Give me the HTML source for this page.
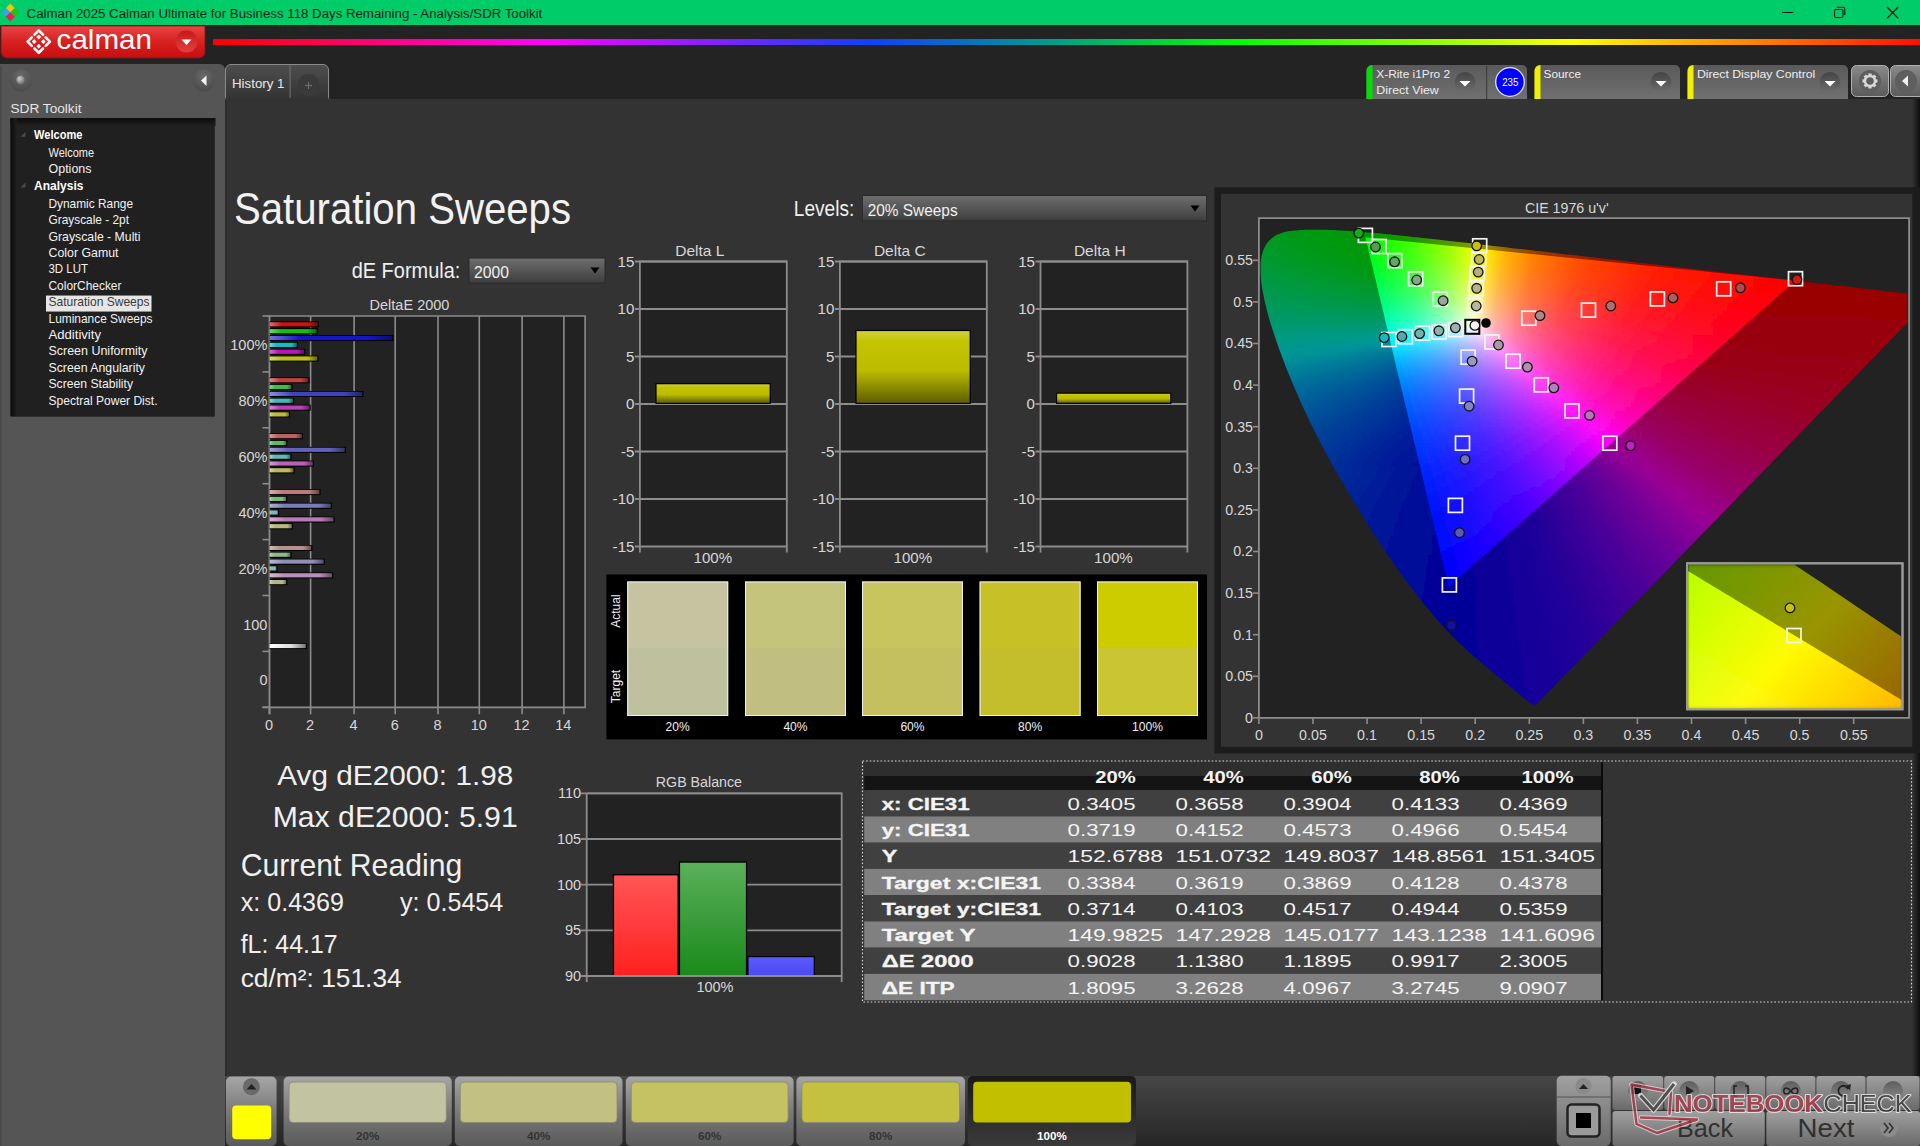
<!DOCTYPE html><html><head><meta charset="utf-8"><title>Calman Saturation Sweeps</title><style>html,body{margin:0;padding:0;width:1920px;height:1146px;overflow:hidden;background:#232323;}svg{display:block;font-family:"Liberation Sans",sans-serif;}</style></head><body><svg width="1920" height="1146" viewBox="0 0 1920 1146" font-family="Liberation Sans, sans-serif"><defs><linearGradient id="gRed" x1="0" y1="0" x2="0" y2="1"><stop offset="0" stop-color="#e84444"/><stop offset="0.5" stop-color="#d82020"/><stop offset="1" stop-color="#c80e0e"/></linearGradient><linearGradient id="gRedBtn" x1="0" y1="0" x2="0" y2="1"><stop offset="0" stop-color="#c81818"/><stop offset="1" stop-color="#e04040"/></linearGradient><linearGradient id="gRain" x1="0" y1="0" x2="1" y2="0"><stop offset="0" stop-color="#ff0000"/><stop offset="0.196" stop-color="#ff00ff"/><stop offset="0.385" stop-color="#1040ff"/><stop offset="0.495" stop-color="#00a088"/><stop offset="0.6" stop-color="#00ff00"/><stop offset="0.797" stop-color="#ffff00"/><stop offset="1" stop-color="#ff1000"/></linearGradient><radialGradient id="gKnob" cx="0.5" cy="0.3" r="0.7"><stop offset="0" stop-color="#6a6a6a"/><stop offset="1" stop-color="#4a4a4a"/></radialGradient><radialGradient id="gBall" cx="0.4" cy="0.35" r="0.6"><stop offset="0" stop-color="#cfcfcf"/><stop offset="1" stop-color="#777"/></radialGradient><linearGradient id="gTreeTop" x1="0" y1="0" x2="0" y2="1"><stop offset="0" stop-color="#0c0c0c"/><stop offset="1" stop-color="#1f1f1f"/></linearGradient><linearGradient id="gTreeL" x1="0" y1="0" x2="1" y2="0"><stop offset="0" stop-color="#0c0c0c"/><stop offset="1" stop-color="#1f1f1f"/></linearGradient><linearGradient id="gTab" x1="0" y1="0" x2="0" y2="1"><stop offset="0" stop-color="#4e4e4e"/><stop offset="1" stop-color="#333333"/></linearGradient><radialGradient id="gPlus" cx="0.5" cy="0.4" r="0.6"><stop offset="0" stop-color="#3c3c3c"/><stop offset="1" stop-color="#444"/></radialGradient><linearGradient id="gTool" x1="0" y1="0" x2="0" y2="1"><stop offset="0" stop-color="#5a5a5a"/><stop offset="1" stop-color="#707070"/></linearGradient><linearGradient id="gDrop" x1="0" y1="0" x2="0" y2="1"><stop offset="0" stop-color="#444"/><stop offset="1" stop-color="#6e6e6e"/></linearGradient><linearGradient id="gGear" x1="0" y1="0" x2="0" y2="1"><stop offset="0" stop-color="#8a8a8a"/><stop offset="1" stop-color="#5a5a5a"/></linearGradient><linearGradient id="gRShadow" x1="0" y1="0" x2="1" y2="0"><stop offset="0" stop-color="#333333"/><stop offset="1" stop-color="#0e0e0e"/></linearGradient><linearGradient id="gCombo" x1="0" y1="0" x2="0" y2="1"><stop offset="0" stop-color="#6e6e6e"/><stop offset="1" stop-color="#3e3e3e"/></linearGradient><linearGradient id="gBar00" x1="0" y1="0" x2="1" y2="0"><stop offset="0" stop-color="#de7272"/><stop offset="0.25" stop-color="#c81414"/><stop offset="0.8" stop-color="#c81414"/><stop offset="1" stop-color="#6e0b0b"/></linearGradient><linearGradient id="gBar01" x1="0" y1="0" x2="1" y2="0"><stop offset="0" stop-color="#72d872"/><stop offset="0.25" stop-color="#14be14"/><stop offset="0.8" stop-color="#14be14"/><stop offset="1" stop-color="#0b680b"/></linearGradient><linearGradient id="gBar02" x1="0" y1="0" x2="1" y2="0"><stop offset="0" stop-color="#7272de"/><stop offset="0.25" stop-color="#1414c8"/><stop offset="0.8" stop-color="#1414c8"/><stop offset="1" stop-color="#0b0b6e"/></linearGradient><linearGradient id="gBar03" x1="0" y1="0" x2="1" y2="0"><stop offset="0" stop-color="#72d8d8"/><stop offset="0.25" stop-color="#14bebe"/><stop offset="0.8" stop-color="#14bebe"/><stop offset="1" stop-color="#0b6868"/></linearGradient><linearGradient id="gBar04" x1="0" y1="0" x2="1" y2="0"><stop offset="0" stop-color="#d872d8"/><stop offset="0.25" stop-color="#be14be"/><stop offset="0.8" stop-color="#be14be"/><stop offset="1" stop-color="#680b68"/></linearGradient><linearGradient id="gBar05" x1="0" y1="0" x2="1" y2="0"><stop offset="0" stop-color="#d8d872"/><stop offset="0.25" stop-color="#bebe14"/><stop offset="0.8" stop-color="#bebe14"/><stop offset="1" stop-color="#68680b"/></linearGradient><linearGradient id="gBar10" x1="0" y1="0" x2="1" y2="0"><stop offset="0" stop-color="#da8d8d"/><stop offset="0.25" stop-color="#c24141"/><stop offset="0.8" stop-color="#c24141"/><stop offset="1" stop-color="#6b2323"/></linearGradient><linearGradient id="gBar11" x1="0" y1="0" x2="1" y2="0"><stop offset="0" stop-color="#8dd68d"/><stop offset="0.25" stop-color="#41bb41"/><stop offset="0.8" stop-color="#41bb41"/><stop offset="1" stop-color="#236723"/></linearGradient><linearGradient id="gBar12" x1="0" y1="0" x2="1" y2="0"><stop offset="0" stop-color="#8d8dda"/><stop offset="0.25" stop-color="#4141c2"/><stop offset="0.8" stop-color="#4141c2"/><stop offset="1" stop-color="#23236b"/></linearGradient><linearGradient id="gBar13" x1="0" y1="0" x2="1" y2="0"><stop offset="0" stop-color="#8dd6d6"/><stop offset="0.25" stop-color="#41bbbb"/><stop offset="0.8" stop-color="#41bbbb"/><stop offset="1" stop-color="#236767"/></linearGradient><linearGradient id="gBar14" x1="0" y1="0" x2="1" y2="0"><stop offset="0" stop-color="#d68dd6"/><stop offset="0.25" stop-color="#bb41bb"/><stop offset="0.8" stop-color="#bb41bb"/><stop offset="1" stop-color="#672367"/></linearGradient><linearGradient id="gBar15" x1="0" y1="0" x2="1" y2="0"><stop offset="0" stop-color="#d6d68d"/><stop offset="0.25" stop-color="#bbbb41"/><stop offset="0.8" stop-color="#bbbb41"/><stop offset="1" stop-color="#676723"/></linearGradient><linearGradient id="gBar20" x1="0" y1="0" x2="1" y2="0"><stop offset="0" stop-color="#d8a0a0"/><stop offset="0.25" stop-color="#bf6161"/><stop offset="0.8" stop-color="#bf6161"/><stop offset="1" stop-color="#693535"/></linearGradient><linearGradient id="gBar21" x1="0" y1="0" x2="1" y2="0"><stop offset="0" stop-color="#a0d5a0"/><stop offset="0.25" stop-color="#61ba61"/><stop offset="0.8" stop-color="#61ba61"/><stop offset="1" stop-color="#356635"/></linearGradient><linearGradient id="gBar22" x1="0" y1="0" x2="1" y2="0"><stop offset="0" stop-color="#a0a0d8"/><stop offset="0.25" stop-color="#6161bf"/><stop offset="0.8" stop-color="#6161bf"/><stop offset="1" stop-color="#353569"/></linearGradient><linearGradient id="gBar23" x1="0" y1="0" x2="1" y2="0"><stop offset="0" stop-color="#a0d5d5"/><stop offset="0.25" stop-color="#61baba"/><stop offset="0.8" stop-color="#61baba"/><stop offset="1" stop-color="#356666"/></linearGradient><linearGradient id="gBar24" x1="0" y1="0" x2="1" y2="0"><stop offset="0" stop-color="#d5a0d5"/><stop offset="0.25" stop-color="#ba61ba"/><stop offset="0.8" stop-color="#ba61ba"/><stop offset="1" stop-color="#663566"/></linearGradient><linearGradient id="gBar25" x1="0" y1="0" x2="1" y2="0"><stop offset="0" stop-color="#d5d5a0"/><stop offset="0.25" stop-color="#baba61"/><stop offset="0.8" stop-color="#baba61"/><stop offset="1" stop-color="#666635"/></linearGradient><linearGradient id="gBar30" x1="0" y1="0" x2="1" y2="0"><stop offset="0" stop-color="#d7b0b0"/><stop offset="0.25" stop-color="#bc7b7b"/><stop offset="0.8" stop-color="#bc7b7b"/><stop offset="1" stop-color="#674444"/></linearGradient><linearGradient id="gBar31" x1="0" y1="0" x2="1" y2="0"><stop offset="0" stop-color="#b0d4b0"/><stop offset="0.25" stop-color="#7bb87b"/><stop offset="0.8" stop-color="#7bb87b"/><stop offset="1" stop-color="#446544"/></linearGradient><linearGradient id="gBar32" x1="0" y1="0" x2="1" y2="0"><stop offset="0" stop-color="#b0b0d7"/><stop offset="0.25" stop-color="#7b7bbc"/><stop offset="0.8" stop-color="#7b7bbc"/><stop offset="1" stop-color="#444467"/></linearGradient><linearGradient id="gBar33" x1="0" y1="0" x2="1" y2="0"><stop offset="0" stop-color="#b0d4d4"/><stop offset="0.25" stop-color="#7bb8b8"/><stop offset="0.8" stop-color="#7bb8b8"/><stop offset="1" stop-color="#446565"/></linearGradient><linearGradient id="gBar34" x1="0" y1="0" x2="1" y2="0"><stop offset="0" stop-color="#d4b0d4"/><stop offset="0.25" stop-color="#b87bb8"/><stop offset="0.8" stop-color="#b87bb8"/><stop offset="1" stop-color="#654465"/></linearGradient><linearGradient id="gBar35" x1="0" y1="0" x2="1" y2="0"><stop offset="0" stop-color="#d4d4b0"/><stop offset="0.25" stop-color="#b8b87b"/><stop offset="0.8" stop-color="#b8b87b"/><stop offset="1" stop-color="#656544"/></linearGradient><linearGradient id="gBar40" x1="0" y1="0" x2="1" y2="0"><stop offset="0" stop-color="#d5bbbb"/><stop offset="0.25" stop-color="#ba8f8f"/><stop offset="0.8" stop-color="#ba8f8f"/><stop offset="1" stop-color="#664e4e"/></linearGradient><linearGradient id="gBar41" x1="0" y1="0" x2="1" y2="0"><stop offset="0" stop-color="#bbd4bb"/><stop offset="0.25" stop-color="#8fb78f"/><stop offset="0.8" stop-color="#8fb78f"/><stop offset="1" stop-color="#4e654e"/></linearGradient><linearGradient id="gBar42" x1="0" y1="0" x2="1" y2="0"><stop offset="0" stop-color="#bbbbd5"/><stop offset="0.25" stop-color="#8f8fba"/><stop offset="0.8" stop-color="#8f8fba"/><stop offset="1" stop-color="#4e4e66"/></linearGradient><linearGradient id="gBar43" x1="0" y1="0" x2="1" y2="0"><stop offset="0" stop-color="#bbd4d4"/><stop offset="0.25" stop-color="#8fb7b7"/><stop offset="0.8" stop-color="#8fb7b7"/><stop offset="1" stop-color="#4e6565"/></linearGradient><linearGradient id="gBar44" x1="0" y1="0" x2="1" y2="0"><stop offset="0" stop-color="#d4bbd4"/><stop offset="0.25" stop-color="#b78fb7"/><stop offset="0.8" stop-color="#b78fb7"/><stop offset="1" stop-color="#654e65"/></linearGradient><linearGradient id="gBar45" x1="0" y1="0" x2="1" y2="0"><stop offset="0" stop-color="#d4d4bb"/><stop offset="0.25" stop-color="#b7b78f"/><stop offset="0.8" stop-color="#b7b78f"/><stop offset="1" stop-color="#65654e"/></linearGradient><linearGradient id="gBarW" x1="0" y1="0" x2="1" y2="0"><stop offset="0" stop-color="#ffffff"/><stop offset="0.6" stop-color="#dddddd"/><stop offset="1" stop-color="#777777"/></linearGradient><linearGradient id="gDeltaBar" x1="0" y1="0" x2="0" y2="1"><stop offset="0" stop-color="#d0d040"/><stop offset="0.15" stop-color="#c4c400"/><stop offset="0.55" stop-color="#bcbc00"/><stop offset="1" stop-color="#5e5e00"/></linearGradient><clipPath id="cpLocus"><polygon points="1536.7,704.2 1536.6,704.2 1536.6,704.2 1536.5,704.2 1536.4,704.3 1536.3,704.3 1536.2,704.3 1536.1,704.4 1536.0,704.4 1535.9,704.5 1535.8,704.5 1535.7,704.6 1535.5,704.6 1535.3,704.7 1535.1,704.7 1534.9,704.7 1534.7,704.7 1534.4,704.7 1534.1,704.6 1533.8,704.6 1533.6,704.6 1533.2,704.5 1532.9,704.4 1532.3,704.2 1531.7,703.9 1530.9,703.3 1530.0,702.8 1529.0,702.1 1527.8,701.2 1526.5,700.2 1525.0,699.1 1523.4,697.8 1521.7,696.3 1519.8,694.7 1517.7,693.0 1515.3,691.0 1512.8,688.9 1509.8,686.4 1506.4,683.6 1502.8,680.6 1499.2,677.6 1495.7,674.7 1492.6,672.2 1490.0,670.0 1487.7,668.1 1485.5,666.3 1483.4,664.5 1481.2,662.7 1478.8,660.6 1476.2,658.3 1473.5,656.0 1470.7,653.6 1467.8,651.0 1464.9,648.3 1461.9,645.4 1458.8,642.4 1455.6,639.4 1452.4,636.2 1449.0,632.8 1445.4,629.0 1441.6,624.8 1437.6,620.2 1433.4,615.3 1428.9,610.0 1424.3,604.4 1419.6,598.5 1414.7,592.3 1409.8,585.7 1404.6,578.7 1399.3,571.5 1393.9,563.9 1388.4,556.0 1382.9,547.8 1377.3,539.3 1371.6,530.4 1365.8,521.1 1359.9,511.7 1354.2,502.2 1348.5,492.6 1342.8,482.8 1337.0,472.9 1331.3,462.8 1325.8,452.7 1320.4,442.6 1315.3,432.8 1310.5,423.0 1305.8,413.1 1301.3,403.4 1297.1,393.8 1293.1,384.4 1289.3,375.4 1285.8,366.7 1282.5,358.1 1279.5,349.9 1276.7,341.9 1274.1,334.2 1271.7,327.0 1269.6,320.2 1267.8,313.7 1266.2,307.6 1264.8,301.7 1263.7,296.2 1262.6,291.0 1261.8,286.1 1261.2,281.6 1260.8,277.3 1260.5,273.3 1260.4,269.6 1260.4,266.0 1260.6,262.6 1261.0,259.4 1261.5,256.5 1262.2,253.8 1263.0,251.2 1263.9,248.8 1265.0,246.5 1266.2,244.5 1267.5,242.6 1269.0,240.9 1270.5,239.3 1272.2,237.9 1273.9,236.6 1275.7,235.5 1277.7,234.5 1279.7,233.7 1281.8,233.0 1283.9,232.3 1286.1,231.7 1288.3,231.3 1290.6,230.9 1293.0,230.7 1295.4,230.4 1297.8,230.2 1300.3,230.0 1302.8,229.9 1305.3,229.8 1307.9,229.8 1310.5,229.8 1313.0,229.7 1315.6,229.7 1318.1,229.7 1320.7,229.7 1323.3,229.8 1325.9,229.8 1328.5,229.9 1331.1,230.0 1333.7,230.1 1336.4,230.2 1339.1,230.4 1341.8,230.5 1344.6,230.7 1347.4,230.8 1350.2,231.0 1353.1,231.2 1356.0,231.4 1358.9,231.7 1361.9,231.9 1365.0,232.2 1368.0,232.4 1371.1,232.7 1374.3,233.0 1377.5,233.3 1380.8,233.6 1384.1,233.9 1387.5,234.3 1390.9,234.6 1394.4,235.0 1397.9,235.3 1401.5,235.7 1405.2,236.1 1408.9,236.5 1412.7,236.9 1416.6,237.3 1420.5,237.7 1424.5,238.2 1428.6,238.6 1432.7,239.1 1436.9,239.6 1441.1,240.0 1445.5,240.5 1449.9,241.0 1454.4,241.5 1459.0,242.0 1463.6,242.6 1468.3,243.1 1473.1,243.6 1478.0,244.2 1482.9,244.8 1488.0,245.3 1493.1,245.9 1498.3,246.5 1503.5,247.1 1508.9,247.7 1514.3,248.4 1519.8,249.0 1525.4,249.6 1531.1,250.3 1536.8,250.9 1542.6,251.6 1548.5,252.3 1554.5,253.0 1560.5,253.7 1566.6,254.4 1572.7,255.1 1579.0,255.8 1585.2,256.5 1591.6,257.2 1598.0,258.0 1604.4,258.7 1610.9,259.5 1617.4,260.2 1623.9,261.0 1630.5,261.7 1637.2,262.5 1643.8,263.3 1650.4,264.0 1657.0,264.8 1663.5,265.5 1669.9,266.3 1676.3,267.0 1682.7,267.7 1689.0,268.4 1695.3,269.2 1701.6,269.9 1707.9,270.6 1714.2,271.3 1720.5,272.1 1726.6,272.8 1732.6,273.5 1738.4,274.1 1744.2,274.8 1749.9,275.4 1755.4,276.1 1760.9,276.7 1766.3,277.3 1771.5,277.9 1776.6,278.5 1781.7,279.1 1786.6,279.6 1791.4,280.2 1796.1,280.7 1800.6,281.3 1805.0,281.8 1809.3,282.3 1813.5,282.7 1817.6,283.2 1821.5,283.7 1825.3,284.1 1829.0,284.5 1832.6,284.9 1836.1,285.3 1839.5,285.7 1842.8,286.1 1845.9,286.5 1848.7,286.8 1851.3,287.1 1854.1,287.4 1857.2,287.8 1860.7,288.2 1865.0,288.7 1869.9,289.2 1875.0,289.8 1880.2,290.4 1885.1,291.0 1889.4,291.5 1893.2,291.9 1896.7,292.3 1900.0,292.7 1902.9,293.0 1905.7,293.3 1908.3,293.6 1910.6,293.9 1912.7,294.1 1914.5,294.4 1916.2,294.5 1917.9,294.7 1919.6,294.9 1921.4,295.1 1923.2,295.4 1925.0,295.6 1926.7,295.8 1928.2,295.9 1929.5,296.1 1930.5,296.2 1931.3,296.3 1931.9,296.4 1932.4,296.4 1932.8,296.5 1933.1,296.5"/></clipPath><clipPath id="cpPlot"><rect x="1259" y="218" width="649" height="499"/></clipPath><clipPath id="cpTri"><polygon points="1795.7,280.6 1365.5,237.3 1448.6,586.5"/></clipPath><filter id="fBlurV" x="-2%" y="-2%" width="104%" height="104%"><feGaussianBlur stdDeviation="0.8 2.2"/></filter><linearGradient id="gd0" gradientUnits="userSpaceOnUse" x1="1260" y1="0" x2="1908" y2="0"><stop offset="0.0008" stop-color="#009919"/><stop offset="0.1505" stop-color="#029900"/><stop offset="0.2245" stop-color="#229900"/><stop offset="0.2971" stop-color="#609900"/><stop offset="0.3465" stop-color="#999600"/><stop offset="0.3989" stop-color="#996100"/><stop offset="0.4823" stop-color="#993700"/><stop offset="0.6319" stop-color="#991800"/><stop offset="0.9745" stop-color="#990400"/><stop offset="0.9992" stop-color="#990400"/></linearGradient><linearGradient id="gd4" gradientUnits="userSpaceOnUse" x1="1260" y1="0" x2="1908" y2="0"><stop offset="0.0008" stop-color="#00991c"/><stop offset="0.1566" stop-color="#029900"/><stop offset="0.2276" stop-color="#229900"/><stop offset="0.2986" stop-color="#609900"/><stop offset="0.3465" stop-color="#999500"/><stop offset="0.3974" stop-color="#996100"/><stop offset="0.4776" stop-color="#993700"/><stop offset="0.6227" stop-color="#991800"/><stop offset="0.9560" stop-color="#990400"/><stop offset="0.9992" stop-color="#990300"/></linearGradient><linearGradient id="gd8" gradientUnits="userSpaceOnUse" x1="1260" y1="0" x2="1908" y2="0"><stop offset="0.0008" stop-color="#00991e"/><stop offset="0.1628" stop-color="#029900"/><stop offset="0.2307" stop-color="#219900"/><stop offset="0.2986" stop-color="#5f9900"/><stop offset="0.3449" stop-color="#999600"/><stop offset="0.3927" stop-color="#996200"/><stop offset="0.4684" stop-color="#993800"/><stop offset="0.6042" stop-color="#991900"/><stop offset="0.9128" stop-color="#990500"/><stop offset="0.9992" stop-color="#990300"/></linearGradient><linearGradient id="gd12" gradientUnits="userSpaceOnUse" x1="1260" y1="0" x2="1908" y2="0"><stop offset="0.0008" stop-color="#009920"/><stop offset="0.1690" stop-color="#029900"/><stop offset="0.2338" stop-color="#209900"/><stop offset="0.2986" stop-color="#5d9900"/><stop offset="0.3449" stop-color="#999500"/><stop offset="0.3912" stop-color="#996100"/><stop offset="0.4653" stop-color="#993700"/><stop offset="0.5980" stop-color="#991800"/><stop offset="0.9020" stop-color="#990400"/><stop offset="0.9992" stop-color="#990200"/></linearGradient><linearGradient id="gd16" gradientUnits="userSpaceOnUse" x1="1260" y1="0" x2="1908" y2="0"><stop offset="0.0008" stop-color="#009923"/><stop offset="0.1767" stop-color="#029900"/><stop offset="0.2384" stop-color="#219900"/><stop offset="0.3002" stop-color="#5e9900"/><stop offset="0.3434" stop-color="#999600"/><stop offset="0.3881" stop-color="#996200"/><stop offset="0.4576" stop-color="#993800"/><stop offset="0.5826" stop-color="#991800"/><stop offset="0.8681" stop-color="#990500"/><stop offset="0.9992" stop-color="#990200"/></linearGradient><linearGradient id="gd20" gradientUnits="userSpaceOnUse" x1="1260" y1="0" x2="1908" y2="0"><stop offset="0.0008" stop-color="#009926"/><stop offset="0.1829" stop-color="#039900"/><stop offset="0.2431" stop-color="#219900"/><stop offset="0.3017" stop-color="#5e9900"/><stop offset="0.3434" stop-color="#999500"/><stop offset="0.3866" stop-color="#996100"/><stop offset="0.4545" stop-color="#993700"/><stop offset="0.5764" stop-color="#991800"/><stop offset="0.8573" stop-color="#990400"/><stop offset="0.9992" stop-color="#990200"/></linearGradient><linearGradient id="gd24" gradientUnits="userSpaceOnUse" x1="1260" y1="0" x2="1908" y2="0"><stop offset="0.0008" stop-color="#009928"/><stop offset="0.1844" stop-color="#039901"/><stop offset="0.2461" stop-color="#229900"/><stop offset="0.3002" stop-color="#5a9900"/><stop offset="0.3418" stop-color="#999700"/><stop offset="0.3819" stop-color="#996300"/><stop offset="0.4452" stop-color="#993800"/><stop offset="0.5579" stop-color="#991900"/><stop offset="0.8140" stop-color="#990500"/><stop offset="0.9992" stop-color="#990100"/></linearGradient><linearGradient id="gd28" gradientUnits="userSpaceOnUse" x1="1260" y1="0" x2="1908" y2="0"><stop offset="0.0008" stop-color="#00992b"/><stop offset="0.1860" stop-color="#039902"/><stop offset="0.2461" stop-color="#229901"/><stop offset="0.3017" stop-color="#5c9900"/><stop offset="0.3418" stop-color="#999600"/><stop offset="0.3804" stop-color="#996100"/><stop offset="0.4406" stop-color="#993800"/><stop offset="0.5486" stop-color="#991900"/><stop offset="0.7955" stop-color="#990500"/><stop offset="0.9992" stop-color="#990100"/></linearGradient><linearGradient id="gd32" gradientUnits="userSpaceOnUse" x1="1260" y1="0" x2="1908" y2="0"><stop offset="0.0008" stop-color="#00992e"/><stop offset="0.1875" stop-color="#039904"/><stop offset="0.2477" stop-color="#239903"/><stop offset="0.3017" stop-color="#5c9902"/><stop offset="0.3403" stop-color="#999701"/><stop offset="0.3789" stop-color="#996100"/><stop offset="0.4360" stop-color="#993700"/><stop offset="0.5394" stop-color="#991800"/><stop offset="0.7770" stop-color="#990400"/><stop offset="0.9992" stop-color="#990000"/></linearGradient><linearGradient id="gd36" gradientUnits="userSpaceOnUse" x1="1260" y1="0" x2="1908" y2="0"><stop offset="0.0008" stop-color="#009931"/><stop offset="0.1890" stop-color="#039906"/><stop offset="0.2492" stop-color="#239905"/><stop offset="0.3032" stop-color="#5e9904"/><stop offset="0.3403" stop-color="#999603"/><stop offset="0.3789" stop-color="#996001"/><stop offset="0.4375" stop-color="#993500"/><stop offset="0.5347" stop-color="#991700"/><stop offset="0.7708" stop-color="#990400"/><stop offset="0.9992" stop-color="#990000"/></linearGradient><linearGradient id="gd40" gradientUnits="userSpaceOnUse" x1="1260" y1="0" x2="1908" y2="0"><stop offset="0.0008" stop-color="#009934"/><stop offset="0.1613" stop-color="#00990d"/><stop offset="0.2153" stop-color="#0d9908"/><stop offset="0.2724" stop-color="#399907"/><stop offset="0.3218" stop-color="#7b9906"/><stop offset="0.3403" stop-color="#999505"/><stop offset="0.3789" stop-color="#995f03"/><stop offset="0.4375" stop-color="#993401"/><stop offset="0.5363" stop-color="#991500"/><stop offset="0.7801" stop-color="#990300"/><stop offset="0.9992" stop-color="#990000"/></linearGradient><linearGradient id="gd44" gradientUnits="userSpaceOnUse" x1="1260" y1="0" x2="1908" y2="0"><stop offset="0.0008" stop-color="#009937"/><stop offset="0.1566" stop-color="#009912"/><stop offset="0.2106" stop-color="#0a990b"/><stop offset="0.2677" stop-color="#34990a"/><stop offset="0.3171" stop-color="#749909"/><stop offset="0.3387" stop-color="#999708"/><stop offset="0.3758" stop-color="#996105"/><stop offset="0.4329" stop-color="#993502"/><stop offset="0.5301" stop-color="#991500"/><stop offset="0.7307" stop-color="#990400"/><stop offset="0.9992" stop-color="#990000"/></linearGradient><linearGradient id="gd48" gradientUnits="userSpaceOnUse" x1="1260" y1="0" x2="1908" y2="0"><stop offset="0.0008" stop-color="#00993b"/><stop offset="0.1551" stop-color="#009917"/><stop offset="0.2029" stop-color="#06990f"/><stop offset="0.2600" stop-color="#2c990e"/><stop offset="0.3094" stop-color="#68990d"/><stop offset="0.3387" stop-color="#99960c"/><stop offset="0.3758" stop-color="#996007"/><stop offset="0.4329" stop-color="#993403"/><stop offset="0.5316" stop-color="#991401"/><stop offset="0.7276" stop-color="#990300"/><stop offset="0.9992" stop-color="#990000"/></linearGradient><linearGradient id="gd52" gradientUnits="userSpaceOnUse" x1="1260" y1="0" x2="1908" y2="0"><stop offset="0.0008" stop-color="#00993e"/><stop offset="0.1535" stop-color="#00991b"/><stop offset="0.1983" stop-color="#049913"/><stop offset="0.2554" stop-color="#279912"/><stop offset="0.3048" stop-color="#629911"/><stop offset="0.3372" stop-color="#999811"/><stop offset="0.3727" stop-color="#99620a"/><stop offset="0.4282" stop-color="#993605"/><stop offset="0.5224" stop-color="#991502"/><stop offset="0.7184" stop-color="#990200"/><stop offset="0.9992" stop-color="#990000"/></linearGradient><linearGradient id="gd56" gradientUnits="userSpaceOnUse" x1="1260" y1="0" x2="1908" y2="0"><stop offset="0.0008" stop-color="#009941"/><stop offset="0.1535" stop-color="#009920"/><stop offset="0.1983" stop-color="#049917"/><stop offset="0.2539" stop-color="#259917"/><stop offset="0.3032" stop-color="#609916"/><stop offset="0.3372" stop-color="#999615"/><stop offset="0.3727" stop-color="#99610e"/><stop offset="0.4282" stop-color="#993507"/><stop offset="0.5224" stop-color="#991503"/><stop offset="0.7215" stop-color="#990200"/><stop offset="0.9992" stop-color="#990001"/></linearGradient><linearGradient id="gd60" gradientUnits="userSpaceOnUse" x1="1260" y1="0" x2="1908" y2="0"><stop offset="0.0008" stop-color="#009945"/><stop offset="0.1983" stop-color="#04991b"/><stop offset="0.2539" stop-color="#25991b"/><stop offset="0.3032" stop-color="#60991c"/><stop offset="0.3372" stop-color="#99951b"/><stop offset="0.3727" stop-color="#996011"/><stop offset="0.4267" stop-color="#99350a"/><stop offset="0.5208" stop-color="#991404"/><stop offset="0.7199" stop-color="#990200"/><stop offset="0.9992" stop-color="#990001"/></linearGradient><linearGradient id="gd64" gradientUnits="userSpaceOnUse" x1="1260" y1="0" x2="1908" y2="0"><stop offset="0.0008" stop-color="#009948"/><stop offset="0.1551" stop-color="#00992a"/><stop offset="0.1983" stop-color="#039920"/><stop offset="0.2523" stop-color="#239921"/><stop offset="0.3017" stop-color="#5e9921"/><stop offset="0.3356" stop-color="#999722"/><stop offset="0.3711" stop-color="#996016"/><stop offset="0.4252" stop-color="#99350c"/><stop offset="0.5177" stop-color="#991405"/><stop offset="0.7137" stop-color="#990201"/><stop offset="0.9992" stop-color="#990001"/></linearGradient><linearGradient id="gd68" gradientUnits="userSpaceOnUse" x1="1260" y1="0" x2="1908" y2="0"><stop offset="0.0008" stop-color="#00994c"/><stop offset="0.1566" stop-color="#00992f"/><stop offset="0.1998" stop-color="#039926"/><stop offset="0.2539" stop-color="#249927"/><stop offset="0.3017" stop-color="#5e9928"/><stop offset="0.3356" stop-color="#999628"/><stop offset="0.3696" stop-color="#99611b"/><stop offset="0.4221" stop-color="#99350f"/><stop offset="0.5116" stop-color="#991507"/><stop offset="0.6998" stop-color="#990201"/><stop offset="0.9992" stop-color="#990002"/></linearGradient><linearGradient id="gd72" gradientUnits="userSpaceOnUse" x1="1260" y1="0" x2="1908" y2="0"><stop offset="0.0008" stop-color="#009950"/><stop offset="0.1597" stop-color="#009933"/><stop offset="0.2029" stop-color="#04992c"/><stop offset="0.2554" stop-color="#25992d"/><stop offset="0.3032" stop-color="#61992f"/><stop offset="0.3356" stop-color="#99952f"/><stop offset="0.3696" stop-color="#996020"/><stop offset="0.4221" stop-color="#993413"/><stop offset="0.5131" stop-color="#991409"/><stop offset="0.7060" stop-color="#990202"/><stop offset="0.9992" stop-color="#990002"/></linearGradient><linearGradient id="gd76" gradientUnits="userSpaceOnUse" x1="1260" y1="0" x2="1908" y2="0"><stop offset="0.0008" stop-color="#009953"/><stop offset="0.1628" stop-color="#009939"/><stop offset="0.2060" stop-color="#059932"/><stop offset="0.2585" stop-color="#279935"/><stop offset="0.3048" stop-color="#639937"/><stop offset="0.3341" stop-color="#999738"/><stop offset="0.3681" stop-color="#996026"/><stop offset="0.4190" stop-color="#993517"/><stop offset="0.5069" stop-color="#99150b"/><stop offset="0.6921" stop-color="#990203"/><stop offset="0.9992" stop-color="#990003"/></linearGradient><linearGradient id="gd80" gradientUnits="userSpaceOnUse" x1="1260" y1="0" x2="1908" y2="0"><stop offset="0.0008" stop-color="#009957"/><stop offset="0.1659" stop-color="#00993e"/><stop offset="0.2091" stop-color="#059939"/><stop offset="0.2600" stop-color="#29993c"/><stop offset="0.3048" stop-color="#649940"/><stop offset="0.3341" stop-color="#999541"/><stop offset="0.3681" stop-color="#995f2c"/><stop offset="0.4190" stop-color="#99341a"/><stop offset="0.5069" stop-color="#99140d"/><stop offset="0.6937" stop-color="#990204"/><stop offset="0.9992" stop-color="#990003"/></linearGradient><linearGradient id="gd84" gradientUnits="userSpaceOnUse" x1="1260" y1="0" x2="1908" y2="0"><stop offset="0.0008" stop-color="#00995b"/><stop offset="0.1721" stop-color="#009944"/><stop offset="0.2199" stop-color="#0a9941"/><stop offset="0.2693" stop-color="#329946"/><stop offset="0.3125" stop-color="#72994a"/><stop offset="0.3326" stop-color="#99974c"/><stop offset="0.3650" stop-color="#996134"/><stop offset="0.4144" stop-color="#993620"/><stop offset="0.4992" stop-color="#991510"/><stop offset="0.6767" stop-color="#990205"/><stop offset="0.9992" stop-color="#990004"/></linearGradient><linearGradient id="gd88" gradientUnits="userSpaceOnUse" x1="1260" y1="0" x2="1908" y2="0"><stop offset="0.0008" stop-color="#00995f"/><stop offset="0.2076" stop-color="#049948"/><stop offset="0.2569" stop-color="#25994d"/><stop offset="0.3017" stop-color="#5f9953"/><stop offset="0.3326" stop-color="#999656"/><stop offset="0.3650" stop-color="#99603b"/><stop offset="0.4144" stop-color="#993524"/><stop offset="0.4992" stop-color="#991512"/><stop offset="0.6782" stop-color="#990206"/><stop offset="0.9992" stop-color="#990005"/></linearGradient><linearGradient id="gd92" gradientUnits="userSpaceOnUse" x1="1260" y1="0" x2="1908" y2="0"><stop offset="0.0008" stop-color="#009963"/><stop offset="0.2091" stop-color="#049951"/><stop offset="0.2585" stop-color="#269957"/><stop offset="0.3017" stop-color="#5f995e"/><stop offset="0.3326" stop-color="#999561"/><stop offset="0.3650" stop-color="#995f42"/><stop offset="0.4144" stop-color="#993429"/><stop offset="0.4992" stop-color="#991415"/><stop offset="0.6798" stop-color="#990207"/><stop offset="0.9992" stop-color="#990005"/></linearGradient><linearGradient id="gd96" gradientUnits="userSpaceOnUse" x1="1260" y1="0" x2="1908" y2="0"><stop offset="0.0008" stop-color="#009968"/><stop offset="0.2106" stop-color="#04995a"/><stop offset="0.2585" stop-color="#259961"/><stop offset="0.3017" stop-color="#60996a"/><stop offset="0.3310" stop-color="#99976f"/><stop offset="0.3619" stop-color="#99614c"/><stop offset="0.4097" stop-color="#993530"/><stop offset="0.4915" stop-color="#991519"/><stop offset="0.6628" stop-color="#990209"/><stop offset="0.9992" stop-color="#990006"/></linearGradient><linearGradient id="gd100" gradientUnits="userSpaceOnUse" x1="1260" y1="0" x2="1908" y2="0"><stop offset="0.0008" stop-color="#00996c"/><stop offset="0.2122" stop-color="#049964"/><stop offset="0.2600" stop-color="#26996d"/><stop offset="0.3032" stop-color="#639976"/><stop offset="0.3310" stop-color="#99967b"/><stop offset="0.3619" stop-color="#996055"/><stop offset="0.4097" stop-color="#993435"/><stop offset="0.4915" stop-color="#99141c"/><stop offset="0.6644" stop-color="#99020a"/><stop offset="0.9992" stop-color="#990007"/></linearGradient><linearGradient id="gd104" gradientUnits="userSpaceOnUse" x1="1260" y1="0" x2="1908" y2="0"><stop offset="0.0008" stop-color="#009970"/><stop offset="0.2122" stop-color="#04996e"/><stop offset="0.2585" stop-color="#249978"/><stop offset="0.3002" stop-color="#5d9983"/><stop offset="0.3295" stop-color="#99988b"/><stop offset="0.3588" stop-color="#996362"/><stop offset="0.4035" stop-color="#99373e"/><stop offset="0.4807" stop-color="#991621"/><stop offset="0.6412" stop-color="#99030c"/><stop offset="0.9992" stop-color="#990008"/></linearGradient><linearGradient id="gd108" gradientUnits="userSpaceOnUse" x1="1260" y1="0" x2="1908" y2="0"><stop offset="0.0008" stop-color="#009975"/><stop offset="0.2137" stop-color="#04997a"/><stop offset="0.2600" stop-color="#259985"/><stop offset="0.3017" stop-color="#609992"/><stop offset="0.3310" stop-color="#989296"/><stop offset="0.3634" stop-color="#995b66"/><stop offset="0.4113" stop-color="#993140"/><stop offset="0.4946" stop-color="#991222"/><stop offset="0.6767" stop-color="#99010c"/><stop offset="0.9992" stop-color="#990008"/></linearGradient><linearGradient id="gd112" gradientUnits="userSpaceOnUse" x1="1260" y1="0" x2="1908" y2="0"><stop offset="0.0008" stop-color="#009979"/><stop offset="0.2122" stop-color="#039985"/><stop offset="0.2585" stop-color="#239992"/><stop offset="0.3125" stop-color="#6d8d99"/><stop offset="0.3387" stop-color="#988095"/><stop offset="0.3742" stop-color="#994d64"/><stop offset="0.4298" stop-color="#99263c"/><stop offset="0.5316" stop-color="#990b1d"/><stop offset="0.7539" stop-color="#99000a"/><stop offset="0.9992" stop-color="#990009"/></linearGradient><linearGradient id="gd116" gradientUnits="userSpaceOnUse" x1="1260" y1="0" x2="1908" y2="0"><stop offset="0.0008" stop-color="#00997e"/><stop offset="0.1998" stop-color="#00998e"/><stop offset="0.2446" stop-color="#159698"/><stop offset="0.2986" stop-color="#4f8499"/><stop offset="0.3465" stop-color="#997195"/><stop offset="0.3850" stop-color="#994262"/><stop offset="0.4468" stop-color="#991e39"/><stop offset="0.5610" stop-color="#99071b"/><stop offset="0.7801" stop-color="#99000b"/><stop offset="0.9992" stop-color="#99000a"/></linearGradient><linearGradient id="gd120" gradientUnits="userSpaceOnUse" x1="1260" y1="0" x2="1908" y2="0"><stop offset="0.0008" stop-color="#009982"/><stop offset="0.1844" stop-color="#009996"/><stop offset="0.2292" stop-color="#098e99"/><stop offset="0.2832" stop-color="#367d99"/><stop offset="0.3387" stop-color="#836b99"/><stop offset="0.3542" stop-color="#996395"/><stop offset="0.3943" stop-color="#993962"/><stop offset="0.4591" stop-color="#991939"/><stop offset="0.5795" stop-color="#99051a"/><stop offset="0.7894" stop-color="#99000c"/><stop offset="0.9992" stop-color="#99000b"/></linearGradient><linearGradient id="gd124" gradientUnits="userSpaceOnUse" x1="1260" y1="0" x2="1908" y2="0"><stop offset="0.0008" stop-color="#009987"/><stop offset="0.1736" stop-color="#009499"/><stop offset="0.2276" stop-color="#078399"/><stop offset="0.2832" stop-color="#317299"/><stop offset="0.3403" stop-color="#7a6199"/><stop offset="0.3619" stop-color="#995794"/><stop offset="0.4035" stop-color="#993161"/><stop offset="0.4699" stop-color="#991539"/><stop offset="0.5934" stop-color="#99041b"/><stop offset="0.7924" stop-color="#99000d"/><stop offset="0.9992" stop-color="#99000c"/></linearGradient><linearGradient id="gd128" gradientUnits="userSpaceOnUse" x1="1260" y1="0" x2="1908" y2="0"><stop offset="0.0008" stop-color="#00998c"/><stop offset="0.1397" stop-color="#009399"/><stop offset="0.2245" stop-color="#057a99"/><stop offset="0.2816" stop-color="#2b6999"/><stop offset="0.3418" stop-color="#735899"/><stop offset="0.3681" stop-color="#994e96"/><stop offset="0.4113" stop-color="#992b63"/><stop offset="0.4807" stop-color="#991239"/><stop offset="0.6088" stop-color="#99031b"/><stop offset="0.8002" stop-color="#99000f"/><stop offset="0.9992" stop-color="#99000d"/></linearGradient><linearGradient id="gd132" gradientUnits="userSpaceOnUse" x1="1260" y1="0" x2="1908" y2="0"><stop offset="0.0008" stop-color="#009991"/><stop offset="0.1134" stop-color="#009199"/><stop offset="0.2261" stop-color="#057099"/><stop offset="0.2863" stop-color="#2c5f99"/><stop offset="0.3480" stop-color="#734e99"/><stop offset="0.3758" stop-color="#994595"/><stop offset="0.4205" stop-color="#992562"/><stop offset="0.4915" stop-color="#990f3a"/><stop offset="0.6227" stop-color="#99021b"/><stop offset="0.8248" stop-color="#990010"/><stop offset="0.9992" stop-color="#99000e"/></linearGradient><linearGradient id="gd136" gradientUnits="userSpaceOnUse" x1="1260" y1="0" x2="1908" y2="0"><stop offset="0.0008" stop-color="#009996"/><stop offset="0.1304" stop-color="#008699"/><stop offset="0.2292" stop-color="#056699"/><stop offset="0.2909" stop-color="#2c5699"/><stop offset="0.3557" stop-color="#744599"/><stop offset="0.3835" stop-color="#993c95"/><stop offset="0.4298" stop-color="#992062"/><stop offset="0.5039" stop-color="#990c39"/><stop offset="0.6412" stop-color="#99011b"/><stop offset="0.9792" stop-color="#99000f"/><stop offset="0.9992" stop-color="#99000f"/></linearGradient><linearGradient id="gd140" gradientUnits="userSpaceOnUse" x1="1260" y1="0" x2="1908" y2="0"><stop offset="0.0008" stop-color="#009799"/><stop offset="0.1613" stop-color="#007799"/><stop offset="0.2338" stop-color="#065d99"/><stop offset="0.2986" stop-color="#2f4d99"/><stop offset="0.3650" stop-color="#783d99"/><stop offset="0.3912" stop-color="#993594"/><stop offset="0.4390" stop-color="#991b62"/><stop offset="0.5162" stop-color="#990939"/><stop offset="0.6597" stop-color="#99001a"/><stop offset="0.9992" stop-color="#990010"/></linearGradient><linearGradient id="gd144" gradientUnits="userSpaceOnUse" x1="1260" y1="0" x2="1908" y2="0"><stop offset="0.0008" stop-color="#009299"/><stop offset="0.1597" stop-color="#007199"/><stop offset="0.2353" stop-color="#065699"/><stop offset="0.3017" stop-color="#2e4699"/><stop offset="0.3711" stop-color="#783699"/><stop offset="0.3989" stop-color="#992e94"/><stop offset="0.4483" stop-color="#991761"/><stop offset="0.5285" stop-color="#990739"/><stop offset="0.6767" stop-color="#99001a"/><stop offset="0.9992" stop-color="#990011"/></linearGradient><linearGradient id="gd148" gradientUnits="userSpaceOnUse" x1="1260" y1="0" x2="1908" y2="0"><stop offset="0.0008" stop-color="#008e99"/><stop offset="0.1597" stop-color="#006b99"/><stop offset="0.2384" stop-color="#064f99"/><stop offset="0.3063" stop-color="#2e4099"/><stop offset="0.3773" stop-color="#773099"/><stop offset="0.4051" stop-color="#992995"/><stop offset="0.4560" stop-color="#991462"/><stop offset="0.5378" stop-color="#990639"/><stop offset="0.6813" stop-color="#99001c"/><stop offset="0.9992" stop-color="#990012"/></linearGradient><linearGradient id="gd152" gradientUnits="userSpaceOnUse" x1="1260" y1="0" x2="1908" y2="0"><stop offset="0.0008" stop-color="#008999"/><stop offset="0.1597" stop-color="#006599"/><stop offset="0.2400" stop-color="#064999"/><stop offset="0.3110" stop-color="#2e3a99"/><stop offset="0.3835" stop-color="#772a99"/><stop offset="0.4128" stop-color="#992495"/><stop offset="0.4653" stop-color="#991162"/><stop offset="0.5502" stop-color="#990439"/><stop offset="0.6890" stop-color="#99001e"/><stop offset="0.9992" stop-color="#990013"/></linearGradient><linearGradient id="gd156" gradientUnits="userSpaceOnUse" x1="1260" y1="0" x2="1908" y2="0"><stop offset="0.0008" stop-color="#008599"/><stop offset="0.1613" stop-color="#006099"/><stop offset="0.2415" stop-color="#054399"/><stop offset="0.3140" stop-color="#2d3499"/><stop offset="0.3897" stop-color="#762599"/><stop offset="0.4205" stop-color="#991f95"/><stop offset="0.4745" stop-color="#990e62"/><stop offset="0.5610" stop-color="#990339"/><stop offset="0.6937" stop-color="#990020"/><stop offset="0.9992" stop-color="#990014"/></linearGradient><linearGradient id="gd160" gradientUnits="userSpaceOnUse" x1="1260" y1="0" x2="1908" y2="0"><stop offset="0.0008" stop-color="#008199"/><stop offset="0.1613" stop-color="#005b99"/><stop offset="0.2415" stop-color="#053e99"/><stop offset="0.3156" stop-color="#2b3099"/><stop offset="0.3927" stop-color="#732299"/><stop offset="0.4282" stop-color="#991a94"/><stop offset="0.4838" stop-color="#990c62"/><stop offset="0.5733" stop-color="#990239"/><stop offset="0.6983" stop-color="#990022"/><stop offset="0.9992" stop-color="#990015"/></linearGradient><linearGradient id="gd164" gradientUnits="userSpaceOnUse" x1="1260" y1="0" x2="1908" y2="0"><stop offset="0.0008" stop-color="#007d99"/><stop offset="0.1628" stop-color="#005699"/><stop offset="0.2415" stop-color="#043a99"/><stop offset="0.3171" stop-color="#292c99"/><stop offset="0.3974" stop-color="#711e99"/><stop offset="0.4344" stop-color="#991796"/><stop offset="0.4915" stop-color="#990a62"/><stop offset="0.5826" stop-color="#99013a"/><stop offset="0.7029" stop-color="#990024"/><stop offset="0.9992" stop-color="#990016"/></linearGradient><linearGradient id="gd168" gradientUnits="userSpaceOnUse" x1="1260" y1="0" x2="1908" y2="0"><stop offset="0.0008" stop-color="#007a99"/><stop offset="0.1644" stop-color="#005199"/><stop offset="0.2415" stop-color="#043699"/><stop offset="0.3187" stop-color="#272899"/><stop offset="0.4005" stop-color="#6d1b99"/><stop offset="0.4421" stop-color="#991495"/><stop offset="0.5008" stop-color="#990862"/><stop offset="0.5949" stop-color="#990139"/><stop offset="0.7292" stop-color="#990024"/><stop offset="0.9992" stop-color="#990017"/></linearGradient><linearGradient id="gd172" gradientUnits="userSpaceOnUse" x1="1260" y1="0" x2="1908" y2="0"><stop offset="0.0008" stop-color="#007699"/><stop offset="0.1659" stop-color="#004d99"/><stop offset="0.2431" stop-color="#033299"/><stop offset="0.3218" stop-color="#272599"/><stop offset="0.4051" stop-color="#6c1899"/><stop offset="0.4498" stop-color="#991195"/><stop offset="0.5100" stop-color="#990662"/><stop offset="0.6073" stop-color="#990039"/><stop offset="0.7847" stop-color="#990022"/><stop offset="0.9992" stop-color="#990018"/></linearGradient><linearGradient id="gd176" gradientUnits="userSpaceOnUse" x1="1260" y1="0" x2="1908" y2="0"><stop offset="0.0008" stop-color="#007399"/><stop offset="0.1674" stop-color="#004999"/><stop offset="0.2431" stop-color="#032f99"/><stop offset="0.3248" stop-color="#262199"/><stop offset="0.4113" stop-color="#6b1599"/><stop offset="0.4576" stop-color="#990e94"/><stop offset="0.5193" stop-color="#990562"/><stop offset="0.6181" stop-color="#990039"/><stop offset="0.8295" stop-color="#990021"/><stop offset="0.9992" stop-color="#99001a"/></linearGradient><linearGradient id="gd180" gradientUnits="userSpaceOnUse" x1="1260" y1="0" x2="1908" y2="0"><stop offset="0.0008" stop-color="#007099"/><stop offset="0.1705" stop-color="#004499"/><stop offset="0.2446" stop-color="#032b99"/><stop offset="0.3279" stop-color="#261e99"/><stop offset="0.4159" stop-color="#6a1299"/><stop offset="0.4637" stop-color="#990c96"/><stop offset="0.5270" stop-color="#990362"/><stop offset="0.6242" stop-color="#99003b"/><stop offset="0.8403" stop-color="#990022"/><stop offset="0.9992" stop-color="#99001b"/></linearGradient><linearGradient id="gd184" gradientUnits="userSpaceOnUse" x1="1260" y1="0" x2="1908" y2="0"><stop offset="0.0008" stop-color="#006c99"/><stop offset="0.1721" stop-color="#004199"/><stop offset="0.2461" stop-color="#032899"/><stop offset="0.3310" stop-color="#251c99"/><stop offset="0.4221" stop-color="#6a1099"/><stop offset="0.4715" stop-color="#990a95"/><stop offset="0.5363" stop-color="#990262"/><stop offset="0.6289" stop-color="#99003e"/><stop offset="0.8387" stop-color="#990024"/><stop offset="0.9992" stop-color="#99001c"/></linearGradient><linearGradient id="gd188" gradientUnits="userSpaceOnUse" x1="1260" y1="0" x2="1908" y2="0"><stop offset="0.0008" stop-color="#006999"/><stop offset="0.1752" stop-color="#003d99"/><stop offset="0.2477" stop-color="#032599"/><stop offset="0.3341" stop-color="#251999"/><stop offset="0.4267" stop-color="#690d99"/><stop offset="0.4792" stop-color="#990895"/><stop offset="0.5455" stop-color="#990262"/><stop offset="0.6350" stop-color="#990040"/><stop offset="0.8434" stop-color="#990025"/><stop offset="0.9992" stop-color="#99001d"/></linearGradient><linearGradient id="gd192" gradientUnits="userSpaceOnUse" x1="1260" y1="0" x2="1908" y2="0"><stop offset="0.0008" stop-color="#006799"/><stop offset="0.1782" stop-color="#003999"/><stop offset="0.2492" stop-color="#032299"/><stop offset="0.3387" stop-color="#251699"/><stop offset="0.4344" stop-color="#6a0b99"/><stop offset="0.4869" stop-color="#990695"/><stop offset="0.5548" stop-color="#990162"/><stop offset="0.6427" stop-color="#990041"/><stop offset="0.8511" stop-color="#990026"/><stop offset="0.9992" stop-color="#99001e"/></linearGradient><linearGradient id="gd196" gradientUnits="userSpaceOnUse" x1="1260" y1="0" x2="1908" y2="0"><stop offset="0.0008" stop-color="#006499"/><stop offset="0.1798" stop-color="#003699"/><stop offset="0.2508" stop-color="#022099"/><stop offset="0.3418" stop-color="#241499"/><stop offset="0.4390" stop-color="#690a99"/><stop offset="0.4931" stop-color="#990596"/><stop offset="0.5610" stop-color="#990063"/><stop offset="0.6551" stop-color="#990042"/><stop offset="0.8696" stop-color="#990027"/><stop offset="0.9992" stop-color="#990020"/></linearGradient><linearGradient id="gd200" gradientUnits="userSpaceOnUse" x1="1260" y1="0" x2="1908" y2="0"><stop offset="0.0008" stop-color="#006199"/><stop offset="0.1829" stop-color="#003399"/><stop offset="0.2539" stop-color="#031d99"/><stop offset="0.3465" stop-color="#251299"/><stop offset="0.4452" stop-color="#690899"/><stop offset="0.5008" stop-color="#990496"/><stop offset="0.5718" stop-color="#990062"/><stop offset="0.6813" stop-color="#990040"/><stop offset="0.9205" stop-color="#990025"/><stop offset="0.9992" stop-color="#990021"/></linearGradient><linearGradient id="gd204" gradientUnits="userSpaceOnUse" x1="1260" y1="0" x2="1908" y2="0"><stop offset="0.0008" stop-color="#005f99"/><stop offset="0.1875" stop-color="#002f99"/><stop offset="0.2554" stop-color="#031b99"/><stop offset="0.3511" stop-color="#251099"/><stop offset="0.4529" stop-color="#6a0699"/><stop offset="0.5085" stop-color="#990295"/><stop offset="0.5795" stop-color="#990063"/><stop offset="0.6968" stop-color="#990040"/><stop offset="0.9468" stop-color="#990025"/><stop offset="0.9992" stop-color="#990022"/></linearGradient><linearGradient id="gd208" gradientUnits="userSpaceOnUse" x1="1260" y1="0" x2="1908" y2="0"><stop offset="0.0008" stop-color="#005c99"/><stop offset="0.1906" stop-color="#002c99"/><stop offset="0.2585" stop-color="#031999"/><stop offset="0.3557" stop-color="#250e99"/><stop offset="0.4591" stop-color="#6a0599"/><stop offset="0.5162" stop-color="#990295"/><stop offset="0.5856" stop-color="#990065"/><stop offset="0.7029" stop-color="#990041"/><stop offset="0.9514" stop-color="#990026"/><stop offset="0.9992" stop-color="#990024"/></linearGradient><linearGradient id="gd212" gradientUnits="userSpaceOnUse" x1="1260" y1="0" x2="1908" y2="0"><stop offset="0.0008" stop-color="#005a99"/><stop offset="0.1937" stop-color="#002999"/><stop offset="0.2600" stop-color="#031799"/><stop offset="0.3588" stop-color="#250d99"/><stop offset="0.4653" stop-color="#6a0499"/><stop offset="0.5239" stop-color="#990195"/><stop offset="0.5918" stop-color="#990067"/><stop offset="0.7106" stop-color="#990043"/><stop offset="0.9591" stop-color="#990027"/><stop offset="0.9992" stop-color="#990025"/></linearGradient><linearGradient id="gd216" gradientUnits="userSpaceOnUse" x1="1260" y1="0" x2="1908" y2="0"><stop offset="0.0008" stop-color="#005899"/><stop offset="0.1983" stop-color="#002599"/><stop offset="0.2647" stop-color="#031599"/><stop offset="0.3665" stop-color="#270b99"/><stop offset="0.4745" stop-color="#6c0399"/><stop offset="0.5301" stop-color="#990096"/><stop offset="0.5995" stop-color="#990068"/><stop offset="0.7215" stop-color="#990043"/><stop offset="0.9745" stop-color="#990028"/><stop offset="0.9992" stop-color="#990026"/></linearGradient><linearGradient id="gd220" gradientUnits="userSpaceOnUse" x1="1260" y1="0" x2="1908" y2="0"><stop offset="0.0008" stop-color="#005699"/><stop offset="0.2029" stop-color="#002299"/><stop offset="0.2693" stop-color="#041399"/><stop offset="0.3742" stop-color="#290999"/><stop offset="0.4838" stop-color="#6f0299"/><stop offset="0.5378" stop-color="#990095"/><stop offset="0.6103" stop-color="#990068"/><stop offset="0.7369" stop-color="#990043"/><stop offset="0.9992" stop-color="#990028"/></linearGradient><linearGradient id="gd224" gradientUnits="userSpaceOnUse" x1="1260" y1="0" x2="1908" y2="0"><stop offset="0.0008" stop-color="#005499"/><stop offset="0.2076" stop-color="#001f99"/><stop offset="0.2739" stop-color="#041199"/><stop offset="0.3804" stop-color="#2a0899"/><stop offset="0.4931" stop-color="#710199"/><stop offset="0.5455" stop-color="#990095"/><stop offset="0.6211" stop-color="#990067"/><stop offset="0.7539" stop-color="#990043"/><stop offset="0.9992" stop-color="#990029"/></linearGradient><linearGradient id="gd228" gradientUnits="userSpaceOnUse" x1="1260" y1="0" x2="1908" y2="0"><stop offset="0.0008" stop-color="#005199"/><stop offset="0.2122" stop-color="#001d99"/><stop offset="0.2832" stop-color="#060f99"/><stop offset="0.3927" stop-color="#2e0699"/><stop offset="0.5069" stop-color="#770099"/><stop offset="0.5532" stop-color="#990095"/><stop offset="0.6319" stop-color="#990067"/><stop offset="0.7693" stop-color="#990043"/><stop offset="0.9992" stop-color="#99002b"/></linearGradient><linearGradient id="gd232" gradientUnits="userSpaceOnUse" x1="1260" y1="0" x2="1908" y2="0"><stop offset="0.0008" stop-color="#005099"/><stop offset="0.2184" stop-color="#001999"/><stop offset="0.3048" stop-color="#0a0c99"/><stop offset="0.4190" stop-color="#390499"/><stop offset="0.5347" stop-color="#880099"/><stop offset="0.5625" stop-color="#990093"/><stop offset="0.6443" stop-color="#990066"/><stop offset="0.7878" stop-color="#990042"/><stop offset="0.9992" stop-color="#99002c"/></linearGradient><linearGradient id="gd236" gradientUnits="userSpaceOnUse" x1="1260" y1="0" x2="1908" y2="0"><stop offset="0.0008" stop-color="#004e99"/><stop offset="0.2245" stop-color="#001699"/><stop offset="0.3187" stop-color="#0d0a99"/><stop offset="0.4360" stop-color="#400399"/><stop offset="0.5517" stop-color="#900099"/><stop offset="0.5748" stop-color="#990090"/><stop offset="0.6628" stop-color="#990063"/><stop offset="0.8187" stop-color="#990040"/><stop offset="0.9992" stop-color="#99002d"/></linearGradient><linearGradient id="gd240" gradientUnits="userSpaceOnUse" x1="1260" y1="0" x2="1908" y2="0"><stop offset="0.0008" stop-color="#004c99"/><stop offset="0.2307" stop-color="#001399"/><stop offset="0.3264" stop-color="#0f0999"/><stop offset="0.4452" stop-color="#420299"/><stop offset="0.5640" stop-color="#940099"/><stop offset="0.6227" stop-color="#990078"/><stop offset="0.7415" stop-color="#990050"/><stop offset="0.9715" stop-color="#990031"/><stop offset="0.9992" stop-color="#99002f"/></linearGradient><linearGradient id="gd244" gradientUnits="userSpaceOnUse" x1="1260" y1="0" x2="1908" y2="0"><stop offset="0.0008" stop-color="#004a99"/><stop offset="0.2400" stop-color="#001099"/><stop offset="0.3418" stop-color="#130799"/><stop offset="0.4637" stop-color="#4a0199"/><stop offset="0.5826" stop-color="#990095"/><stop offset="0.6705" stop-color="#990068"/><stop offset="0.8248" stop-color="#990043"/><stop offset="0.9992" stop-color="#990030"/></linearGradient><linearGradient id="gd248" gradientUnits="userSpaceOnUse" x1="1260" y1="0" x2="1908" y2="0"><stop offset="0.0008" stop-color="#004899"/><stop offset="0.2739" stop-color="#020b99"/><stop offset="0.3912" stop-color="#230399"/><stop offset="0.5116" stop-color="#640099"/><stop offset="0.5903" stop-color="#990095"/><stop offset="0.6813" stop-color="#990067"/><stop offset="0.8403" stop-color="#990043"/><stop offset="0.9992" stop-color="#990032"/></linearGradient><linearGradient id="gd252" gradientUnits="userSpaceOnUse" x1="1260" y1="0" x2="1908" y2="0"><stop offset="0.0008" stop-color="#004799"/><stop offset="0.2755" stop-color="#020a99"/><stop offset="0.3943" stop-color="#230399"/><stop offset="0.5131" stop-color="#620099"/><stop offset="0.5980" stop-color="#990095"/><stop offset="0.6921" stop-color="#990067"/><stop offset="0.8573" stop-color="#990043"/><stop offset="0.9992" stop-color="#990033"/></linearGradient><linearGradient id="gd256" gradientUnits="userSpaceOnUse" x1="1260" y1="0" x2="1908" y2="0"><stop offset="0.0008" stop-color="#004599"/><stop offset="0.2770" stop-color="#020999"/><stop offset="0.3974" stop-color="#230299"/><stop offset="0.5131" stop-color="#5f0099"/><stop offset="0.6042" stop-color="#990096"/><stop offset="0.6998" stop-color="#990068"/><stop offset="0.8665" stop-color="#990043"/><stop offset="0.9992" stop-color="#990035"/></linearGradient><linearGradient id="gd260" gradientUnits="userSpaceOnUse" x1="1260" y1="0" x2="1908" y2="0"><stop offset="0.0008" stop-color="#004499"/><stop offset="0.2785" stop-color="#020899"/><stop offset="0.4020" stop-color="#230299"/><stop offset="0.5162" stop-color="#5d0099"/><stop offset="0.6119" stop-color="#990095"/><stop offset="0.7106" stop-color="#990068"/><stop offset="0.8835" stop-color="#990043"/><stop offset="0.9992" stop-color="#990036"/></linearGradient><linearGradient id="gd264" gradientUnits="userSpaceOnUse" x1="1260" y1="0" x2="1908" y2="0"><stop offset="0.0008" stop-color="#004299"/><stop offset="0.2801" stop-color="#020899"/><stop offset="0.4051" stop-color="#230199"/><stop offset="0.5162" stop-color="#5a0099"/><stop offset="0.6196" stop-color="#990095"/><stop offset="0.7199" stop-color="#990068"/><stop offset="0.8958" stop-color="#990043"/><stop offset="0.9992" stop-color="#990038"/></linearGradient><linearGradient id="gd268" gradientUnits="userSpaceOnUse" x1="1260" y1="0" x2="1908" y2="0"><stop offset="0.0008" stop-color="#004199"/><stop offset="0.2816" stop-color="#020799"/><stop offset="0.4082" stop-color="#220199"/><stop offset="0.5208" stop-color="#5a0099"/><stop offset="0.6273" stop-color="#990095"/><stop offset="0.7307" stop-color="#990068"/><stop offset="0.9128" stop-color="#990043"/><stop offset="0.9992" stop-color="#990039"/></linearGradient><linearGradient id="gd272" gradientUnits="userSpaceOnUse" x1="1260" y1="0" x2="1908" y2="0"><stop offset="0.0008" stop-color="#003f99"/><stop offset="0.2832" stop-color="#020699"/><stop offset="0.4113" stop-color="#220199"/><stop offset="0.5316" stop-color="#5e0099"/><stop offset="0.6350" stop-color="#990095"/><stop offset="0.7415" stop-color="#990067"/><stop offset="0.9282" stop-color="#990043"/><stop offset="0.9992" stop-color="#99003b"/></linearGradient><linearGradient id="gd276" gradientUnits="userSpaceOnUse" x1="1260" y1="0" x2="1908" y2="0"><stop offset="0.0008" stop-color="#003e99"/><stop offset="0.2847" stop-color="#020699"/><stop offset="0.4159" stop-color="#220099"/><stop offset="0.5594" stop-color="#6b0099"/><stop offset="0.6427" stop-color="#990095"/><stop offset="0.7523" stop-color="#990067"/><stop offset="0.9437" stop-color="#990043"/><stop offset="0.9992" stop-color="#99003d"/></linearGradient><linearGradient id="gd280" gradientUnits="userSpaceOnUse" x1="1260" y1="0" x2="1908" y2="0"><stop offset="0.0008" stop-color="#003d99"/><stop offset="0.2863" stop-color="#020599"/><stop offset="0.4190" stop-color="#220099"/><stop offset="0.5826" stop-color="#750099"/><stop offset="0.6505" stop-color="#990095"/><stop offset="0.7631" stop-color="#990067"/><stop offset="0.9606" stop-color="#990042"/><stop offset="0.9992" stop-color="#99003e"/></linearGradient><linearGradient id="gd284" gradientUnits="userSpaceOnUse" x1="1260" y1="0" x2="1908" y2="0"><stop offset="0.0008" stop-color="#003b99"/><stop offset="0.2878" stop-color="#020499"/><stop offset="0.4221" stop-color="#220099"/><stop offset="0.6042" stop-color="#7e0099"/><stop offset="0.6582" stop-color="#990094"/><stop offset="0.7724" stop-color="#990067"/><stop offset="0.9730" stop-color="#990043"/><stop offset="0.9992" stop-color="#990040"/></linearGradient><linearGradient id="gd288" gradientUnits="userSpaceOnUse" x1="1260" y1="0" x2="1908" y2="0"><stop offset="0.0008" stop-color="#003a99"/><stop offset="0.2894" stop-color="#020499"/><stop offset="0.4252" stop-color="#220099"/><stop offset="0.6258" stop-color="#870099"/><stop offset="0.6674" stop-color="#990093"/><stop offset="0.7863" stop-color="#990066"/><stop offset="0.9946" stop-color="#990042"/><stop offset="0.9992" stop-color="#990041"/></linearGradient><linearGradient id="gd292" gradientUnits="userSpaceOnUse" x1="1260" y1="0" x2="1908" y2="0"><stop offset="0.0008" stop-color="#003999"/><stop offset="0.2909" stop-color="#020399"/><stop offset="0.4252" stop-color="#210099"/><stop offset="0.6721" stop-color="#990095"/><stop offset="0.7909" stop-color="#990068"/><stop offset="0.9992" stop-color="#990043"/></linearGradient><linearGradient id="gd296" gradientUnits="userSpaceOnUse" x1="1260" y1="0" x2="1908" y2="0"><stop offset="0.0008" stop-color="#003899"/><stop offset="0.2924" stop-color="#020399"/><stop offset="0.4252" stop-color="#200099"/><stop offset="0.6335" stop-color="#840099"/><stop offset="0.6813" stop-color="#990094"/><stop offset="0.8048" stop-color="#990067"/><stop offset="0.9992" stop-color="#990045"/></linearGradient><linearGradient id="gd300" gradientUnits="userSpaceOnUse" x1="1260" y1="0" x2="1908" y2="0"><stop offset="0.0008" stop-color="#003799"/><stop offset="0.2940" stop-color="#020399"/><stop offset="0.4236" stop-color="#1e0099"/><stop offset="0.6319" stop-color="#800099"/><stop offset="0.6875" stop-color="#990095"/><stop offset="0.8125" stop-color="#990067"/><stop offset="0.9992" stop-color="#990046"/></linearGradient><linearGradient id="gd304" gradientUnits="userSpaceOnUse" x1="1260" y1="0" x2="1908" y2="0"><stop offset="0.0008" stop-color="#003699"/><stop offset="0.2955" stop-color="#020299"/><stop offset="0.4236" stop-color="#1e0099"/><stop offset="0.6350" stop-color="#7e0099"/><stop offset="0.6952" stop-color="#990095"/><stop offset="0.8233" stop-color="#990067"/><stop offset="0.9992" stop-color="#990048"/></linearGradient><linearGradient id="gd308" gradientUnits="userSpaceOnUse" x1="1260" y1="0" x2="1908" y2="0"><stop offset="0.0008" stop-color="#003599"/><stop offset="0.2971" stop-color="#020299"/><stop offset="0.4221" stop-color="#1c0099"/><stop offset="0.6350" stop-color="#7b0099"/><stop offset="0.7029" stop-color="#990094"/><stop offset="0.8341" stop-color="#990067"/><stop offset="0.9992" stop-color="#99004a"/></linearGradient><linearGradient id="gd312" gradientUnits="userSpaceOnUse" x1="1260" y1="0" x2="1908" y2="0"><stop offset="0.0008" stop-color="#003499"/><stop offset="0.2986" stop-color="#020299"/><stop offset="0.4221" stop-color="#1c0099"/><stop offset="0.6381" stop-color="#790099"/><stop offset="0.7106" stop-color="#990094"/><stop offset="0.8434" stop-color="#990067"/><stop offset="0.9992" stop-color="#99004b"/></linearGradient><linearGradient id="gd316" gradientUnits="userSpaceOnUse" x1="1260" y1="0" x2="1908" y2="0"><stop offset="0.0008" stop-color="#003399"/><stop offset="0.2986" stop-color="#010199"/><stop offset="0.4190" stop-color="#1a0099"/><stop offset="0.6350" stop-color="#750099"/><stop offset="0.7168" stop-color="#990095"/><stop offset="0.8526" stop-color="#990067"/><stop offset="0.9992" stop-color="#99004d"/></linearGradient><linearGradient id="gd320" gradientUnits="userSpaceOnUse" x1="1260" y1="0" x2="1908" y2="0"><stop offset="0.0008" stop-color="#003299"/><stop offset="0.3002" stop-color="#010199"/><stop offset="0.4190" stop-color="#1a0099"/><stop offset="0.6366" stop-color="#730099"/><stop offset="0.7245" stop-color="#990095"/><stop offset="0.8619" stop-color="#990067"/><stop offset="0.9992" stop-color="#99004f"/></linearGradient><linearGradient id="gd324" gradientUnits="userSpaceOnUse" x1="1260" y1="0" x2="1908" y2="0"><stop offset="0.0008" stop-color="#003199"/><stop offset="0.3002" stop-color="#010199"/><stop offset="0.4174" stop-color="#190099"/><stop offset="0.6366" stop-color="#700099"/><stop offset="0.7323" stop-color="#990095"/><stop offset="0.8727" stop-color="#990067"/><stop offset="0.9992" stop-color="#990051"/></linearGradient><linearGradient id="gd328" gradientUnits="userSpaceOnUse" x1="1260" y1="0" x2="1908" y2="0"><stop offset="0.0008" stop-color="#003099"/><stop offset="0.3017" stop-color="#010199"/><stop offset="0.4205" stop-color="#190099"/><stop offset="0.6458" stop-color="#720099"/><stop offset="0.7400" stop-color="#990095"/><stop offset="0.8835" stop-color="#990067"/><stop offset="0.9992" stop-color="#990052"/></linearGradient><linearGradient id="gd332" gradientUnits="userSpaceOnUse" x1="1260" y1="0" x2="1908" y2="0"><stop offset="0.0008" stop-color="#002f99"/><stop offset="0.3017" stop-color="#010199"/><stop offset="0.4236" stop-color="#190099"/><stop offset="0.6535" stop-color="#730099"/><stop offset="0.7477" stop-color="#990094"/><stop offset="0.8943" stop-color="#990067"/><stop offset="0.9992" stop-color="#990054"/></linearGradient><linearGradient id="gd336" gradientUnits="userSpaceOnUse" x1="1260" y1="0" x2="1908" y2="0"><stop offset="0.0008" stop-color="#002e99"/><stop offset="0.3017" stop-color="#010099"/><stop offset="0.4282" stop-color="#1a0099"/><stop offset="0.6644" stop-color="#750099"/><stop offset="0.7554" stop-color="#990094"/><stop offset="0.9051" stop-color="#990067"/><stop offset="0.9992" stop-color="#990056"/></linearGradient><linearGradient id="gd340" gradientUnits="userSpaceOnUse" x1="1260" y1="0" x2="1908" y2="0"><stop offset="0.0008" stop-color="#002d99"/><stop offset="0.3032" stop-color="#010099"/><stop offset="0.4360" stop-color="#1c0099"/><stop offset="0.6813" stop-color="#7a0099"/><stop offset="0.7616" stop-color="#990095"/><stop offset="0.9128" stop-color="#990067"/><stop offset="0.9992" stop-color="#990058"/></linearGradient><linearGradient id="gd344" gradientUnits="userSpaceOnUse" x1="1260" y1="0" x2="1908" y2="0"><stop offset="0.0008" stop-color="#002c99"/><stop offset="0.3032" stop-color="#010099"/><stop offset="0.4406" stop-color="#1d0099"/><stop offset="0.6937" stop-color="#7c0099"/><stop offset="0.7693" stop-color="#990095"/><stop offset="0.9236" stop-color="#990067"/><stop offset="0.9992" stop-color="#990059"/></linearGradient><linearGradient id="gd348" gradientUnits="userSpaceOnUse" x1="1260" y1="0" x2="1908" y2="0"><stop offset="0.0008" stop-color="#002b99"/><stop offset="0.3032" stop-color="#010099"/><stop offset="0.4452" stop-color="#1e0099"/><stop offset="0.7045" stop-color="#7e0099"/><stop offset="0.7770" stop-color="#990095"/><stop offset="0.9329" stop-color="#990067"/><stop offset="0.9992" stop-color="#99005b"/></linearGradient><linearGradient id="gd352" gradientUnits="userSpaceOnUse" x1="1260" y1="0" x2="1908" y2="0"><stop offset="0.0008" stop-color="#002b99"/><stop offset="0.3032" stop-color="#010099"/><stop offset="0.4498" stop-color="#1f0099"/><stop offset="0.7153" stop-color="#800099"/><stop offset="0.7847" stop-color="#990095"/><stop offset="0.9437" stop-color="#990067"/><stop offset="0.9992" stop-color="#99005d"/></linearGradient><linearGradient id="gd356" gradientUnits="userSpaceOnUse" x1="1260" y1="0" x2="1908" y2="0"><stop offset="0.0008" stop-color="#002a99"/><stop offset="0.3032" stop-color="#010099"/><stop offset="0.4545" stop-color="#1f0099"/><stop offset="0.7276" stop-color="#830099"/><stop offset="0.7924" stop-color="#990094"/><stop offset="0.9545" stop-color="#990067"/><stop offset="0.9992" stop-color="#99005f"/></linearGradient><linearGradient id="gd360" gradientUnits="userSpaceOnUse" x1="1260" y1="0" x2="1908" y2="0"><stop offset="0.0008" stop-color="#002999"/><stop offset="0.3032" stop-color="#000099"/><stop offset="0.4576" stop-color="#200099"/><stop offset="0.7353" stop-color="#830099"/><stop offset="0.8002" stop-color="#990094"/><stop offset="0.9653" stop-color="#990067"/><stop offset="0.9992" stop-color="#990061"/></linearGradient><linearGradient id="gd364" gradientUnits="userSpaceOnUse" x1="1260" y1="0" x2="1908" y2="0"><stop offset="0.0008" stop-color="#002899"/><stop offset="0.3017" stop-color="#000099"/><stop offset="0.4576" stop-color="#1f0099"/><stop offset="0.7384" stop-color="#820099"/><stop offset="0.8079" stop-color="#990094"/><stop offset="0.9761" stop-color="#990067"/><stop offset="0.9992" stop-color="#990062"/></linearGradient><linearGradient id="gd368" gradientUnits="userSpaceOnUse" x1="1260" y1="0" x2="1908" y2="0"><stop offset="0.0008" stop-color="#002899"/><stop offset="0.3017" stop-color="#000099"/><stop offset="0.4606" stop-color="#1f0099"/><stop offset="0.7461" stop-color="#820099"/><stop offset="0.8156" stop-color="#990094"/><stop offset="0.9853" stop-color="#990067"/><stop offset="0.9992" stop-color="#990064"/></linearGradient><linearGradient id="gd372" gradientUnits="userSpaceOnUse" x1="1260" y1="0" x2="1908" y2="0"><stop offset="0.0008" stop-color="#002799"/><stop offset="0.3017" stop-color="#000099"/><stop offset="0.4637" stop-color="#200099"/><stop offset="0.7554" stop-color="#840099"/><stop offset="0.8233" stop-color="#990094"/><stop offset="0.9961" stop-color="#990067"/><stop offset="0.9992" stop-color="#990066"/></linearGradient><linearGradient id="gd376" gradientUnits="userSpaceOnUse" x1="1260" y1="0" x2="1908" y2="0"><stop offset="0.0008" stop-color="#002699"/><stop offset="0.3017" stop-color="#000099"/><stop offset="0.4668" stop-color="#200099"/><stop offset="0.7631" stop-color="#840099"/><stop offset="0.8310" stop-color="#990094"/><stop offset="0.9992" stop-color="#990068"/></linearGradient><linearGradient id="gd380" gradientUnits="userSpaceOnUse" x1="1260" y1="0" x2="1908" y2="0"><stop offset="0.0008" stop-color="#002699"/><stop offset="0.3017" stop-color="#010099"/><stop offset="0.4684" stop-color="#200099"/><stop offset="0.7693" stop-color="#840099"/><stop offset="0.8387" stop-color="#990094"/><stop offset="0.9992" stop-color="#99006a"/></linearGradient><linearGradient id="gd384" gradientUnits="userSpaceOnUse" x1="1260" y1="0" x2="1908" y2="0"><stop offset="0.0008" stop-color="#002599"/><stop offset="0.3017" stop-color="#010099"/><stop offset="0.4715" stop-color="#200099"/><stop offset="0.7770" stop-color="#840099"/><stop offset="0.8449" stop-color="#990094"/><stop offset="0.9992" stop-color="#99006c"/></linearGradient><linearGradient id="gd388" gradientUnits="userSpaceOnUse" x1="1260" y1="0" x2="1908" y2="0"><stop offset="0.0008" stop-color="#002499"/><stop offset="0.3002" stop-color="#000099"/><stop offset="0.4715" stop-color="#200099"/><stop offset="0.7801" stop-color="#830099"/><stop offset="0.8526" stop-color="#990094"/><stop offset="0.9992" stop-color="#99006e"/></linearGradient><linearGradient id="gd392" gradientUnits="userSpaceOnUse" x1="1260" y1="0" x2="1908" y2="0"><stop offset="0.0008" stop-color="#002499"/><stop offset="0.3002" stop-color="#000099"/><stop offset="0.4745" stop-color="#200099"/><stop offset="0.7894" stop-color="#840099"/><stop offset="0.8603" stop-color="#990094"/><stop offset="0.9992" stop-color="#99006f"/></linearGradient><linearGradient id="gd396" gradientUnits="userSpaceOnUse" x1="1260" y1="0" x2="1908" y2="0"><stop offset="0.0008" stop-color="#002399"/><stop offset="0.3002" stop-color="#010099"/><stop offset="0.4776" stop-color="#200099"/><stop offset="0.7971" stop-color="#850099"/><stop offset="0.8681" stop-color="#990094"/><stop offset="0.9992" stop-color="#990071"/></linearGradient><linearGradient id="gd400" gradientUnits="userSpaceOnUse" x1="1260" y1="0" x2="1908" y2="0"><stop offset="0.0008" stop-color="#002399"/><stop offset="0.3002" stop-color="#010099"/><stop offset="0.4807" stop-color="#200099"/><stop offset="0.8063" stop-color="#860099"/><stop offset="0.8758" stop-color="#990094"/><stop offset="0.9992" stop-color="#990073"/></linearGradient><linearGradient id="gd404" gradientUnits="userSpaceOnUse" x1="1260" y1="0" x2="1908" y2="0"><stop offset="0.0008" stop-color="#002299"/><stop offset="0.3002" stop-color="#010099"/><stop offset="0.4838" stop-color="#210099"/><stop offset="0.8804" stop-color="#990095"/><stop offset="0.9992" stop-color="#990075"/></linearGradient><linearGradient id="gd408" gradientUnits="userSpaceOnUse" x1="1260" y1="0" x2="1908" y2="0"><stop offset="0.0008" stop-color="#002199"/><stop offset="0.3002" stop-color="#010099"/><stop offset="0.4853" stop-color="#200099"/><stop offset="0.8202" stop-color="#860099"/><stop offset="0.8912" stop-color="#990094"/><stop offset="0.9992" stop-color="#990077"/></linearGradient><linearGradient id="gd412" gradientUnits="userSpaceOnUse" x1="1260" y1="0" x2="1908" y2="0"><stop offset="0.0008" stop-color="#002199"/><stop offset="0.3002" stop-color="#010099"/><stop offset="0.4884" stop-color="#210099"/><stop offset="0.8279" stop-color="#860099"/><stop offset="0.8989" stop-color="#990094"/><stop offset="0.9992" stop-color="#990079"/></linearGradient><linearGradient id="gd416" gradientUnits="userSpaceOnUse" x1="1260" y1="0" x2="1908" y2="0"><stop offset="0.0008" stop-color="#002099"/><stop offset="0.3002" stop-color="#010099"/><stop offset="0.4915" stop-color="#210099"/><stop offset="0.8372" stop-color="#870099"/><stop offset="0.9066" stop-color="#990094"/><stop offset="0.9992" stop-color="#99007b"/></linearGradient><linearGradient id="gd420" gradientUnits="userSpaceOnUse" x1="1260" y1="0" x2="1908" y2="0"><stop offset="0.0008" stop-color="#002099"/><stop offset="0.3002" stop-color="#010099"/><stop offset="0.4946" stop-color="#210099"/><stop offset="0.8449" stop-color="#870099"/><stop offset="0.9144" stop-color="#990094"/><stop offset="0.9992" stop-color="#99007d"/></linearGradient><linearGradient id="gd424" gradientUnits="userSpaceOnUse" x1="1260" y1="0" x2="1908" y2="0"><stop offset="0.0008" stop-color="#001f99"/><stop offset="0.3002" stop-color="#010099"/><stop offset="0.4977" stop-color="#210099"/><stop offset="0.8542" stop-color="#880099"/><stop offset="0.9221" stop-color="#990094"/><stop offset="0.9992" stop-color="#99007f"/></linearGradient><linearGradient id="gd428" gradientUnits="userSpaceOnUse" x1="1260" y1="0" x2="1908" y2="0"><stop offset="0.0008" stop-color="#001f99"/><stop offset="0.3002" stop-color="#010099"/><stop offset="0.5008" stop-color="#220099"/><stop offset="0.8619" stop-color="#890099"/><stop offset="0.9298" stop-color="#990093"/><stop offset="0.9992" stop-color="#990081"/></linearGradient><linearGradient id="gd432" gradientUnits="userSpaceOnUse" x1="1260" y1="0" x2="1908" y2="0"><stop offset="0.0008" stop-color="#001e99"/><stop offset="0.3002" stop-color="#010099"/><stop offset="0.5023" stop-color="#210099"/><stop offset="0.8681" stop-color="#890099"/><stop offset="0.9360" stop-color="#990094"/><stop offset="0.9992" stop-color="#990083"/></linearGradient><linearGradient id="gd436" gradientUnits="userSpaceOnUse" x1="1260" y1="0" x2="1908" y2="0"><stop offset="0.0008" stop-color="#001e99"/><stop offset="0.2986" stop-color="#010099"/><stop offset="0.5023" stop-color="#210099"/><stop offset="0.8696" stop-color="#870099"/><stop offset="0.9437" stop-color="#990094"/><stop offset="0.9992" stop-color="#990085"/></linearGradient><linearGradient id="gd440" gradientUnits="userSpaceOnUse" x1="1260" y1="0" x2="1908" y2="0"><stop offset="0.0008" stop-color="#001d99"/><stop offset="0.2986" stop-color="#010099"/><stop offset="0.5054" stop-color="#210099"/><stop offset="0.8789" stop-color="#880099"/><stop offset="0.9514" stop-color="#990094"/><stop offset="0.9992" stop-color="#990087"/></linearGradient><linearGradient id="gd444" gradientUnits="userSpaceOnUse" x1="1260" y1="0" x2="1908" y2="0"><stop offset="0.0008" stop-color="#001d99"/><stop offset="0.2986" stop-color="#010099"/><stop offset="0.5085" stop-color="#210099"/><stop offset="0.8866" stop-color="#880099"/><stop offset="0.9591" stop-color="#990094"/><stop offset="0.9992" stop-color="#990089"/></linearGradient><linearGradient id="gd448" gradientUnits="userSpaceOnUse" x1="1260" y1="0" x2="1908" y2="0"><stop offset="0.0008" stop-color="#001c99"/><stop offset="0.2986" stop-color="#010099"/><stop offset="0.5116" stop-color="#220099"/><stop offset="0.8958" stop-color="#890099"/><stop offset="0.9668" stop-color="#990094"/><stop offset="0.9992" stop-color="#99008b"/></linearGradient><linearGradient id="gd452" gradientUnits="userSpaceOnUse" x1="1260" y1="0" x2="1908" y2="0"><stop offset="0.0008" stop-color="#001c99"/><stop offset="0.2986" stop-color="#010099"/><stop offset="0.5147" stop-color="#220099"/><stop offset="0.9035" stop-color="#890099"/><stop offset="0.9745" stop-color="#990094"/><stop offset="0.9992" stop-color="#99008d"/></linearGradient><linearGradient id="gd456" gradientUnits="userSpaceOnUse" x1="1260" y1="0" x2="1908" y2="0"><stop offset="0.0008" stop-color="#001c99"/><stop offset="0.3002" stop-color="#010099"/><stop offset="0.5193" stop-color="#220099"/><stop offset="0.9159" stop-color="#8b0099"/><stop offset="0.9823" stop-color="#990093"/><stop offset="0.9992" stop-color="#99008f"/></linearGradient><linearGradient id="gd460" gradientUnits="userSpaceOnUse" x1="1260" y1="0" x2="1908" y2="0"><stop offset="0.0008" stop-color="#001b99"/><stop offset="0.3002" stop-color="#010099"/><stop offset="0.5224" stop-color="#220099"/><stop offset="0.9236" stop-color="#8b0099"/><stop offset="0.9900" stop-color="#990093"/><stop offset="0.9992" stop-color="#990091"/></linearGradient><linearGradient id="gd464" gradientUnits="userSpaceOnUse" x1="1260" y1="0" x2="1908" y2="0"><stop offset="0.0008" stop-color="#001b99"/><stop offset="0.3002" stop-color="#010099"/><stop offset="0.5255" stop-color="#230099"/><stop offset="0.9329" stop-color="#8c0099"/><stop offset="0.9992" stop-color="#990093"/></linearGradient><linearGradient id="gd468" gradientUnits="userSpaceOnUse" x1="1260" y1="0" x2="1908" y2="0"><stop offset="0.0008" stop-color="#001a99"/><stop offset="0.3002" stop-color="#010099"/><stop offset="0.5285" stop-color="#230099"/><stop offset="0.9992" stop-color="#990095"/></linearGradient><linearGradient id="gd472" gradientUnits="userSpaceOnUse" x1="1260" y1="0" x2="1908" y2="0"><stop offset="0.0008" stop-color="#001a99"/><stop offset="0.3002" stop-color="#010099"/><stop offset="0.5316" stop-color="#230099"/><stop offset="0.9992" stop-color="#990097"/></linearGradient><linearGradient id="gd476" gradientUnits="userSpaceOnUse" x1="1260" y1="0" x2="1908" y2="0"><stop offset="0.0008" stop-color="#001a99"/><stop offset="0.3002" stop-color="#010099"/><stop offset="0.5332" stop-color="#230099"/><stop offset="0.9545" stop-color="#8c0099"/><stop offset="0.9992" stop-color="#990099"/></linearGradient><linearGradient id="gd480" gradientUnits="userSpaceOnUse" x1="1260" y1="0" x2="1908" y2="0"><stop offset="0.0008" stop-color="#001999"/><stop offset="0.3002" stop-color="#010099"/><stop offset="0.5363" stop-color="#230099"/><stop offset="0.9637" stop-color="#8d0099"/><stop offset="0.9992" stop-color="#970099"/></linearGradient><linearGradient id="gd484" gradientUnits="userSpaceOnUse" x1="1260" y1="0" x2="1908" y2="0"><stop offset="0.0008" stop-color="#001999"/><stop offset="0.3002" stop-color="#010099"/><stop offset="0.5394" stop-color="#230099"/><stop offset="0.9715" stop-color="#8d0099"/><stop offset="0.9992" stop-color="#950099"/></linearGradient><linearGradient id="gd488" gradientUnits="userSpaceOnUse" x1="1260" y1="0" x2="1908" y2="0"><stop offset="0.0008" stop-color="#001899"/><stop offset="0.3002" stop-color="#010099"/><stop offset="0.5424" stop-color="#230099"/><stop offset="0.9807" stop-color="#8e0099"/><stop offset="0.9992" stop-color="#930099"/></linearGradient><linearGradient id="gd492" gradientUnits="userSpaceOnUse" x1="1260" y1="0" x2="1908" y2="0"><stop offset="0.0008" stop-color="#001899"/><stop offset="0.3002" stop-color="#010099"/><stop offset="0.5455" stop-color="#240099"/><stop offset="0.9884" stop-color="#8e0099"/><stop offset="0.9992" stop-color="#910099"/></linearGradient><linearGradient id="gd496" gradientUnits="userSpaceOnUse" x1="1260" y1="0" x2="1908" y2="0"><stop offset="0.0008" stop-color="#001899"/><stop offset="0.3002" stop-color="#010099"/><stop offset="0.5471" stop-color="#240099"/><stop offset="0.9931" stop-color="#8e0099"/><stop offset="0.9992" stop-color="#900099"/></linearGradient><linearGradient id="gb0" gradientUnits="userSpaceOnUse" x1="1260" y1="0" x2="1908" y2="0"><stop offset="0.0008" stop-color="#00ff00"/><stop offset="0.1644" stop-color="#04ff00"/><stop offset="0.2261" stop-color="#3eff00"/><stop offset="0.2909" stop-color="#9aff00"/><stop offset="0.3449" stop-color="#fffd00"/><stop offset="0.3850" stop-color="#ffb800"/><stop offset="0.4421" stop-color="#ff7b00"/><stop offset="0.5270" stop-color="#ff4800"/><stop offset="0.6628" stop-color="#ff1e00"/><stop offset="0.8927" stop-color="#ff0200"/><stop offset="0.9992" stop-color="#ff0000"/></linearGradient><linearGradient id="gb4" gradientUnits="userSpaceOnUse" x1="1260" y1="0" x2="1908" y2="0"><stop offset="0.0008" stop-color="#00ff00"/><stop offset="0.1659" stop-color="#04ff00"/><stop offset="0.2261" stop-color="#3dff00"/><stop offset="0.2909" stop-color="#9aff00"/><stop offset="0.3449" stop-color="#fffc00"/><stop offset="0.3850" stop-color="#ffb700"/><stop offset="0.4421" stop-color="#ff7a00"/><stop offset="0.5270" stop-color="#ff4700"/><stop offset="0.6628" stop-color="#ff1d00"/><stop offset="0.8927" stop-color="#ff0100"/><stop offset="0.9992" stop-color="#ff0000"/></linearGradient><linearGradient id="gb8" gradientUnits="userSpaceOnUse" x1="1260" y1="0" x2="1908" y2="0"><stop offset="0.0008" stop-color="#00ff01"/><stop offset="0.1674" stop-color="#04ff00"/><stop offset="0.2276" stop-color="#3eff00"/><stop offset="0.2909" stop-color="#9aff00"/><stop offset="0.3434" stop-color="#fffe00"/><stop offset="0.3835" stop-color="#ffb800"/><stop offset="0.4390" stop-color="#ff7b00"/><stop offset="0.5224" stop-color="#ff4800"/><stop offset="0.6551" stop-color="#ff1e00"/><stop offset="0.8804" stop-color="#ff0200"/><stop offset="0.9992" stop-color="#ff0000"/></linearGradient><linearGradient id="gb12" gradientUnits="userSpaceOnUse" x1="1260" y1="0" x2="1908" y2="0"><stop offset="0.0008" stop-color="#00ff05"/><stop offset="0.1690" stop-color="#04ff00"/><stop offset="0.2292" stop-color="#3fff00"/><stop offset="0.2909" stop-color="#9aff00"/><stop offset="0.3434" stop-color="#fffd00"/><stop offset="0.3835" stop-color="#ffb600"/><stop offset="0.4390" stop-color="#ff7a00"/><stop offset="0.5224" stop-color="#ff4600"/><stop offset="0.6551" stop-color="#ff1d00"/><stop offset="0.8804" stop-color="#ff0100"/><stop offset="0.9992" stop-color="#ff0000"/></linearGradient><linearGradient id="gb16" gradientUnits="userSpaceOnUse" x1="1260" y1="0" x2="1908" y2="0"><stop offset="0.0008" stop-color="#00ff09"/><stop offset="0.1690" stop-color="#03ff00"/><stop offset="0.2276" stop-color="#3cff00"/><stop offset="0.2894" stop-color="#97ff00"/><stop offset="0.3434" stop-color="#fffb00"/><stop offset="0.3819" stop-color="#ffb700"/><stop offset="0.4375" stop-color="#ff7a00"/><stop offset="0.5193" stop-color="#ff4700"/><stop offset="0.6505" stop-color="#ff1d00"/><stop offset="0.8727" stop-color="#ff0100"/><stop offset="0.9992" stop-color="#ff0000"/></linearGradient><linearGradient id="gb20" gradientUnits="userSpaceOnUse" x1="1260" y1="0" x2="1908" y2="0"><stop offset="0.0008" stop-color="#00ff0d"/><stop offset="0.1705" stop-color="#03ff03"/><stop offset="0.2276" stop-color="#3cff00"/><stop offset="0.2894" stop-color="#97ff00"/><stop offset="0.3418" stop-color="#fffd00"/><stop offset="0.3804" stop-color="#ffb800"/><stop offset="0.4344" stop-color="#ff7b00"/><stop offset="0.5147" stop-color="#ff4800"/><stop offset="0.6427" stop-color="#ff1e00"/><stop offset="0.8603" stop-color="#ff0200"/><stop offset="0.9992" stop-color="#ff0000"/></linearGradient><linearGradient id="gb24" gradientUnits="userSpaceOnUse" x1="1260" y1="0" x2="1908" y2="0"><stop offset="0.0008" stop-color="#00ff11"/><stop offset="0.1721" stop-color="#03ff07"/><stop offset="0.2292" stop-color="#3dff03"/><stop offset="0.2894" stop-color="#97ff00"/><stop offset="0.3418" stop-color="#fffc00"/><stop offset="0.3804" stop-color="#ffb600"/><stop offset="0.4344" stop-color="#ff7a00"/><stop offset="0.5147" stop-color="#ff4600"/><stop offset="0.6427" stop-color="#ff1d00"/><stop offset="0.8603" stop-color="#ff0100"/><stop offset="0.9992" stop-color="#ff0000"/></linearGradient><linearGradient id="gb28" gradientUnits="userSpaceOnUse" x1="1260" y1="0" x2="1908" y2="0"><stop offset="0.0008" stop-color="#00ff16"/><stop offset="0.1736" stop-color="#04ff0c"/><stop offset="0.2292" stop-color="#3cff09"/><stop offset="0.2894" stop-color="#97ff04"/><stop offset="0.3403" stop-color="#fffe01"/><stop offset="0.3773" stop-color="#ffb900"/><stop offset="0.4298" stop-color="#ff7c00"/><stop offset="0.5085" stop-color="#ff4800"/><stop offset="0.6335" stop-color="#ff1e00"/><stop offset="0.8449" stop-color="#ff0200"/><stop offset="0.9992" stop-color="#ff0000"/></linearGradient><linearGradient id="gb32" gradientUnits="userSpaceOnUse" x1="1260" y1="0" x2="1908" y2="0"><stop offset="0.0008" stop-color="#00ff1b"/><stop offset="0.1752" stop-color="#04ff12"/><stop offset="0.2307" stop-color="#3dff0e"/><stop offset="0.2894" stop-color="#97ff0a"/><stop offset="0.3403" stop-color="#fffd05"/><stop offset="0.3773" stop-color="#ffb802"/><stop offset="0.4298" stop-color="#ff7b00"/><stop offset="0.5085" stop-color="#ff4700"/><stop offset="0.6335" stop-color="#ff1d00"/><stop offset="0.8449" stop-color="#ff0200"/><stop offset="0.9992" stop-color="#ff0000"/></linearGradient><linearGradient id="gb36" gradientUnits="userSpaceOnUse" x1="1260" y1="0" x2="1908" y2="0"><stop offset="0.0008" stop-color="#00ff21"/><stop offset="0.1767" stop-color="#04ff18"/><stop offset="0.2323" stop-color="#3eff15"/><stop offset="0.2909" stop-color="#9aff10"/><stop offset="0.3403" stop-color="#fffb0c"/><stop offset="0.3773" stop-color="#ffb606"/><stop offset="0.4298" stop-color="#ff7902"/><stop offset="0.5069" stop-color="#ff4600"/><stop offset="0.6304" stop-color="#ff1d00"/><stop offset="0.8403" stop-color="#ff0100"/><stop offset="0.9992" stop-color="#ff0000"/></linearGradient><linearGradient id="gb40" gradientUnits="userSpaceOnUse" x1="1260" y1="0" x2="1908" y2="0"><stop offset="0.0008" stop-color="#00ff26"/><stop offset="0.1782" stop-color="#04ff1f"/><stop offset="0.2323" stop-color="#3dff1c"/><stop offset="0.2894" stop-color="#97ff18"/><stop offset="0.3387" stop-color="#fffe14"/><stop offset="0.3742" stop-color="#ffb90c"/><stop offset="0.4252" stop-color="#ff7c06"/><stop offset="0.5008" stop-color="#ff4801"/><stop offset="0.6211" stop-color="#ff1e00"/><stop offset="0.8248" stop-color="#ff0200"/><stop offset="0.9992" stop-color="#ff0000"/></linearGradient><linearGradient id="gb44" gradientUnits="userSpaceOnUse" x1="1260" y1="0" x2="1908" y2="0"><stop offset="0.0008" stop-color="#00ff2c"/><stop offset="0.1798" stop-color="#04ff26"/><stop offset="0.2338" stop-color="#3eff23"/><stop offset="0.2909" stop-color="#9aff20"/><stop offset="0.3387" stop-color="#fffc1d"/><stop offset="0.3742" stop-color="#ffb713"/><stop offset="0.4252" stop-color="#ff7a0a"/><stop offset="0.5008" stop-color="#ff4704"/><stop offset="0.6211" stop-color="#ff1d00"/><stop offset="0.8248" stop-color="#ff0200"/><stop offset="0.9992" stop-color="#ff0000"/></linearGradient><linearGradient id="gb48" gradientUnits="userSpaceOnUse" x1="1260" y1="0" x2="1908" y2="0"><stop offset="0.0008" stop-color="#00ff32"/><stop offset="0.1813" stop-color="#04ff2d"/><stop offset="0.2353" stop-color="#3fff2b"/><stop offset="0.2909" stop-color="#9aff29"/><stop offset="0.3387" stop-color="#fffb26"/><stop offset="0.3742" stop-color="#ffb61a"/><stop offset="0.4252" stop-color="#ff790f"/><stop offset="0.5008" stop-color="#ff4507"/><stop offset="0.6211" stop-color="#ff1d01"/><stop offset="0.8248" stop-color="#ff0100"/><stop offset="0.9992" stop-color="#ff0000"/></linearGradient><linearGradient id="gb52" gradientUnits="userSpaceOnUse" x1="1260" y1="0" x2="1908" y2="0"><stop offset="0.0008" stop-color="#00ff39"/><stop offset="0.1813" stop-color="#03ff35"/><stop offset="0.2338" stop-color="#3cff34"/><stop offset="0.2894" stop-color="#97ff32"/><stop offset="0.3372" stop-color="#fffd30"/><stop offset="0.3727" stop-color="#ffb722"/><stop offset="0.4221" stop-color="#ff7a15"/><stop offset="0.4961" stop-color="#ff460b"/><stop offset="0.6134" stop-color="#ff1d03"/><stop offset="0.8125" stop-color="#ff0100"/><stop offset="0.9992" stop-color="#ff0000"/></linearGradient><linearGradient id="gb56" gradientUnits="userSpaceOnUse" x1="1260" y1="0" x2="1908" y2="0"><stop offset="0.0008" stop-color="#00ff3f"/><stop offset="0.1829" stop-color="#03ff3e"/><stop offset="0.2338" stop-color="#3bff3d"/><stop offset="0.2894" stop-color="#97ff3c"/><stop offset="0.3372" stop-color="#fffc3a"/><stop offset="0.3711" stop-color="#ffb72a"/><stop offset="0.4190" stop-color="#ff7b1c"/><stop offset="0.4915" stop-color="#ff480f"/><stop offset="0.6073" stop-color="#ff1e06"/><stop offset="0.8017" stop-color="#ff0200"/><stop offset="0.9992" stop-color="#ff0000"/></linearGradient><linearGradient id="gb60" gradientUnits="userSpaceOnUse" x1="1260" y1="0" x2="1908" y2="0"><stop offset="0.0008" stop-color="#00ff46"/><stop offset="0.1844" stop-color="#03ff46"/><stop offset="0.2353" stop-color="#3cff46"/><stop offset="0.2894" stop-color="#97ff46"/><stop offset="0.3356" stop-color="#fffe46"/><stop offset="0.3696" stop-color="#ffb833"/><stop offset="0.4174" stop-color="#ff7b22"/><stop offset="0.4884" stop-color="#ff4814"/><stop offset="0.6011" stop-color="#ff1e09"/><stop offset="0.7924" stop-color="#ff0201"/><stop offset="0.9992" stop-color="#ff0000"/></linearGradient><linearGradient id="gb64" gradientUnits="userSpaceOnUse" x1="1260" y1="0" x2="1908" y2="0"><stop offset="0.0008" stop-color="#00ff4d"/><stop offset="0.1860" stop-color="#03ff4f"/><stop offset="0.2353" stop-color="#3bff50"/><stop offset="0.2894" stop-color="#97ff51"/><stop offset="0.3356" stop-color="#fffd52"/><stop offset="0.3696" stop-color="#ffb73c"/><stop offset="0.4174" stop-color="#ff7a29"/><stop offset="0.4884" stop-color="#ff4618"/><stop offset="0.6011" stop-color="#ff1d0b"/><stop offset="0.7924" stop-color="#ff0202"/><stop offset="0.9992" stop-color="#ff0000"/></linearGradient><linearGradient id="gb68" gradientUnits="userSpaceOnUse" x1="1260" y1="0" x2="1908" y2="0"><stop offset="0.0008" stop-color="#00ff54"/><stop offset="0.1875" stop-color="#04ff59"/><stop offset="0.2369" stop-color="#3cff5b"/><stop offset="0.2894" stop-color="#97ff5d"/><stop offset="0.3356" stop-color="#fffb5e"/><stop offset="0.3696" stop-color="#ffb545"/><stop offset="0.4174" stop-color="#ff782f"/><stop offset="0.4884" stop-color="#ff451d"/><stop offset="0.6026" stop-color="#ff1c0e"/><stop offset="0.7940" stop-color="#ff0104"/><stop offset="0.9992" stop-color="#ff0000"/></linearGradient><linearGradient id="gb72" gradientUnits="userSpaceOnUse" x1="1260" y1="0" x2="1908" y2="0"><stop offset="0.0008" stop-color="#00ff5c"/><stop offset="0.1890" stop-color="#04ff63"/><stop offset="0.2384" stop-color="#3dff65"/><stop offset="0.2909" stop-color="#9aff69"/><stop offset="0.3341" stop-color="#fffe6c"/><stop offset="0.3665" stop-color="#ffb850"/><stop offset="0.4128" stop-color="#ff7b38"/><stop offset="0.4807" stop-color="#ff4824"/><stop offset="0.5887" stop-color="#ff1e13"/><stop offset="0.7724" stop-color="#ff0206"/><stop offset="0.9992" stop-color="#ff0000"/></linearGradient><linearGradient id="gb76" gradientUnits="userSpaceOnUse" x1="1260" y1="0" x2="1908" y2="0"><stop offset="0.0008" stop-color="#00ff63"/><stop offset="0.1906" stop-color="#04ff6d"/><stop offset="0.2384" stop-color="#3cff71"/><stop offset="0.2894" stop-color="#97ff75"/><stop offset="0.3341" stop-color="#fffc79"/><stop offset="0.3665" stop-color="#ffb75a"/><stop offset="0.4128" stop-color="#ff793f"/><stop offset="0.4807" stop-color="#ff4629"/><stop offset="0.5903" stop-color="#ff1d16"/><stop offset="0.7739" stop-color="#ff0108"/><stop offset="0.9992" stop-color="#ff0001"/></linearGradient><linearGradient id="gb80" gradientUnits="userSpaceOnUse" x1="1260" y1="0" x2="1908" y2="0"><stop offset="0.0008" stop-color="#00ff6b"/><stop offset="0.1921" stop-color="#04ff78"/><stop offset="0.2400" stop-color="#3eff7d"/><stop offset="0.2909" stop-color="#9aff83"/><stop offset="0.3326" stop-color="#ffff88"/><stop offset="0.3634" stop-color="#ffba67"/><stop offset="0.4082" stop-color="#ff7c49"/><stop offset="0.4745" stop-color="#ff4830"/><stop offset="0.5795" stop-color="#ff1f1b"/><stop offset="0.7569" stop-color="#ff020b"/><stop offset="0.9992" stop-color="#ff0002"/></linearGradient><linearGradient id="gb84" gradientUnits="userSpaceOnUse" x1="1260" y1="0" x2="1908" y2="0"><stop offset="0.0008" stop-color="#00ff74"/><stop offset="0.1937" stop-color="#04ff84"/><stop offset="0.2415" stop-color="#3fff89"/><stop offset="0.2909" stop-color="#9aff91"/><stop offset="0.3326" stop-color="#fffd97"/><stop offset="0.3634" stop-color="#ffb872"/><stop offset="0.4066" stop-color="#ff7c52"/><stop offset="0.4715" stop-color="#ff4937"/><stop offset="0.5748" stop-color="#ff1f1f"/><stop offset="0.7492" stop-color="#ff020e"/><stop offset="0.9992" stop-color="#ff0003"/></linearGradient><linearGradient id="gb88" gradientUnits="userSpaceOnUse" x1="1260" y1="0" x2="1908" y2="0"><stop offset="0.0008" stop-color="#00ff7c"/><stop offset="0.1952" stop-color="#04ff8f"/><stop offset="0.2415" stop-color="#3eff96"/><stop offset="0.2909" stop-color="#9aff9f"/><stop offset="0.3326" stop-color="#fffba6"/><stop offset="0.3634" stop-color="#ffb67e"/><stop offset="0.4066" stop-color="#ff7b5b"/><stop offset="0.4715" stop-color="#ff473c"/><stop offset="0.5748" stop-color="#ff1e23"/><stop offset="0.7492" stop-color="#ff0210"/><stop offset="0.9992" stop-color="#ff0005"/></linearGradient><linearGradient id="gb92" gradientUnits="userSpaceOnUse" x1="1260" y1="0" x2="1908" y2="0"><stop offset="0.0008" stop-color="#00ff85"/><stop offset="0.1952" stop-color="#03ff9c"/><stop offset="0.2400" stop-color="#3affa3"/><stop offset="0.2878" stop-color="#93ffad"/><stop offset="0.3310" stop-color="#fffeb8"/><stop offset="0.3619" stop-color="#ffb78b"/><stop offset="0.4051" stop-color="#ff7a65"/><stop offset="0.4684" stop-color="#ff4744"/><stop offset="0.5702" stop-color="#ff1e28"/><stop offset="0.7431" stop-color="#ff0213"/><stop offset="0.9992" stop-color="#ff0006"/></linearGradient><linearGradient id="gb96" gradientUnits="userSpaceOnUse" x1="1260" y1="0" x2="1908" y2="0"><stop offset="0.0008" stop-color="#00ff8e"/><stop offset="0.1968" stop-color="#03ffa9"/><stop offset="0.2415" stop-color="#3bffb2"/><stop offset="0.2894" stop-color="#96ffbd"/><stop offset="0.3310" stop-color="#fffcc8"/><stop offset="0.3603" stop-color="#ffb89a"/><stop offset="0.4020" stop-color="#ff7c70"/><stop offset="0.4637" stop-color="#ff494c"/><stop offset="0.5625" stop-color="#ff1f2e"/><stop offset="0.7307" stop-color="#ff0216"/><stop offset="0.9992" stop-color="#ff0007"/></linearGradient><linearGradient id="gb100" gradientUnits="userSpaceOnUse" x1="1260" y1="0" x2="1908" y2="0"><stop offset="0.0008" stop-color="#00ff97"/><stop offset="0.1983" stop-color="#03ffb6"/><stop offset="0.2415" stop-color="#3affc0"/><stop offset="0.2878" stop-color="#93ffcd"/><stop offset="0.3295" stop-color="#ffffdc"/><stop offset="0.3588" stop-color="#ffb9a9"/><stop offset="0.4005" stop-color="#ff7c7b"/><stop offset="0.4622" stop-color="#ff4853"/><stop offset="0.5594" stop-color="#ff1f33"/><stop offset="0.7245" stop-color="#ff0219"/><stop offset="0.9992" stop-color="#ff0009"/></linearGradient><linearGradient id="gb104" gradientUnits="userSpaceOnUse" x1="1260" y1="0" x2="1908" y2="0"><stop offset="0.0008" stop-color="#00ffa1"/><stop offset="0.1998" stop-color="#03ffc4"/><stop offset="0.2431" stop-color="#3cffd0"/><stop offset="0.2894" stop-color="#96ffdf"/><stop offset="0.3295" stop-color="#fffdee"/><stop offset="0.3588" stop-color="#ffb7b6"/><stop offset="0.4005" stop-color="#ff7a85"/><stop offset="0.4622" stop-color="#ff465a"/><stop offset="0.5610" stop-color="#ff1d37"/><stop offset="0.7276" stop-color="#ff011c"/><stop offset="0.9992" stop-color="#ff000a"/></linearGradient><linearGradient id="gb108" gradientUnits="userSpaceOnUse" x1="1260" y1="0" x2="1908" y2="0"><stop offset="0.0008" stop-color="#00ffaa"/><stop offset="0.2014" stop-color="#04ffd3"/><stop offset="0.2446" stop-color="#3dffe0"/><stop offset="0.2894" stop-color="#96fff1"/><stop offset="0.3295" stop-color="#fcf9fd"/><stop offset="0.3634" stop-color="#ffadbc"/><stop offset="0.4066" stop-color="#ff7189"/><stop offset="0.4715" stop-color="#ff3f5c"/><stop offset="0.5764" stop-color="#ff1838"/><stop offset="0.7446" stop-color="#ff001d"/><stop offset="0.9992" stop-color="#ff000c"/></linearGradient><linearGradient id="gb112" gradientUnits="userSpaceOnUse" x1="1260" y1="0" x2="1908" y2="0"><stop offset="0.0008" stop-color="#00ffb4"/><stop offset="0.2029" stop-color="#04ffe2"/><stop offset="0.2446" stop-color="#3cfff1"/><stop offset="0.3002" stop-color="#aaf5ff"/><stop offset="0.3372" stop-color="#fde2fd"/><stop offset="0.3727" stop-color="#ff9bbc"/><stop offset="0.4190" stop-color="#ff6387"/><stop offset="0.4900" stop-color="#ff345a"/><stop offset="0.6073" stop-color="#ff1035"/><stop offset="0.7647" stop-color="#ff001d"/><stop offset="0.9992" stop-color="#ff000d"/></linearGradient><linearGradient id="gb116" gradientUnits="userSpaceOnUse" x1="1260" y1="0" x2="1908" y2="0"><stop offset="0.0008" stop-color="#00ffbf"/><stop offset="0.1952" stop-color="#00ffef"/><stop offset="0.2168" stop-color="#11fff7"/><stop offset="0.2739" stop-color="#6cf0ff"/><stop offset="0.3403" stop-color="#f6d2ff"/><stop offset="0.3511" stop-color="#ffc1f0"/><stop offset="0.3881" stop-color="#ff83b3"/><stop offset="0.4421" stop-color="#ff4f7d"/><stop offset="0.5285" stop-color="#ff2350"/><stop offset="0.6752" stop-color="#ff052c"/><stop offset="0.9776" stop-color="#ff0010"/><stop offset="0.9992" stop-color="#ff000f"/></linearGradient><linearGradient id="gb120" gradientUnits="userSpaceOnUse" x1="1260" y1="0" x2="1908" y2="0"><stop offset="0.0008" stop-color="#00ffc9"/><stop offset="0.2045" stop-color="#02fbfe"/><stop offset="0.2539" stop-color="#43e8ff"/><stop offset="0.3202" stop-color="#bcccff"/><stop offset="0.3526" stop-color="#febbfc"/><stop offset="0.3927" stop-color="#ff7bb8"/><stop offset="0.4483" stop-color="#ff4981"/><stop offset="0.5363" stop-color="#ff2052"/><stop offset="0.6875" stop-color="#ff032d"/><stop offset="0.9931" stop-color="#ff0011"/><stop offset="0.9992" stop-color="#ff0010"/></linearGradient><linearGradient id="gb124" gradientUnits="userSpaceOnUse" x1="1260" y1="0" x2="1908" y2="0"><stop offset="0.0008" stop-color="#00ffd4"/><stop offset="0.1659" stop-color="#00faff"/><stop offset="0.2076" stop-color="#04ebff"/><stop offset="0.2600" stop-color="#47d6ff"/><stop offset="0.3295" stop-color="#c2baff"/><stop offset="0.3603" stop-color="#feaafb"/><stop offset="0.4005" stop-color="#ff70ba"/><stop offset="0.4576" stop-color="#ff4182"/><stop offset="0.5471" stop-color="#ff1b54"/><stop offset="0.7014" stop-color="#ff012e"/><stop offset="0.9992" stop-color="#ff0012"/></linearGradient><linearGradient id="gb128" gradientUnits="userSpaceOnUse" x1="1260" y1="0" x2="1908" y2="0"><stop offset="0.0008" stop-color="#00ffe0"/><stop offset="0.1258" stop-color="#00faff"/><stop offset="0.2091" stop-color="#04dcff"/><stop offset="0.2647" stop-color="#49c7ff"/><stop offset="0.3372" stop-color="#c5aaff"/><stop offset="0.3681" stop-color="#ff9afb"/><stop offset="0.4097" stop-color="#ff64b9"/><stop offset="0.4699" stop-color="#ff3881"/><stop offset="0.5640" stop-color="#ff1553"/><stop offset="0.7168" stop-color="#ff002f"/><stop offset="0.9992" stop-color="#ff0014"/></linearGradient><linearGradient id="gb132" gradientUnits="userSpaceOnUse" x1="1260" y1="0" x2="1908" y2="0"><stop offset="0.0008" stop-color="#00ffeb"/><stop offset="0.0903" stop-color="#00f8ff"/><stop offset="0.2106" stop-color="#04cfff"/><stop offset="0.2677" stop-color="#48baff"/><stop offset="0.3434" stop-color="#c59cff"/><stop offset="0.3758" stop-color="#ff8cfa"/><stop offset="0.4174" stop-color="#ff5bbb"/><stop offset="0.4792" stop-color="#ff3283"/><stop offset="0.5748" stop-color="#ff1254"/><stop offset="0.7215" stop-color="#ff0031"/><stop offset="0.9992" stop-color="#ff0015"/></linearGradient><linearGradient id="gb136" gradientUnits="userSpaceOnUse" x1="1260" y1="0" x2="1908" y2="0"><stop offset="0.0008" stop-color="#00fff7"/><stop offset="0.0748" stop-color="#00f0ff"/><stop offset="0.2122" stop-color="#03c2ff"/><stop offset="0.2708" stop-color="#47adff"/><stop offset="0.3480" stop-color="#c290ff"/><stop offset="0.3819" stop-color="#fe80fc"/><stop offset="0.4267" stop-color="#ff51ba"/><stop offset="0.4900" stop-color="#ff2b83"/><stop offset="0.5903" stop-color="#ff0d54"/><stop offset="0.7307" stop-color="#ff0033"/><stop offset="0.9992" stop-color="#ff0017"/></linearGradient><linearGradient id="gb140" gradientUnits="userSpaceOnUse" x1="1260" y1="0" x2="1908" y2="0"><stop offset="0.0008" stop-color="#00fbff"/><stop offset="0.2137" stop-color="#03b7ff"/><stop offset="0.2739" stop-color="#46a2ff"/><stop offset="0.3542" stop-color="#c284ff"/><stop offset="0.3897" stop-color="#fe74fc"/><stop offset="0.4360" stop-color="#ff48b9"/><stop offset="0.5023" stop-color="#ff2582"/><stop offset="0.6057" stop-color="#ff0953"/><stop offset="0.7415" stop-color="#ff0034"/><stop offset="0.9992" stop-color="#ff0019"/></linearGradient><linearGradient id="gb144" gradientUnits="userSpaceOnUse" x1="1260" y1="0" x2="1908" y2="0"><stop offset="0.0008" stop-color="#00efff"/><stop offset="0.2153" stop-color="#03acff"/><stop offset="0.2770" stop-color="#4697ff"/><stop offset="0.3603" stop-color="#c279ff"/><stop offset="0.3974" stop-color="#ff69fb"/><stop offset="0.4437" stop-color="#ff41bb"/><stop offset="0.5116" stop-color="#ff2083"/><stop offset="0.6181" stop-color="#ff0754"/><stop offset="0.7739" stop-color="#ff0032"/><stop offset="0.9992" stop-color="#ff001b"/></linearGradient><linearGradient id="gb148" gradientUnits="userSpaceOnUse" x1="1260" y1="0" x2="1908" y2="0"><stop offset="0.0008" stop-color="#00e4ff"/><stop offset="0.2168" stop-color="#03a2ff"/><stop offset="0.2816" stop-color="#478dff"/><stop offset="0.3665" stop-color="#c26fff"/><stop offset="0.4051" stop-color="#ff5ffb"/><stop offset="0.4529" stop-color="#ff39ba"/><stop offset="0.5224" stop-color="#ff1b83"/><stop offset="0.6319" stop-color="#ff0454"/><stop offset="0.8202" stop-color="#ff002e"/><stop offset="0.9992" stop-color="#ff001d"/></linearGradient><linearGradient id="gb152" gradientUnits="userSpaceOnUse" x1="1260" y1="0" x2="1908" y2="0"><stop offset="0.0008" stop-color="#00daff"/><stop offset="0.2184" stop-color="#0399ff"/><stop offset="0.2847" stop-color="#4683ff"/><stop offset="0.3727" stop-color="#c265ff"/><stop offset="0.4113" stop-color="#fe57fc"/><stop offset="0.4622" stop-color="#ff32ba"/><stop offset="0.5347" stop-color="#ff1682"/><stop offset="0.6489" stop-color="#ff0153"/><stop offset="0.8465" stop-color="#ff002d"/><stop offset="0.9992" stop-color="#ff001e"/></linearGradient><linearGradient id="gb156" gradientUnits="userSpaceOnUse" x1="1260" y1="0" x2="1908" y2="0"><stop offset="0.0008" stop-color="#00d0ff"/><stop offset="0.2199" stop-color="#0390ff"/><stop offset="0.2878" stop-color="#467bff"/><stop offset="0.3789" stop-color="#c25cff"/><stop offset="0.4190" stop-color="#ff4efc"/><stop offset="0.4699" stop-color="#ff2dbb"/><stop offset="0.5440" stop-color="#ff1283"/><stop offset="0.6597" stop-color="#ff0054"/><stop offset="0.8588" stop-color="#ff002e"/><stop offset="0.9992" stop-color="#ff0020"/></linearGradient><linearGradient id="gb160" gradientUnits="userSpaceOnUse" x1="1260" y1="0" x2="1908" y2="0"><stop offset="0.0008" stop-color="#00c7ff"/><stop offset="0.2230" stop-color="#0488ff"/><stop offset="0.2940" stop-color="#4972ff"/><stop offset="0.3866" stop-color="#c454ff"/><stop offset="0.4267" stop-color="#ff45fb"/><stop offset="0.4792" stop-color="#ff27ba"/><stop offset="0.5548" stop-color="#ff0e83"/><stop offset="0.6736" stop-color="#ff0054"/><stop offset="0.8789" stop-color="#ff002e"/><stop offset="0.9992" stop-color="#ff0022"/></linearGradient><linearGradient id="gb164" gradientUnits="userSpaceOnUse" x1="1260" y1="0" x2="1908" y2="0"><stop offset="0.0008" stop-color="#00bfff"/><stop offset="0.2245" stop-color="#0480ff"/><stop offset="0.2971" stop-color="#486aff"/><stop offset="0.3927" stop-color="#c44cff"/><stop offset="0.4344" stop-color="#ff3efb"/><stop offset="0.4884" stop-color="#ff21ba"/><stop offset="0.5671" stop-color="#ff0a82"/><stop offset="0.6890" stop-color="#ff0054"/><stop offset="0.9005" stop-color="#ff002e"/><stop offset="0.9992" stop-color="#ff0024"/></linearGradient><linearGradient id="gb168" gradientUnits="userSpaceOnUse" x1="1260" y1="0" x2="1908" y2="0"><stop offset="0.0008" stop-color="#00b7ff"/><stop offset="0.2261" stop-color="#0479ff"/><stop offset="0.3017" stop-color="#4963ff"/><stop offset="0.4005" stop-color="#c645ff"/><stop offset="0.4421" stop-color="#ff37fa"/><stop offset="0.4977" stop-color="#ff1cba"/><stop offset="0.5779" stop-color="#ff0782"/><stop offset="0.7045" stop-color="#ff0054"/><stop offset="0.9236" stop-color="#ff002e"/><stop offset="0.9992" stop-color="#ff0026"/></linearGradient><linearGradient id="gb172" gradientUnits="userSpaceOnUse" x1="1260" y1="0" x2="1908" y2="0"><stop offset="0.0008" stop-color="#00afff"/><stop offset="0.2276" stop-color="#0473ff"/><stop offset="0.3048" stop-color="#495cff"/><stop offset="0.4066" stop-color="#c63eff"/><stop offset="0.4483" stop-color="#ff31fc"/><stop offset="0.5054" stop-color="#ff18bb"/><stop offset="0.5872" stop-color="#ff0583"/><stop offset="0.7168" stop-color="#ff0054"/><stop offset="0.9390" stop-color="#ff002e"/><stop offset="0.9992" stop-color="#ff0028"/></linearGradient><linearGradient id="gb176" gradientUnits="userSpaceOnUse" x1="1260" y1="0" x2="1908" y2="0"><stop offset="0.0008" stop-color="#00a8ff"/><stop offset="0.2292" stop-color="#046cff"/><stop offset="0.3079" stop-color="#4856ff"/><stop offset="0.4113" stop-color="#c439ff"/><stop offset="0.4560" stop-color="#ff2bfb"/><stop offset="0.5147" stop-color="#ff14ba"/><stop offset="0.5995" stop-color="#ff0283"/><stop offset="0.7323" stop-color="#ff0054"/><stop offset="0.9622" stop-color="#ff002e"/><stop offset="0.9992" stop-color="#ff002a"/></linearGradient><linearGradient id="gb180" gradientUnits="userSpaceOnUse" x1="1260" y1="0" x2="1908" y2="0"><stop offset="0.0008" stop-color="#00a1ff"/><stop offset="0.2307" stop-color="#0466ff"/><stop offset="0.3110" stop-color="#4751ff"/><stop offset="0.4174" stop-color="#c433ff"/><stop offset="0.4637" stop-color="#ff25fb"/><stop offset="0.5224" stop-color="#ff10bb"/><stop offset="0.6088" stop-color="#ff0183"/><stop offset="0.7446" stop-color="#ff0054"/><stop offset="0.9792" stop-color="#ff002e"/><stop offset="0.9992" stop-color="#ff002c"/></linearGradient><linearGradient id="gb184" gradientUnits="userSpaceOnUse" x1="1260" y1="0" x2="1908" y2="0"><stop offset="0.0008" stop-color="#009bff"/><stop offset="0.2323" stop-color="#0461ff"/><stop offset="0.3156" stop-color="#484bff"/><stop offset="0.4252" stop-color="#c62dff"/><stop offset="0.4715" stop-color="#ff20fb"/><stop offset="0.5316" stop-color="#ff0cbb"/><stop offset="0.6211" stop-color="#ff0083"/><stop offset="0.7616" stop-color="#ff0054"/><stop offset="0.9992" stop-color="#ff002e"/></linearGradient><linearGradient id="gb188" gradientUnits="userSpaceOnUse" x1="1260" y1="0" x2="1908" y2="0"><stop offset="0.0008" stop-color="#0094ff"/><stop offset="0.2338" stop-color="#045cff"/><stop offset="0.3187" stop-color="#4846ff"/><stop offset="0.4298" stop-color="#c328ff"/><stop offset="0.4776" stop-color="#ff1cfc"/><stop offset="0.5409" stop-color="#ff09ba"/><stop offset="0.6319" stop-color="#ff0083"/><stop offset="0.7755" stop-color="#ff0054"/><stop offset="0.9992" stop-color="#ff0030"/></linearGradient><linearGradient id="gb192" gradientUnits="userSpaceOnUse" x1="1260" y1="0" x2="1908" y2="0"><stop offset="0.0008" stop-color="#008fff"/><stop offset="0.2353" stop-color="#0457ff"/><stop offset="0.3218" stop-color="#4741ff"/><stop offset="0.4360" stop-color="#c324ff"/><stop offset="0.4853" stop-color="#ff17fc"/><stop offset="0.5486" stop-color="#ff06bb"/><stop offset="0.6412" stop-color="#ff0083"/><stop offset="0.7863" stop-color="#ff0055"/><stop offset="0.9992" stop-color="#ff0032"/></linearGradient><linearGradient id="gb196" gradientUnits="userSpaceOnUse" x1="1260" y1="0" x2="1908" y2="0"><stop offset="0.0008" stop-color="#0089ff"/><stop offset="0.2369" stop-color="#0352ff"/><stop offset="0.3248" stop-color="#473cff"/><stop offset="0.4421" stop-color="#c31fff"/><stop offset="0.4931" stop-color="#ff13fb"/><stop offset="0.5579" stop-color="#ff04bb"/><stop offset="0.6535" stop-color="#ff0083"/><stop offset="0.8032" stop-color="#ff0054"/><stop offset="0.9992" stop-color="#ff0034"/></linearGradient><linearGradient id="gb200" gradientUnits="userSpaceOnUse" x1="1260" y1="0" x2="1908" y2="0"><stop offset="0.0008" stop-color="#0084ff"/><stop offset="0.2384" stop-color="#034dff"/><stop offset="0.3279" stop-color="#4638ff"/><stop offset="0.4468" stop-color="#c21cff"/><stop offset="0.5008" stop-color="#ff0ffb"/><stop offset="0.5671" stop-color="#ff01ba"/><stop offset="0.6644" stop-color="#ff0083"/><stop offset="0.8171" stop-color="#ff0054"/><stop offset="0.9992" stop-color="#ff0037"/></linearGradient><linearGradient id="gb204" gradientUnits="userSpaceOnUse" x1="1260" y1="0" x2="1908" y2="0"><stop offset="0.0008" stop-color="#007fff"/><stop offset="0.2415" stop-color="#0449ff"/><stop offset="0.3356" stop-color="#4a33ff"/><stop offset="0.4576" stop-color="#c717ff"/><stop offset="0.5069" stop-color="#ff0cfc"/><stop offset="0.5748" stop-color="#ff00bb"/><stop offset="0.6736" stop-color="#ff0084"/><stop offset="0.8295" stop-color="#ff0054"/><stop offset="0.9992" stop-color="#ff0039"/></linearGradient><linearGradient id="gb208" gradientUnits="userSpaceOnUse" x1="1260" y1="0" x2="1908" y2="0"><stop offset="0.0008" stop-color="#007aff"/><stop offset="0.2431" stop-color="#0445ff"/><stop offset="0.3387" stop-color="#4a2fff"/><stop offset="0.4637" stop-color="#c713ff"/><stop offset="0.5147" stop-color="#ff09fc"/><stop offset="0.5841" stop-color="#ff00bb"/><stop offset="0.6860" stop-color="#ff0083"/><stop offset="0.8449" stop-color="#ff0054"/><stop offset="0.9992" stop-color="#ff003b"/></linearGradient><linearGradient id="gb212" gradientUnits="userSpaceOnUse" x1="1260" y1="0" x2="1908" y2="0"><stop offset="0.0008" stop-color="#0075ff"/><stop offset="0.2446" stop-color="#0441ff"/><stop offset="0.3418" stop-color="#492bff"/><stop offset="0.4699" stop-color="#c710ff"/><stop offset="0.5224" stop-color="#ff06fb"/><stop offset="0.5934" stop-color="#ff00bb"/><stop offset="0.6968" stop-color="#ff0083"/><stop offset="0.8588" stop-color="#ff0054"/><stop offset="0.9992" stop-color="#ff003d"/></linearGradient><linearGradient id="gb216" gradientUnits="userSpaceOnUse" x1="1260" y1="0" x2="1908" y2="0"><stop offset="0.0008" stop-color="#0071ff"/><stop offset="0.2461" stop-color="#043dff"/><stop offset="0.3449" stop-color="#4928ff"/><stop offset="0.4745" stop-color="#c50dff"/><stop offset="0.5301" stop-color="#ff03fb"/><stop offset="0.6026" stop-color="#ff00ba"/><stop offset="0.7091" stop-color="#ff0082"/><stop offset="0.8758" stop-color="#ff0054"/><stop offset="0.9992" stop-color="#ff003f"/></linearGradient><linearGradient id="gb220" gradientUnits="userSpaceOnUse" x1="1260" y1="0" x2="1908" y2="0"><stop offset="0.0008" stop-color="#006dff"/><stop offset="0.2477" stop-color="#043aff"/><stop offset="0.3495" stop-color="#4925ff"/><stop offset="0.4823" stop-color="#c60aff"/><stop offset="0.5378" stop-color="#ff01fa"/><stop offset="0.6119" stop-color="#ff00ba"/><stop offset="0.7199" stop-color="#ff0083"/><stop offset="0.8897" stop-color="#ff0054"/><stop offset="0.9992" stop-color="#ff0042"/></linearGradient><linearGradient id="gb224" gradientUnits="userSpaceOnUse" x1="1260" y1="0" x2="1908" y2="0"><stop offset="0.0008" stop-color="#0069ff"/><stop offset="0.2492" stop-color="#0437ff"/><stop offset="0.3526" stop-color="#4922ff"/><stop offset="0.4884" stop-color="#c607ff"/><stop offset="0.5440" stop-color="#ff00fc"/><stop offset="0.6196" stop-color="#ff00bb"/><stop offset="0.7292" stop-color="#ff0083"/><stop offset="0.9020" stop-color="#ff0054"/><stop offset="0.9992" stop-color="#ff0044"/></linearGradient><linearGradient id="gb228" gradientUnits="userSpaceOnUse" x1="1260" y1="0" x2="1908" y2="0"><stop offset="0.0008" stop-color="#0065ff"/><stop offset="0.2508" stop-color="#0434ff"/><stop offset="0.3557" stop-color="#481fff"/><stop offset="0.4931" stop-color="#c505ff"/><stop offset="0.5517" stop-color="#ff00fb"/><stop offset="0.6289" stop-color="#ff00ba"/><stop offset="0.7415" stop-color="#ff0083"/><stop offset="0.9190" stop-color="#ff0054"/><stop offset="0.9992" stop-color="#ff0046"/></linearGradient><linearGradient id="gb232" gradientUnits="userSpaceOnUse" x1="1260" y1="0" x2="1908" y2="0"><stop offset="0.0008" stop-color="#0061ff"/><stop offset="0.2523" stop-color="#0431ff"/><stop offset="0.3588" stop-color="#481cff"/><stop offset="0.4992" stop-color="#c503ff"/><stop offset="0.5594" stop-color="#ff00fb"/><stop offset="0.6381" stop-color="#ff00ba"/><stop offset="0.7539" stop-color="#ff0082"/><stop offset="0.9344" stop-color="#ff0053"/><stop offset="0.9992" stop-color="#ff0049"/></linearGradient><linearGradient id="gb236" gradientUnits="userSpaceOnUse" x1="1260" y1="0" x2="1908" y2="0"><stop offset="0.0008" stop-color="#005eff"/><stop offset="0.2539" stop-color="#042eff"/><stop offset="0.3619" stop-color="#4819ff"/><stop offset="0.5054" stop-color="#c401ff"/><stop offset="0.5671" stop-color="#ff00fa"/><stop offset="0.6474" stop-color="#ff00ba"/><stop offset="0.7647" stop-color="#ff0082"/><stop offset="0.9483" stop-color="#ff0053"/><stop offset="0.9992" stop-color="#ff004b"/></linearGradient><linearGradient id="gb240" gradientUnits="userSpaceOnUse" x1="1260" y1="0" x2="1908" y2="0"><stop offset="0.0008" stop-color="#005aff"/><stop offset="0.2554" stop-color="#042bff"/><stop offset="0.3665" stop-color="#4817ff"/><stop offset="0.5116" stop-color="#c400ff"/><stop offset="0.5733" stop-color="#ff00fc"/><stop offset="0.6535" stop-color="#ff00bb"/><stop offset="0.7724" stop-color="#ff0083"/><stop offset="0.9576" stop-color="#ff0054"/><stop offset="0.9992" stop-color="#ff004d"/></linearGradient><linearGradient id="gb244" gradientUnits="userSpaceOnUse" x1="1260" y1="0" x2="1908" y2="0"><stop offset="0.0008" stop-color="#0057ff"/><stop offset="0.2569" stop-color="#0428ff"/><stop offset="0.3696" stop-color="#4814ff"/><stop offset="0.5177" stop-color="#c400ff"/><stop offset="0.5810" stop-color="#ff00fb"/><stop offset="0.6628" stop-color="#ff00bb"/><stop offset="0.7832" stop-color="#ff0083"/><stop offset="0.9715" stop-color="#ff0054"/><stop offset="0.9992" stop-color="#ff0050"/></linearGradient><linearGradient id="gb248" gradientUnits="userSpaceOnUse" x1="1260" y1="0" x2="1908" y2="0"><stop offset="0.0008" stop-color="#0054ff"/><stop offset="0.2600" stop-color="#0426ff"/><stop offset="0.3758" stop-color="#4a12ff"/><stop offset="0.5270" stop-color="#c700ff"/><stop offset="0.5887" stop-color="#ff00fb"/><stop offset="0.6721" stop-color="#ff00bb"/><stop offset="0.7955" stop-color="#ff0083"/><stop offset="0.9884" stop-color="#ff0054"/><stop offset="0.9992" stop-color="#ff0052"/></linearGradient><linearGradient id="gb252" gradientUnits="userSpaceOnUse" x1="1260" y1="0" x2="1908" y2="0"><stop offset="0.0008" stop-color="#0051ff"/><stop offset="0.2616" stop-color="#0423ff"/><stop offset="0.3789" stop-color="#490fff"/><stop offset="0.5255" stop-color="#c000ff"/><stop offset="0.5965" stop-color="#ff00fb"/><stop offset="0.6813" stop-color="#ff00bb"/><stop offset="0.8063" stop-color="#ff0083"/><stop offset="0.9992" stop-color="#ff0054"/></linearGradient><linearGradient id="gb256" gradientUnits="userSpaceOnUse" x1="1260" y1="0" x2="1908" y2="0"><stop offset="0.0008" stop-color="#004eff"/><stop offset="0.2631" stop-color="#0421ff"/><stop offset="0.3819" stop-color="#490eff"/><stop offset="0.5224" stop-color="#b800ff"/><stop offset="0.6026" stop-color="#ff00fc"/><stop offset="0.6890" stop-color="#ff00bb"/><stop offset="0.8156" stop-color="#ff0083"/><stop offset="0.9992" stop-color="#ff0057"/></linearGradient><linearGradient id="gb260" gradientUnits="userSpaceOnUse" x1="1260" y1="0" x2="1908" y2="0"><stop offset="0.0008" stop-color="#004bff"/><stop offset="0.2647" stop-color="#041fff"/><stop offset="0.3866" stop-color="#4a0bff"/><stop offset="0.5224" stop-color="#b300ff"/><stop offset="0.6103" stop-color="#ff00fb"/><stop offset="0.6983" stop-color="#ff00bb"/><stop offset="0.8279" stop-color="#ff0083"/><stop offset="0.9992" stop-color="#ff0059"/></linearGradient><linearGradient id="gb264" gradientUnits="userSpaceOnUse" x1="1260" y1="0" x2="1908" y2="0"><stop offset="0.0008" stop-color="#0048ff"/><stop offset="0.2662" stop-color="#041dff"/><stop offset="0.3897" stop-color="#490aff"/><stop offset="0.5239" stop-color="#af00ff"/><stop offset="0.6181" stop-color="#ff00fb"/><stop offset="0.7076" stop-color="#ff00bb"/><stop offset="0.8387" stop-color="#ff0083"/><stop offset="0.9992" stop-color="#ff005c"/></linearGradient><linearGradient id="gb268" gradientUnits="userSpaceOnUse" x1="1260" y1="0" x2="1908" y2="0"><stop offset="0.0008" stop-color="#0046ff"/><stop offset="0.2677" stop-color="#041bff"/><stop offset="0.3927" stop-color="#4908ff"/><stop offset="0.5301" stop-color="#af00ff"/><stop offset="0.6258" stop-color="#ff00fb"/><stop offset="0.7168" stop-color="#ff00ba"/><stop offset="0.8511" stop-color="#ff0083"/><stop offset="0.9992" stop-color="#ff005e"/></linearGradient><linearGradient id="gb272" gradientUnits="userSpaceOnUse" x1="1260" y1="0" x2="1908" y2="0"><stop offset="0.0008" stop-color="#0043ff"/><stop offset="0.2693" stop-color="#0419ff"/><stop offset="0.3958" stop-color="#4907ff"/><stop offset="0.5486" stop-color="#ba00ff"/><stop offset="0.6319" stop-color="#ff00fc"/><stop offset="0.7245" stop-color="#ff00bb"/><stop offset="0.8603" stop-color="#ff0083"/><stop offset="0.9992" stop-color="#ff0061"/></linearGradient><linearGradient id="gb276" gradientUnits="userSpaceOnUse" x1="1260" y1="0" x2="1908" y2="0"><stop offset="0.0008" stop-color="#0041ff"/><stop offset="0.2708" stop-color="#0417ff"/><stop offset="0.4005" stop-color="#4905ff"/><stop offset="0.5702" stop-color="#c600ff"/><stop offset="0.6397" stop-color="#ff00fb"/><stop offset="0.7338" stop-color="#ff00bb"/><stop offset="0.8711" stop-color="#ff0083"/><stop offset="0.9992" stop-color="#ff0063"/></linearGradient><linearGradient id="gb280" gradientUnits="userSpaceOnUse" x1="1260" y1="0" x2="1908" y2="0"><stop offset="0.0008" stop-color="#003fff"/><stop offset="0.2724" stop-color="#0415ff"/><stop offset="0.4035" stop-color="#4904ff"/><stop offset="0.5748" stop-color="#c500ff"/><stop offset="0.6474" stop-color="#ff00fb"/><stop offset="0.7431" stop-color="#ff00ba"/><stop offset="0.8835" stop-color="#ff0083"/><stop offset="0.9992" stop-color="#ff0066"/></linearGradient><linearGradient id="gb284" gradientUnits="userSpaceOnUse" x1="1260" y1="0" x2="1908" y2="0"><stop offset="0.0008" stop-color="#003cff"/><stop offset="0.2739" stop-color="#0414ff"/><stop offset="0.4066" stop-color="#4802ff"/><stop offset="0.5810" stop-color="#c500ff"/><stop offset="0.6551" stop-color="#ff00fb"/><stop offset="0.7523" stop-color="#ff00ba"/><stop offset="0.8943" stop-color="#ff0083"/><stop offset="0.9992" stop-color="#ff0069"/></linearGradient><linearGradient id="gb288" gradientUnits="userSpaceOnUse" x1="1260" y1="0" x2="1908" y2="0"><stop offset="0.0008" stop-color="#003aff"/><stop offset="0.2755" stop-color="#0412ff"/><stop offset="0.4097" stop-color="#4801ff"/><stop offset="0.5872" stop-color="#c500ff"/><stop offset="0.6628" stop-color="#ff00fa"/><stop offset="0.7616" stop-color="#ff00ba"/><stop offset="0.9066" stop-color="#ff0082"/><stop offset="0.9992" stop-color="#ff006b"/></linearGradient><linearGradient id="gb292" gradientUnits="userSpaceOnUse" x1="1260" y1="0" x2="1908" y2="0"><stop offset="0.0008" stop-color="#0038ff"/><stop offset="0.2785" stop-color="#0410ff"/><stop offset="0.4159" stop-color="#4a00ff"/><stop offset="0.5965" stop-color="#c700ff"/><stop offset="0.6690" stop-color="#ff00fb"/><stop offset="0.7693" stop-color="#ff00bb"/><stop offset="0.9159" stop-color="#ff0083"/><stop offset="0.9992" stop-color="#ff006e"/></linearGradient><linearGradient id="gb296" gradientUnits="userSpaceOnUse" x1="1260" y1="0" x2="1908" y2="0"><stop offset="0.0008" stop-color="#0036ff"/><stop offset="0.2801" stop-color="#040fff"/><stop offset="0.4205" stop-color="#4a00ff"/><stop offset="0.6026" stop-color="#c700ff"/><stop offset="0.6767" stop-color="#ff00fb"/><stop offset="0.7785" stop-color="#ff00ba"/><stop offset="0.9282" stop-color="#ff0082"/><stop offset="0.9992" stop-color="#ff0071"/></linearGradient><linearGradient id="gb300" gradientUnits="userSpaceOnUse" x1="1260" y1="0" x2="1908" y2="0"><stop offset="0.0008" stop-color="#0034ff"/><stop offset="0.2816" stop-color="#040eff"/><stop offset="0.4236" stop-color="#4a00ff"/><stop offset="0.6088" stop-color="#c700ff"/><stop offset="0.6844" stop-color="#ff00fb"/><stop offset="0.7878" stop-color="#ff00ba"/><stop offset="0.9390" stop-color="#ff0082"/><stop offset="0.9992" stop-color="#ff0073"/></linearGradient><linearGradient id="gb304" gradientUnits="userSpaceOnUse" x1="1260" y1="0" x2="1908" y2="0"><stop offset="0.0008" stop-color="#0032ff"/><stop offset="0.2832" stop-color="#040cff"/><stop offset="0.4267" stop-color="#4900ff"/><stop offset="0.6150" stop-color="#c700ff"/><stop offset="0.6921" stop-color="#ff00fb"/><stop offset="0.7971" stop-color="#ff00ba"/><stop offset="0.9514" stop-color="#ff0082"/><stop offset="0.9992" stop-color="#ff0076"/></linearGradient><linearGradient id="gb308" gradientUnits="userSpaceOnUse" x1="1260" y1="0" x2="1908" y2="0"><stop offset="0.0008" stop-color="#0030ff"/><stop offset="0.2847" stop-color="#040bff"/><stop offset="0.4298" stop-color="#4900ff"/><stop offset="0.6196" stop-color="#c600ff"/><stop offset="0.6983" stop-color="#ff00fb"/><stop offset="0.8032" stop-color="#ff00bb"/><stop offset="0.9576" stop-color="#ff0083"/><stop offset="0.9992" stop-color="#ff0079"/></linearGradient><linearGradient id="gb312" gradientUnits="userSpaceOnUse" x1="1260" y1="0" x2="1908" y2="0"><stop offset="0.0008" stop-color="#002fff"/><stop offset="0.2863" stop-color="#040aff"/><stop offset="0.4344" stop-color="#4a00ff"/><stop offset="0.6273" stop-color="#c700ff"/><stop offset="0.7060" stop-color="#ff00fb"/><stop offset="0.8125" stop-color="#ff00bb"/><stop offset="0.9699" stop-color="#ff0083"/><stop offset="0.9992" stop-color="#ff007b"/></linearGradient><linearGradient id="gb316" gradientUnits="userSpaceOnUse" x1="1260" y1="0" x2="1908" y2="0"><stop offset="0.0008" stop-color="#002dff"/><stop offset="0.2878" stop-color="#0409ff"/><stop offset="0.4375" stop-color="#4900ff"/><stop offset="0.6335" stop-color="#c700ff"/><stop offset="0.7137" stop-color="#ff00fb"/><stop offset="0.8218" stop-color="#ff00bb"/><stop offset="0.9807" stop-color="#ff0083"/><stop offset="0.9992" stop-color="#ff007e"/></linearGradient><linearGradient id="gb320" gradientUnits="userSpaceOnUse" x1="1260" y1="0" x2="1908" y2="0"><stop offset="0.0008" stop-color="#002bff"/><stop offset="0.2894" stop-color="#0408ff"/><stop offset="0.4406" stop-color="#4900ff"/><stop offset="0.6381" stop-color="#c600ff"/><stop offset="0.7215" stop-color="#ff00fb"/><stop offset="0.8326" stop-color="#ff00ba"/><stop offset="0.9946" stop-color="#ff0082"/><stop offset="0.9992" stop-color="#ff0081"/></linearGradient><linearGradient id="gb324" gradientUnits="userSpaceOnUse" x1="1260" y1="0" x2="1908" y2="0"><stop offset="0.0008" stop-color="#002aff"/><stop offset="0.2909" stop-color="#0407ff"/><stop offset="0.4437" stop-color="#4900ff"/><stop offset="0.6443" stop-color="#c600ff"/><stop offset="0.7276" stop-color="#ff00fc"/><stop offset="0.8387" stop-color="#ff00bb"/><stop offset="0.9992" stop-color="#ff0084"/></linearGradient><linearGradient id="gb328" gradientUnits="userSpaceOnUse" x1="1260" y1="0" x2="1908" y2="0"><stop offset="0.0008" stop-color="#0028ff"/><stop offset="0.2924" stop-color="#0406ff"/><stop offset="0.4468" stop-color="#4800ff"/><stop offset="0.6505" stop-color="#c600ff"/><stop offset="0.7353" stop-color="#ff00fb"/><stop offset="0.8480" stop-color="#ff00bb"/><stop offset="0.9992" stop-color="#ff0087"/></linearGradient><linearGradient id="gb332" gradientUnits="userSpaceOnUse" x1="1260" y1="0" x2="1908" y2="0"><stop offset="0.0008" stop-color="#0026ff"/><stop offset="0.2940" stop-color="#0405ff"/><stop offset="0.4514" stop-color="#4900ff"/><stop offset="0.6566" stop-color="#c600ff"/><stop offset="0.7431" stop-color="#ff00fb"/><stop offset="0.8573" stop-color="#ff00bb"/><stop offset="0.9992" stop-color="#ff0089"/></linearGradient><linearGradient id="gb336" gradientUnits="userSpaceOnUse" x1="1260" y1="0" x2="1908" y2="0"><stop offset="0.0008" stop-color="#0025ff"/><stop offset="0.2971" stop-color="#0404ff"/><stop offset="0.4576" stop-color="#4a00ff"/><stop offset="0.6659" stop-color="#c800ff"/><stop offset="0.7508" stop-color="#ff00fb"/><stop offset="0.8665" stop-color="#ff00ba"/><stop offset="0.9992" stop-color="#ff008c"/></linearGradient><linearGradient id="gb340" gradientUnits="userSpaceOnUse" x1="1260" y1="0" x2="1908" y2="0"><stop offset="0.0008" stop-color="#0024ff"/><stop offset="0.2986" stop-color="#0403ff"/><stop offset="0.4606" stop-color="#4a00ff"/><stop offset="0.6721" stop-color="#c700ff"/><stop offset="0.7569" stop-color="#ff00fc"/><stop offset="0.8742" stop-color="#ff00bb"/><stop offset="0.9992" stop-color="#ff008f"/></linearGradient><linearGradient id="gb344" gradientUnits="userSpaceOnUse" x1="1260" y1="0" x2="1908" y2="0"><stop offset="0.0008" stop-color="#0022ff"/><stop offset="0.3002" stop-color="#0402ff"/><stop offset="0.4637" stop-color="#4a00ff"/><stop offset="0.6782" stop-color="#c700ff"/><stop offset="0.7647" stop-color="#ff00fb"/><stop offset="0.8835" stop-color="#ff00bb"/><stop offset="0.9992" stop-color="#ff0092"/></linearGradient><linearGradient id="gb348" gradientUnits="userSpaceOnUse" x1="1260" y1="0" x2="1908" y2="0"><stop offset="0.0008" stop-color="#0021ff"/><stop offset="0.3017" stop-color="#0401ff"/><stop offset="0.4668" stop-color="#4900ff"/><stop offset="0.6829" stop-color="#c600ff"/><stop offset="0.7724" stop-color="#ff00fb"/><stop offset="0.8927" stop-color="#ff00ba"/><stop offset="0.9992" stop-color="#ff0095"/></linearGradient><linearGradient id="gb352" gradientUnits="userSpaceOnUse" x1="1260" y1="0" x2="1908" y2="0"><stop offset="0.0008" stop-color="#0020ff"/><stop offset="0.3032" stop-color="#0401ff"/><stop offset="0.4715" stop-color="#4a00ff"/><stop offset="0.6906" stop-color="#c700ff"/><stop offset="0.7801" stop-color="#ff00fb"/><stop offset="0.9020" stop-color="#ff00ba"/><stop offset="0.9992" stop-color="#ff0098"/></linearGradient><linearGradient id="gb356" gradientUnits="userSpaceOnUse" x1="1260" y1="0" x2="1908" y2="0"><stop offset="0.0008" stop-color="#001eff"/><stop offset="0.3048" stop-color="#0400ff"/><stop offset="0.4745" stop-color="#4a00ff"/><stop offset="0.6968" stop-color="#c700ff"/><stop offset="0.7878" stop-color="#ff00fb"/><stop offset="0.9113" stop-color="#ff00ba"/><stop offset="0.9992" stop-color="#ff009b"/></linearGradient><linearGradient id="gb360" gradientUnits="userSpaceOnUse" x1="1260" y1="0" x2="1908" y2="0"><stop offset="0.0008" stop-color="#001dff"/><stop offset="0.3063" stop-color="#0400ff"/><stop offset="0.4776" stop-color="#4900ff"/><stop offset="0.7014" stop-color="#c600ff"/><stop offset="0.7940" stop-color="#ff00fb"/><stop offset="0.9190" stop-color="#ff00bb"/><stop offset="0.9992" stop-color="#ff009e"/></linearGradient><linearGradient id="gb364" gradientUnits="userSpaceOnUse" x1="1260" y1="0" x2="1908" y2="0"><stop offset="0.0008" stop-color="#001cff"/><stop offset="0.3079" stop-color="#0400ff"/><stop offset="0.4807" stop-color="#4900ff"/><stop offset="0.7076" stop-color="#c600ff"/><stop offset="0.8017" stop-color="#ff00fb"/><stop offset="0.9282" stop-color="#ff00ba"/><stop offset="0.9992" stop-color="#ff00a1"/></linearGradient><linearGradient id="gb368" gradientUnits="userSpaceOnUse" x1="1260" y1="0" x2="1908" y2="0"><stop offset="0.0008" stop-color="#001bff"/><stop offset="0.3094" stop-color="#0400ff"/><stop offset="0.4853" stop-color="#4900ff"/><stop offset="0.7153" stop-color="#c700ff"/><stop offset="0.8094" stop-color="#ff00fb"/><stop offset="0.9375" stop-color="#ff00ba"/><stop offset="0.9992" stop-color="#ff00a4"/></linearGradient><linearGradient id="gb372" gradientUnits="userSpaceOnUse" x1="1260" y1="0" x2="1908" y2="0"><stop offset="0.0008" stop-color="#001aff"/><stop offset="0.3110" stop-color="#0400ff"/><stop offset="0.4884" stop-color="#4900ff"/><stop offset="0.7199" stop-color="#c600ff"/><stop offset="0.8171" stop-color="#ff00fb"/><stop offset="0.9468" stop-color="#ff00ba"/><stop offset="0.9992" stop-color="#ff00a7"/></linearGradient><linearGradient id="gb376" gradientUnits="userSpaceOnUse" x1="1260" y1="0" x2="1908" y2="0"><stop offset="0.0008" stop-color="#0018ff"/><stop offset="0.3140" stop-color="#0400ff"/><stop offset="0.4946" stop-color="#4a00ff"/><stop offset="0.7292" stop-color="#c800ff"/><stop offset="0.8233" stop-color="#ff00fb"/><stop offset="0.9529" stop-color="#ff00bb"/><stop offset="0.9992" stop-color="#ff00aa"/></linearGradient><linearGradient id="gb380" gradientUnits="userSpaceOnUse" x1="1260" y1="0" x2="1908" y2="0"><stop offset="0.0008" stop-color="#0017ff"/><stop offset="0.3125" stop-color="#0300ff"/><stop offset="0.4915" stop-color="#4700ff"/><stop offset="0.7292" stop-color="#c400ff"/><stop offset="0.8310" stop-color="#ff00fb"/><stop offset="0.9637" stop-color="#ff00ba"/><stop offset="0.9992" stop-color="#ff00ad"/></linearGradient><linearGradient id="gb384" gradientUnits="userSpaceOnUse" x1="1260" y1="0" x2="1908" y2="0"><stop offset="0.0008" stop-color="#0016ff"/><stop offset="0.3079" stop-color="#0200ff"/><stop offset="0.4823" stop-color="#4200ff"/><stop offset="0.7199" stop-color="#bb00ff"/><stop offset="0.8387" stop-color="#ff00fb"/><stop offset="0.9730" stop-color="#ff00ba"/><stop offset="0.9992" stop-color="#ff00b1"/></linearGradient><linearGradient id="gb388" gradientUnits="userSpaceOnUse" x1="1260" y1="0" x2="1908" y2="0"><stop offset="0.0008" stop-color="#0015ff"/><stop offset="0.3017" stop-color="#0000ff"/><stop offset="0.4668" stop-color="#3900ff"/><stop offset="0.7045" stop-color="#af00ff"/><stop offset="0.8465" stop-color="#ff00fb"/><stop offset="0.9823" stop-color="#ff00ba"/><stop offset="0.9992" stop-color="#ff00b4"/></linearGradient><linearGradient id="gb392" gradientUnits="userSpaceOnUse" x1="1260" y1="0" x2="1908" y2="0"><stop offset="0.0008" stop-color="#0014ff"/><stop offset="0.2971" stop-color="#0000ff"/><stop offset="0.4390" stop-color="#2d00ff"/><stop offset="0.6752" stop-color="#9c00ff"/><stop offset="0.8526" stop-color="#ff00fb"/><stop offset="0.9884" stop-color="#ff00bb"/><stop offset="0.9992" stop-color="#ff00b7"/></linearGradient><linearGradient id="gb396" gradientUnits="userSpaceOnUse" x1="1260" y1="0" x2="1908" y2="0"><stop offset="0.0008" stop-color="#0013ff"/><stop offset="0.2924" stop-color="#0000ff"/><stop offset="0.4051" stop-color="#1f00ff"/><stop offset="0.6350" stop-color="#8400ff"/><stop offset="0.8603" stop-color="#ff00fb"/><stop offset="0.9977" stop-color="#ff00bb"/><stop offset="0.9992" stop-color="#ff00ba"/></linearGradient><linearGradient id="gb400" gradientUnits="userSpaceOnUse" x1="1260" y1="0" x2="1908" y2="0"><stop offset="0.0008" stop-color="#0013ff"/><stop offset="0.2878" stop-color="#0000ff"/><stop offset="0.3758" stop-color="#1400ff"/><stop offset="0.5980" stop-color="#7000ff"/><stop offset="0.8542" stop-color="#fb00ff"/><stop offset="0.9946" stop-color="#ff00bf"/><stop offset="0.9992" stop-color="#ff00bd"/></linearGradient><linearGradient id="gb404" gradientUnits="userSpaceOnUse" x1="1260" y1="0" x2="1908" y2="0"><stop offset="0.0008" stop-color="#0012ff"/><stop offset="0.2832" stop-color="#0000ff"/><stop offset="0.3557" stop-color="#0d00ff"/><stop offset="0.5702" stop-color="#6100ff"/><stop offset="0.8279" stop-color="#e700ff"/><stop offset="0.8773" stop-color="#ff00fa"/><stop offset="0.9992" stop-color="#ff00c1"/></linearGradient><linearGradient id="gb408" gradientUnits="userSpaceOnUse" x1="1260" y1="0" x2="1908" y2="0"><stop offset="0.0008" stop-color="#0011ff"/><stop offset="0.2785" stop-color="#0000ff"/><stop offset="0.3480" stop-color="#0a00ff"/><stop offset="0.5594" stop-color="#5a00ff"/><stop offset="0.8187" stop-color="#de00ff"/><stop offset="0.8835" stop-color="#ff00fb"/><stop offset="0.9992" stop-color="#ff00c4"/></linearGradient><linearGradient id="gb412" gradientUnits="userSpaceOnUse" x1="1260" y1="0" x2="1908" y2="0"><stop offset="0.0008" stop-color="#0010ff"/><stop offset="0.2755" stop-color="#0000ff"/><stop offset="0.3449" stop-color="#0800ff"/><stop offset="0.5548" stop-color="#5600ff"/><stop offset="0.8156" stop-color="#d800ff"/><stop offset="0.8912" stop-color="#ff00fa"/><stop offset="0.9992" stop-color="#ff00c7"/></linearGradient><linearGradient id="gb416" gradientUnits="userSpaceOnUse" x1="1260" y1="0" x2="1908" y2="0"><stop offset="0.0008" stop-color="#000fff"/><stop offset="0.2708" stop-color="#0000ff"/><stop offset="0.3434" stop-color="#0700ff"/><stop offset="0.5532" stop-color="#5400ff"/><stop offset="0.8156" stop-color="#d500ff"/><stop offset="0.8974" stop-color="#ff00fb"/><stop offset="0.9992" stop-color="#ff00cb"/></linearGradient><linearGradient id="gb420" gradientUnits="userSpaceOnUse" x1="1260" y1="0" x2="1908" y2="0"><stop offset="0.0008" stop-color="#000eff"/><stop offset="0.2677" stop-color="#0000ff"/><stop offset="0.3434" stop-color="#0700ff"/><stop offset="0.5548" stop-color="#5300ff"/><stop offset="0.8202" stop-color="#d400ff"/><stop offset="0.9051" stop-color="#ff00fb"/><stop offset="0.9992" stop-color="#ff00ce"/></linearGradient><linearGradient id="gb424" gradientUnits="userSpaceOnUse" x1="1260" y1="0" x2="1908" y2="0"><stop offset="0.0008" stop-color="#000eff"/><stop offset="0.2631" stop-color="#0000ff"/><stop offset="0.3418" stop-color="#0600ff"/><stop offset="0.5532" stop-color="#5000ff"/><stop offset="0.8202" stop-color="#d000ff"/><stop offset="0.9128" stop-color="#ff00fb"/><stop offset="0.9992" stop-color="#ff00d1"/></linearGradient><linearGradient id="gb428" gradientUnits="userSpaceOnUse" x1="1260" y1="0" x2="1908" y2="0"><stop offset="0.0008" stop-color="#000dff"/><stop offset="0.2600" stop-color="#0000ff"/><stop offset="0.3434" stop-color="#0600ff"/><stop offset="0.5563" stop-color="#5000ff"/><stop offset="0.8264" stop-color="#d000ff"/><stop offset="0.9190" stop-color="#ff00fb"/><stop offset="0.9992" stop-color="#ff00d5"/></linearGradient><linearGradient id="gb432" gradientUnits="userSpaceOnUse" x1="1260" y1="0" x2="1908" y2="0"><stop offset="0.0008" stop-color="#000cff"/><stop offset="0.2585" stop-color="#0000ff"/><stop offset="0.3449" stop-color="#0600ff"/><stop offset="0.5594" stop-color="#5000ff"/><stop offset="0.8326" stop-color="#d000ff"/><stop offset="0.9267" stop-color="#ff00fb"/><stop offset="0.9992" stop-color="#ff00d8"/></linearGradient><linearGradient id="gb436" gradientUnits="userSpaceOnUse" x1="1260" y1="0" x2="1908" y2="0"><stop offset="0.0008" stop-color="#000bff"/><stop offset="0.2554" stop-color="#0000ff"/><stop offset="0.3449" stop-color="#0600ff"/><stop offset="0.5610" stop-color="#4f00ff"/><stop offset="0.8356" stop-color="#ce00ff"/><stop offset="0.9344" stop-color="#ff00fb"/><stop offset="0.9992" stop-color="#ff00db"/></linearGradient><linearGradient id="gb440" gradientUnits="userSpaceOnUse" x1="1260" y1="0" x2="1908" y2="0"><stop offset="0.0008" stop-color="#000bff"/><stop offset="0.2539" stop-color="#0000ff"/><stop offset="0.3465" stop-color="#0600ff"/><stop offset="0.5640" stop-color="#4f00ff"/><stop offset="0.8418" stop-color="#ce00ff"/><stop offset="0.9421" stop-color="#ff00fb"/><stop offset="0.9992" stop-color="#ff00df"/></linearGradient><linearGradient id="gb444" gradientUnits="userSpaceOnUse" x1="1260" y1="0" x2="1908" y2="0"><stop offset="0.0008" stop-color="#000aff"/><stop offset="0.2539" stop-color="#0000ff"/><stop offset="0.3480" stop-color="#0600ff"/><stop offset="0.5671" stop-color="#4e00ff"/><stop offset="0.8480" stop-color="#ce00ff"/><stop offset="0.9483" stop-color="#ff00fb"/><stop offset="0.9992" stop-color="#ff00e2"/></linearGradient><linearGradient id="gb448" gradientUnits="userSpaceOnUse" x1="1260" y1="0" x2="1908" y2="0"><stop offset="0.0008" stop-color="#0009ff"/><stop offset="0.2539" stop-color="#0000ff"/><stop offset="0.3495" stop-color="#0500ff"/><stop offset="0.5702" stop-color="#4e00ff"/><stop offset="0.8526" stop-color="#cd00ff"/><stop offset="0.9560" stop-color="#ff00fb"/><stop offset="0.9992" stop-color="#ff00e6"/></linearGradient><linearGradient id="gb452" gradientUnits="userSpaceOnUse" x1="1260" y1="0" x2="1908" y2="0"><stop offset="0.0008" stop-color="#0009ff"/><stop offset="0.2554" stop-color="#0000ff"/><stop offset="0.3526" stop-color="#0600ff"/><stop offset="0.5764" stop-color="#4f00ff"/><stop offset="0.8619" stop-color="#ce00ff"/><stop offset="0.9637" stop-color="#ff00fb"/><stop offset="0.9992" stop-color="#ff00e9"/></linearGradient><linearGradient id="gb456" gradientUnits="userSpaceOnUse" x1="1260" y1="0" x2="1908" y2="0"><stop offset="0.0008" stop-color="#0008ff"/><stop offset="0.2600" stop-color="#0000ff"/><stop offset="0.3542" stop-color="#0600ff"/><stop offset="0.5810" stop-color="#4f00ff"/><stop offset="0.8696" stop-color="#cf00ff"/><stop offset="0.9715" stop-color="#ff00fb"/><stop offset="0.9992" stop-color="#ff00ed"/></linearGradient><linearGradient id="gb460" gradientUnits="userSpaceOnUse" x1="1260" y1="0" x2="1908" y2="0"><stop offset="0.0008" stop-color="#0008ff"/><stop offset="0.2662" stop-color="#0000ff"/><stop offset="0.3573" stop-color="#0600ff"/><stop offset="0.5872" stop-color="#5000ff"/><stop offset="0.8789" stop-color="#d000ff"/><stop offset="0.9792" stop-color="#ff00fb"/><stop offset="0.9992" stop-color="#ff00f1"/></linearGradient><linearGradient id="gb464" gradientUnits="userSpaceOnUse" x1="1260" y1="0" x2="1908" y2="0"><stop offset="0.0008" stop-color="#0007ff"/><stop offset="0.2785" stop-color="#0000ff"/><stop offset="0.3619" stop-color="#0700ff"/><stop offset="0.5949" stop-color="#5200ff"/><stop offset="0.8897" stop-color="#d200ff"/><stop offset="0.9853" stop-color="#ff00fb"/><stop offset="0.9992" stop-color="#ff00f4"/></linearGradient><linearGradient id="gb468" gradientUnits="userSpaceOnUse" x1="1260" y1="0" x2="1908" y2="0"><stop offset="0.0008" stop-color="#0006ff"/><stop offset="0.2986" stop-color="#0000ff"/><stop offset="0.3789" stop-color="#0a00ff"/><stop offset="0.6242" stop-color="#5b00ff"/><stop offset="0.9236" stop-color="#e000ff"/><stop offset="0.9946" stop-color="#ff00fa"/><stop offset="0.9992" stop-color="#ff00f8"/></linearGradient><linearGradient id="gb472" gradientUnits="userSpaceOnUse" x1="1260" y1="0" x2="1908" y2="0"><stop offset="0.0008" stop-color="#0006ff"/><stop offset="0.3326" stop-color="#0000ff"/><stop offset="0.5332" stop-color="#3900ff"/><stop offset="0.8248" stop-color="#ae00ff"/><stop offset="0.9992" stop-color="#ff00fc"/></linearGradient><linearGradient id="gb476" gradientUnits="userSpaceOnUse" x1="1260" y1="0" x2="1908" y2="0"><stop offset="0.0008" stop-color="#0005ff"/><stop offset="0.3557" stop-color="#0400ff"/><stop offset="0.5856" stop-color="#4a00ff"/><stop offset="0.8866" stop-color="#c800ff"/><stop offset="0.9992" stop-color="#fe00ff"/></linearGradient><linearGradient id="gb480" gradientUnits="userSpaceOnUse" x1="1260" y1="0" x2="1908" y2="0"><stop offset="0.0008" stop-color="#0005ff"/><stop offset="0.3573" stop-color="#0400ff"/><stop offset="0.5903" stop-color="#4a00ff"/><stop offset="0.8927" stop-color="#c800ff"/><stop offset="0.9992" stop-color="#fb00ff"/></linearGradient><linearGradient id="gb484" gradientUnits="userSpaceOnUse" x1="1260" y1="0" x2="1908" y2="0"><stop offset="0.0008" stop-color="#0004ff"/><stop offset="0.3588" stop-color="#0400ff"/><stop offset="0.5934" stop-color="#4a00ff"/><stop offset="0.8989" stop-color="#c800ff"/><stop offset="0.9992" stop-color="#f800ff"/></linearGradient><linearGradient id="gb488" gradientUnits="userSpaceOnUse" x1="1260" y1="0" x2="1908" y2="0"><stop offset="0.0008" stop-color="#0004ff"/><stop offset="0.3603" stop-color="#0400ff"/><stop offset="0.5965" stop-color="#4a00ff"/><stop offset="0.9051" stop-color="#c800ff"/><stop offset="0.9992" stop-color="#f400ff"/></linearGradient><linearGradient id="gb492" gradientUnits="userSpaceOnUse" x1="1260" y1="0" x2="1908" y2="0"><stop offset="0.0008" stop-color="#0003ff"/><stop offset="0.3619" stop-color="#0400ff"/><stop offset="0.5995" stop-color="#4a00ff"/><stop offset="0.9097" stop-color="#c700ff"/><stop offset="0.9992" stop-color="#f100ff"/></linearGradient><linearGradient id="gb496" gradientUnits="userSpaceOnUse" x1="1260" y1="0" x2="1908" y2="0"><stop offset="0.0008" stop-color="#0003ff"/><stop offset="0.3634" stop-color="#0400ff"/><stop offset="0.6026" stop-color="#4a00ff"/><stop offset="0.9159" stop-color="#c700ff"/><stop offset="0.9992" stop-color="#ee00ff"/></linearGradient><clipPath id="ciLocus"><polygon points="1225.0,192.4 1241.2,202.7 1263.7,216.9 1290.4,233.7 1319.1,251.9 1347.8,270.2 1374.5,287.2 1399.4,303.3 1424.3,319.4 1449.2,335.7 1474.1,352.0 1499.0,368.3 1523.9,384.6 1548.7,401.0 1573.6,417.4 1598.5,433.9 1623.3,450.3 1648.1,466.8 1672.8,483.3 1697.5,499.8 1722.2,516.3 1746.9,532.8 1771.5,549.3 1796.0,565.7 1820.5,582.1 1844.8,598.5 1869.2,614.9 1893.4,631.2 1917.6,647.5 1941.6,663.7 1965.6,679.9 1989.4,695.9 2013.1,711.9 2036.7,727.9 2060.1,743.7 2083.4,759.4 2106.5,775.0 2129.4,790.5 2152.2,805.9 2174.9,821.2 2197.3,836.3 2219.6,851.3 2241.5,866.1 2264.6,881.7 2289.1,898.2 2313.4,914.6 2335.8,929.7 2354.7,942.4 2368.4,951.6 2472.3,1586.7 1218.3,1586.7"/></clipPath><clipPath id="ciTri"><polygon points="1072.0,199.0 2806.7,1246.8 2806.7,2153.1 1072.0,2153.1"/></clipPath><clipPath id="ciBox"><rect x="1688" y="564" width="214" height="145"/></clipPath><linearGradient id="id0" gradientUnits="userSpaceOnUse" x1="1688" y1="0" x2="1902" y2="0"><stop offset="0.0023" stop-color="#649900"/><stop offset="0.8481" stop-color="#999500"/><stop offset="0.9977" stop-color="#998b00"/></linearGradient><linearGradient id="id4" gradientUnits="userSpaceOnUse" x1="1688" y1="0" x2="1902" y2="0"><stop offset="0.0023" stop-color="#659900"/><stop offset="0.8294" stop-color="#999500"/><stop offset="0.9977" stop-color="#998a00"/></linearGradient><linearGradient id="id8" gradientUnits="userSpaceOnUse" x1="1688" y1="0" x2="1902" y2="0"><stop offset="0.0023" stop-color="#669900"/><stop offset="0.8107" stop-color="#999500"/><stop offset="0.9977" stop-color="#998900"/></linearGradient><linearGradient id="id12" gradientUnits="userSpaceOnUse" x1="1688" y1="0" x2="1902" y2="0"><stop offset="0.0023" stop-color="#679900"/><stop offset="0.7967" stop-color="#999500"/><stop offset="0.9977" stop-color="#998800"/></linearGradient><linearGradient id="id16" gradientUnits="userSpaceOnUse" x1="1688" y1="0" x2="1902" y2="0"><stop offset="0.0023" stop-color="#689900"/><stop offset="0.7780" stop-color="#999500"/><stop offset="0.9977" stop-color="#998700"/></linearGradient><linearGradient id="id20" gradientUnits="userSpaceOnUse" x1="1688" y1="0" x2="1902" y2="0"><stop offset="0.0023" stop-color="#689900"/><stop offset="0.7640" stop-color="#999500"/><stop offset="0.9977" stop-color="#998500"/></linearGradient><linearGradient id="id24" gradientUnits="userSpaceOnUse" x1="1688" y1="0" x2="1902" y2="0"><stop offset="0.0023" stop-color="#699900"/><stop offset="0.7453" stop-color="#999500"/><stop offset="0.9977" stop-color="#998400"/></linearGradient><linearGradient id="id28" gradientUnits="userSpaceOnUse" x1="1688" y1="0" x2="1902" y2="0"><stop offset="0.0023" stop-color="#6a9900"/><stop offset="0.7266" stop-color="#999500"/><stop offset="0.9977" stop-color="#998300"/></linearGradient><linearGradient id="id32" gradientUnits="userSpaceOnUse" x1="1688" y1="0" x2="1902" y2="0"><stop offset="0.0023" stop-color="#6b9900"/><stop offset="0.7126" stop-color="#999500"/><stop offset="0.9977" stop-color="#998200"/></linearGradient><linearGradient id="id36" gradientUnits="userSpaceOnUse" x1="1688" y1="0" x2="1902" y2="0"><stop offset="0.0023" stop-color="#6c9900"/><stop offset="0.6939" stop-color="#999500"/><stop offset="0.9977" stop-color="#998100"/></linearGradient><linearGradient id="id40" gradientUnits="userSpaceOnUse" x1="1688" y1="0" x2="1902" y2="0"><stop offset="0.0023" stop-color="#6d9900"/><stop offset="0.6752" stop-color="#999500"/><stop offset="0.9977" stop-color="#998000"/></linearGradient><linearGradient id="id44" gradientUnits="userSpaceOnUse" x1="1688" y1="0" x2="1902" y2="0"><stop offset="0.0023" stop-color="#6e9900"/><stop offset="0.6612" stop-color="#999500"/><stop offset="0.9977" stop-color="#997f00"/></linearGradient><linearGradient id="id48" gradientUnits="userSpaceOnUse" x1="1688" y1="0" x2="1902" y2="0"><stop offset="0.0023" stop-color="#6f9900"/><stop offset="0.6425" stop-color="#999500"/><stop offset="0.9977" stop-color="#997e00"/></linearGradient><linearGradient id="id52" gradientUnits="userSpaceOnUse" x1="1688" y1="0" x2="1902" y2="0"><stop offset="0.0023" stop-color="#709900"/><stop offset="0.6238" stop-color="#999500"/><stop offset="0.9977" stop-color="#997d00"/></linearGradient><linearGradient id="id56" gradientUnits="userSpaceOnUse" x1="1688" y1="0" x2="1902" y2="0"><stop offset="0.0023" stop-color="#719901"/><stop offset="0.6098" stop-color="#999500"/><stop offset="0.9977" stop-color="#997c00"/></linearGradient><linearGradient id="id60" gradientUnits="userSpaceOnUse" x1="1688" y1="0" x2="1902" y2="0"><stop offset="0.0023" stop-color="#729901"/><stop offset="0.5911" stop-color="#999500"/><stop offset="0.9977" stop-color="#997a00"/></linearGradient><linearGradient id="id64" gradientUnits="userSpaceOnUse" x1="1688" y1="0" x2="1902" y2="0"><stop offset="0.0023" stop-color="#739901"/><stop offset="0.5771" stop-color="#999500"/><stop offset="0.9977" stop-color="#997900"/></linearGradient><linearGradient id="id68" gradientUnits="userSpaceOnUse" x1="1688" y1="0" x2="1902" y2="0"><stop offset="0.0023" stop-color="#749901"/><stop offset="0.5584" stop-color="#999500"/><stop offset="0.9977" stop-color="#997800"/></linearGradient><linearGradient id="id72" gradientUnits="userSpaceOnUse" x1="1688" y1="0" x2="1902" y2="0"><stop offset="0.0023" stop-color="#759901"/><stop offset="0.5397" stop-color="#999500"/><stop offset="0.9977" stop-color="#997700"/></linearGradient><linearGradient id="id76" gradientUnits="userSpaceOnUse" x1="1688" y1="0" x2="1902" y2="0"><stop offset="0.0023" stop-color="#769901"/><stop offset="0.5257" stop-color="#999500"/><stop offset="0.9977" stop-color="#997600"/></linearGradient><linearGradient id="id80" gradientUnits="userSpaceOnUse" x1="1688" y1="0" x2="1902" y2="0"><stop offset="0.0023" stop-color="#779901"/><stop offset="0.5070" stop-color="#999500"/><stop offset="0.9977" stop-color="#997500"/></linearGradient><linearGradient id="id84" gradientUnits="userSpaceOnUse" x1="1688" y1="0" x2="1902" y2="0"><stop offset="0.0023" stop-color="#789901"/><stop offset="0.4930" stop-color="#999400"/><stop offset="0.9977" stop-color="#997400"/></linearGradient><linearGradient id="id88" gradientUnits="userSpaceOnUse" x1="1688" y1="0" x2="1902" y2="0"><stop offset="0.0023" stop-color="#799901"/><stop offset="0.4743" stop-color="#999500"/><stop offset="0.9977" stop-color="#997300"/></linearGradient><linearGradient id="id92" gradientUnits="userSpaceOnUse" x1="1688" y1="0" x2="1902" y2="0"><stop offset="0.0023" stop-color="#7a9901"/><stop offset="0.4603" stop-color="#999400"/><stop offset="0.9977" stop-color="#997200"/></linearGradient><linearGradient id="id96" gradientUnits="userSpaceOnUse" x1="1688" y1="0" x2="1902" y2="0"><stop offset="0.0023" stop-color="#7b9902"/><stop offset="0.4416" stop-color="#999500"/><stop offset="0.9977" stop-color="#997100"/></linearGradient><linearGradient id="id100" gradientUnits="userSpaceOnUse" x1="1688" y1="0" x2="1902" y2="0"><stop offset="0.0023" stop-color="#7d9902"/><stop offset="0.4276" stop-color="#999400"/><stop offset="0.9977" stop-color="#997000"/></linearGradient><linearGradient id="id104" gradientUnits="userSpaceOnUse" x1="1688" y1="0" x2="1902" y2="0"><stop offset="0.0023" stop-color="#7e9902"/><stop offset="0.4089" stop-color="#999401"/><stop offset="0.9977" stop-color="#996f00"/></linearGradient><linearGradient id="id108" gradientUnits="userSpaceOnUse" x1="1688" y1="0" x2="1902" y2="0"><stop offset="0.0023" stop-color="#7f9902"/><stop offset="0.3949" stop-color="#999401"/><stop offset="0.9977" stop-color="#996e00"/></linearGradient><linearGradient id="id112" gradientUnits="userSpaceOnUse" x1="1688" y1="0" x2="1902" y2="0"><stop offset="0.0023" stop-color="#809902"/><stop offset="0.3762" stop-color="#999401"/><stop offset="0.9977" stop-color="#996c00"/></linearGradient><linearGradient id="id116" gradientUnits="userSpaceOnUse" x1="1688" y1="0" x2="1902" y2="0"><stop offset="0.0023" stop-color="#819902"/><stop offset="0.3621" stop-color="#999401"/><stop offset="0.9977" stop-color="#996b00"/></linearGradient><linearGradient id="id120" gradientUnits="userSpaceOnUse" x1="1688" y1="0" x2="1902" y2="0"><stop offset="0.0023" stop-color="#829902"/><stop offset="0.3435" stop-color="#999401"/><stop offset="0.9977" stop-color="#996a00"/></linearGradient><linearGradient id="id124" gradientUnits="userSpaceOnUse" x1="1688" y1="0" x2="1902" y2="0"><stop offset="0.0023" stop-color="#849902"/><stop offset="0.3294" stop-color="#999401"/><stop offset="0.9977" stop-color="#996900"/></linearGradient><linearGradient id="id128" gradientUnits="userSpaceOnUse" x1="1688" y1="0" x2="1902" y2="0"><stop offset="0.0023" stop-color="#859903"/><stop offset="0.3107" stop-color="#999401"/><stop offset="0.9977" stop-color="#996800"/></linearGradient><linearGradient id="id132" gradientUnits="userSpaceOnUse" x1="1688" y1="0" x2="1902" y2="0"><stop offset="0.0023" stop-color="#869903"/><stop offset="0.2967" stop-color="#999402"/><stop offset="0.9977" stop-color="#996700"/></linearGradient><linearGradient id="id136" gradientUnits="userSpaceOnUse" x1="1688" y1="0" x2="1902" y2="0"><stop offset="0.0023" stop-color="#879903"/><stop offset="0.2827" stop-color="#999402"/><stop offset="0.9977" stop-color="#996600"/></linearGradient><linearGradient id="id140" gradientUnits="userSpaceOnUse" x1="1688" y1="0" x2="1902" y2="0"><stop offset="0.0023" stop-color="#899903"/><stop offset="0.2687" stop-color="#999402"/><stop offset="0.9977" stop-color="#996500"/></linearGradient><linearGradient id="id144" gradientUnits="userSpaceOnUse" x1="1688" y1="0" x2="1902" y2="0"><stop offset="0.0023" stop-color="#899903"/><stop offset="0.2547" stop-color="#999402"/><stop offset="0.9977" stop-color="#996500"/></linearGradient><linearGradient id="ib0" gradientUnits="userSpaceOnUse" x1="1688" y1="0" x2="1902" y2="0"><stop offset="0.0023" stop-color="#b9ff00"/><stop offset="0.8294" stop-color="#fffb00"/><stop offset="0.9977" stop-color="#ffec00"/></linearGradient><linearGradient id="ib4" gradientUnits="userSpaceOnUse" x1="1688" y1="0" x2="1902" y2="0"><stop offset="0.0023" stop-color="#bbff00"/><stop offset="0.8107" stop-color="#fffb00"/><stop offset="0.9977" stop-color="#ffea00"/></linearGradient><linearGradient id="ib8" gradientUnits="userSpaceOnUse" x1="1688" y1="0" x2="1902" y2="0"><stop offset="0.0023" stop-color="#bcff00"/><stop offset="0.7967" stop-color="#fffb00"/><stop offset="0.9977" stop-color="#ffe900"/></linearGradient><linearGradient id="ib12" gradientUnits="userSpaceOnUse" x1="1688" y1="0" x2="1902" y2="0"><stop offset="0.0023" stop-color="#bdff00"/><stop offset="0.7780" stop-color="#fffb00"/><stop offset="0.9977" stop-color="#ffe700"/></linearGradient><linearGradient id="ib16" gradientUnits="userSpaceOnUse" x1="1688" y1="0" x2="1902" y2="0"><stop offset="0.0023" stop-color="#beff01"/><stop offset="0.7640" stop-color="#fffb00"/><stop offset="0.9977" stop-color="#ffe600"/></linearGradient><linearGradient id="ib20" gradientUnits="userSpaceOnUse" x1="1688" y1="0" x2="1902" y2="0"><stop offset="0.0023" stop-color="#c0ff01"/><stop offset="0.7453" stop-color="#fffb00"/><stop offset="0.9977" stop-color="#ffe500"/></linearGradient><linearGradient id="ib24" gradientUnits="userSpaceOnUse" x1="1688" y1="0" x2="1902" y2="0"><stop offset="0.0023" stop-color="#c1ff01"/><stop offset="0.7313" stop-color="#fffb00"/><stop offset="0.9977" stop-color="#ffe300"/></linearGradient><linearGradient id="ib28" gradientUnits="userSpaceOnUse" x1="1688" y1="0" x2="1902" y2="0"><stop offset="0.0023" stop-color="#c2ff01"/><stop offset="0.7126" stop-color="#fffb00"/><stop offset="0.9977" stop-color="#ffe200"/></linearGradient><linearGradient id="ib32" gradientUnits="userSpaceOnUse" x1="1688" y1="0" x2="1902" y2="0"><stop offset="0.0023" stop-color="#c3ff02"/><stop offset="0.6939" stop-color="#fffb00"/><stop offset="0.9977" stop-color="#ffe000"/></linearGradient><linearGradient id="ib36" gradientUnits="userSpaceOnUse" x1="1688" y1="0" x2="1902" y2="0"><stop offset="0.0023" stop-color="#c5ff02"/><stop offset="0.6799" stop-color="#fffb00"/><stop offset="0.9977" stop-color="#ffdf00"/></linearGradient><linearGradient id="ib40" gradientUnits="userSpaceOnUse" x1="1688" y1="0" x2="1902" y2="0"><stop offset="0.0023" stop-color="#c6ff02"/><stop offset="0.6612" stop-color="#fffb00"/><stop offset="0.9977" stop-color="#ffdd00"/></linearGradient><linearGradient id="ib44" gradientUnits="userSpaceOnUse" x1="1688" y1="0" x2="1902" y2="0"><stop offset="0.0023" stop-color="#c7ff03"/><stop offset="0.6472" stop-color="#fffb00"/><stop offset="0.9977" stop-color="#ffdc00"/></linearGradient><linearGradient id="ib48" gradientUnits="userSpaceOnUse" x1="1688" y1="0" x2="1902" y2="0"><stop offset="0.0023" stop-color="#c8ff03"/><stop offset="0.6285" stop-color="#fffb00"/><stop offset="0.9977" stop-color="#ffda00"/></linearGradient><linearGradient id="ib52" gradientUnits="userSpaceOnUse" x1="1688" y1="0" x2="1902" y2="0"><stop offset="0.0023" stop-color="#caff03"/><stop offset="0.6098" stop-color="#fffb00"/><stop offset="0.9977" stop-color="#ffd900"/></linearGradient><linearGradient id="ib56" gradientUnits="userSpaceOnUse" x1="1688" y1="0" x2="1902" y2="0"><stop offset="0.0023" stop-color="#cbff04"/><stop offset="0.5958" stop-color="#fffb00"/><stop offset="0.9977" stop-color="#ffd800"/></linearGradient><linearGradient id="ib60" gradientUnits="userSpaceOnUse" x1="1688" y1="0" x2="1902" y2="0"><stop offset="0.0023" stop-color="#ccff04"/><stop offset="0.5771" stop-color="#fffb00"/><stop offset="0.9977" stop-color="#ffd600"/></linearGradient><linearGradient id="ib64" gradientUnits="userSpaceOnUse" x1="1688" y1="0" x2="1902" y2="0"><stop offset="0.0023" stop-color="#ceff05"/><stop offset="0.5631" stop-color="#fffb00"/><stop offset="0.9977" stop-color="#ffd500"/></linearGradient><linearGradient id="ib68" gradientUnits="userSpaceOnUse" x1="1688" y1="0" x2="1902" y2="0"><stop offset="0.0023" stop-color="#cfff05"/><stop offset="0.5444" stop-color="#fffb00"/><stop offset="0.9977" stop-color="#ffd300"/></linearGradient><linearGradient id="ib72" gradientUnits="userSpaceOnUse" x1="1688" y1="0" x2="1902" y2="0"><stop offset="0.0023" stop-color="#d1ff05"/><stop offset="0.5304" stop-color="#fffb00"/><stop offset="0.9977" stop-color="#ffd200"/></linearGradient><linearGradient id="ib76" gradientUnits="userSpaceOnUse" x1="1688" y1="0" x2="1902" y2="0"><stop offset="0.0023" stop-color="#d2ff06"/><stop offset="0.5117" stop-color="#fffb00"/><stop offset="0.9977" stop-color="#ffd100"/></linearGradient><linearGradient id="ib80" gradientUnits="userSpaceOnUse" x1="1688" y1="0" x2="1902" y2="0"><stop offset="0.0023" stop-color="#d3ff06"/><stop offset="0.4977" stop-color="#fffb01"/><stop offset="0.9977" stop-color="#ffcf00"/></linearGradient><linearGradient id="ib84" gradientUnits="userSpaceOnUse" x1="1688" y1="0" x2="1902" y2="0"><stop offset="0.0023" stop-color="#d5ff07"/><stop offset="0.4790" stop-color="#fffb01"/><stop offset="0.9977" stop-color="#ffce00"/></linearGradient><linearGradient id="ib88" gradientUnits="userSpaceOnUse" x1="1688" y1="0" x2="1902" y2="0"><stop offset="0.0023" stop-color="#d6ff07"/><stop offset="0.4603" stop-color="#fffb02"/><stop offset="0.9977" stop-color="#ffcc00"/></linearGradient><linearGradient id="ib92" gradientUnits="userSpaceOnUse" x1="1688" y1="0" x2="1902" y2="0"><stop offset="0.0023" stop-color="#d8ff08"/><stop offset="0.4463" stop-color="#fffb02"/><stop offset="0.9977" stop-color="#ffcb00"/></linearGradient><linearGradient id="ib96" gradientUnits="userSpaceOnUse" x1="1688" y1="0" x2="1902" y2="0"><stop offset="0.0023" stop-color="#d9ff08"/><stop offset="0.4276" stop-color="#fffb03"/><stop offset="0.9977" stop-color="#ffca00"/></linearGradient><linearGradient id="ib100" gradientUnits="userSpaceOnUse" x1="1688" y1="0" x2="1902" y2="0"><stop offset="0.0023" stop-color="#dbff09"/><stop offset="0.4136" stop-color="#fffb03"/><stop offset="0.9977" stop-color="#ffc800"/></linearGradient><linearGradient id="ib104" gradientUnits="userSpaceOnUse" x1="1688" y1="0" x2="1902" y2="0"><stop offset="0.0023" stop-color="#dcff09"/><stop offset="0.3949" stop-color="#fffb04"/><stop offset="0.9977" stop-color="#ffc700"/></linearGradient><linearGradient id="ib108" gradientUnits="userSpaceOnUse" x1="1688" y1="0" x2="1902" y2="0"><stop offset="0.0023" stop-color="#deff0a"/><stop offset="0.3808" stop-color="#fffa04"/><stop offset="0.9977" stop-color="#ffc600"/></linearGradient><linearGradient id="ib112" gradientUnits="userSpaceOnUse" x1="1688" y1="0" x2="1902" y2="0"><stop offset="0.0023" stop-color="#dfff0a"/><stop offset="0.3621" stop-color="#fffb05"/><stop offset="0.9977" stop-color="#ffc400"/></linearGradient><linearGradient id="ib116" gradientUnits="userSpaceOnUse" x1="1688" y1="0" x2="1902" y2="0"><stop offset="0.0023" stop-color="#e1ff0b"/><stop offset="0.3481" stop-color="#fffa06"/><stop offset="0.9977" stop-color="#ffc300"/></linearGradient><linearGradient id="ib120" gradientUnits="userSpaceOnUse" x1="1688" y1="0" x2="1902" y2="0"><stop offset="0.0023" stop-color="#e2ff0b"/><stop offset="0.3294" stop-color="#fffb06"/><stop offset="0.9977" stop-color="#ffc200"/></linearGradient><linearGradient id="ib124" gradientUnits="userSpaceOnUse" x1="1688" y1="0" x2="1902" y2="0"><stop offset="0.0023" stop-color="#e4ff0c"/><stop offset="0.3154" stop-color="#fffa07"/><stop offset="0.9977" stop-color="#ffc000"/></linearGradient><linearGradient id="ib128" gradientUnits="userSpaceOnUse" x1="1688" y1="0" x2="1902" y2="0"><stop offset="0.0023" stop-color="#e5ff0c"/><stop offset="0.2967" stop-color="#fffa08"/><stop offset="0.9977" stop-color="#ffbf00"/></linearGradient><linearGradient id="ib132" gradientUnits="userSpaceOnUse" x1="1688" y1="0" x2="1902" y2="0"><stop offset="0.0023" stop-color="#e7ff0d"/><stop offset="0.2827" stop-color="#fffa08"/><stop offset="0.9977" stop-color="#ffbe00"/></linearGradient><linearGradient id="ib136" gradientUnits="userSpaceOnUse" x1="1688" y1="0" x2="1902" y2="0"><stop offset="0.0023" stop-color="#e8ff0d"/><stop offset="0.2640" stop-color="#fffa09"/><stop offset="0.9977" stop-color="#ffbc00"/></linearGradient><linearGradient id="ib140" gradientUnits="userSpaceOnUse" x1="1688" y1="0" x2="1902" y2="0"><stop offset="0.0023" stop-color="#eaff0e"/><stop offset="0.2500" stop-color="#fffa0a"/><stop offset="0.9977" stop-color="#ffbb00"/></linearGradient><linearGradient id="ib144" gradientUnits="userSpaceOnUse" x1="1688" y1="0" x2="1902" y2="0"><stop offset="0.0023" stop-color="#ebff0e"/><stop offset="0.2407" stop-color="#fffa0a"/><stop offset="0.9977" stop-color="#ffba00"/></linearGradient><linearGradient id="gRb" x1="0" y1="0" x2="0" y2="1"><stop offset="0" stop-color="#ff5555"/><stop offset="1" stop-color="#ff2020"/></linearGradient><linearGradient id="gGb" x1="0" y1="0" x2="0" y2="1"><stop offset="0" stop-color="#5ab05a"/><stop offset="1" stop-color="#1a8a1a"/></linearGradient><linearGradient id="gBb" x1="0" y1="0" x2="0" y2="1"><stop offset="0" stop-color="#5a5aff"/><stop offset="1" stop-color="#4a4af0"/></linearGradient><linearGradient id="gBotBar" x1="0" y1="0" x2="0" y2="1"><stop offset="0" stop-color="#464646"/><stop offset="1" stop-color="#262626"/></linearGradient><linearGradient id="gBtn" x1="0" y1="0" x2="0" y2="1"><stop offset="0" stop-color="#a6a6a6"/><stop offset="0.5" stop-color="#7a7a7a"/><stop offset="1" stop-color="#5a5a5a"/></linearGradient><linearGradient id="gBtnSel" x1="0" y1="0" x2="0" y2="1"><stop offset="0" stop-color="#1a1a1a"/><stop offset="1" stop-color="#3a3a3a"/></linearGradient><linearGradient id="gBtn2" x1="0" y1="0" x2="0" y2="1"><stop offset="0" stop-color="#a0a0a0"/><stop offset="1" stop-color="#6a6a6a"/></linearGradient><linearGradient id="gIcoC" x1="0" y1="0" x2="0" y2="1"><stop offset="0" stop-color="#5e5e5e"/><stop offset="1" stop-color="#8a8a8a"/></linearGradient></defs><rect x="0" y="0" width="1920" height="1146" fill="#232323"/>
<rect x="0" y="0" width="1920" height="25" fill="#00cc6a"/>
<text x="26.6" y="17.9" font-size="13.66" fill="#0b2616" textLength="515.7" lengthAdjust="spacingAndGlyphs">Calman 2025 Calman Ultimate for Business 118 Days Remaining  - Analysis/SDR Toolkit</text>
<polygon points="10.3,3.5999999999999996 14.9,8.2 10.3,12.799999999999999 5.700000000000001,8.2" fill="#f5c400"/>
<polygon points="14.7,7.9 19.299999999999997,12.5 14.7,17.1 10.1,12.5" fill="#22c022"/>
<polygon points="5.9,7.9 10.5,12.5 5.9,17.1 1.3000000000000007,12.5" fill="#2aa8f0"/>
<polygon points="10.3,12.200000000000001 14.9,16.8 10.3,21.4 5.700000000000001,16.8" fill="#e8205a"/>
<line x1="1782" y1="12.5" x2="1793.5" y2="12.5" stroke="#0d1a12" stroke-width="1.1"/>
<rect x="1834.5" y="9.5" width="8.5" height="8" rx="1.5" fill="none" stroke="#0d1a12" stroke-width="1.1"/>
<path d="M1836.8 7.3 H1843 a1.8 1.8 0 0 1 1.8 1.8 V15" fill="none" stroke="#0d1a12" stroke-width="1.1"/>
<path d="M1887 7 L1898.3 18.3 M1898.3 7 L1887 18.3" stroke="#0d1a12" stroke-width="1.2"/>
<path d="M1 26 H205 V52 a6 6 0 0 1 -6 6 H7 a6 6 0 0 1 -6 -6 Z" fill="url(#gRed)" stroke="#7a1a1a" stroke-width="0.8"/>
<g transform="translate(38.75,41.6) rotate(45)" fill="none" stroke="#fff" stroke-width="2.6" stroke-linecap="round" stroke-linejoin="round"><path d="M-7.9 -1.9 L-7.9 -7.9 L-1.9 -7.9"/><path d="M7.9 -1.9 L7.9 -7.9 L1.9 -7.9"/><path d="M7.9 1.9 L7.9 7.9 L1.9 7.9"/><path d="M-7.9 1.9 L-7.9 7.9 L-1.9 7.9"/></g><g transform="translate(38.75,41.6) rotate(45)" fill="#fff"><rect x="-5.00" y="-5.00" width="3.5" height="3.5" rx="0.6"/><rect x="-5.00" y="1.50" width="3.5" height="3.5" rx="0.6"/><rect x="1.50" y="-5.00" width="3.5" height="3.5" rx="0.6"/><rect x="1.50" y="1.50" width="3.5" height="3.5" rx="0.6"/></g>
<text x="56.6" y="48.8" font-size="27.50" fill="#ffffff" textLength="95.4" lengthAdjust="spacingAndGlyphs">calman</text>
<circle cx="186.5" cy="41.5" r="11" fill="url(#gRedBtn)"/>
<polygon points="181.5,39.5 191.5,39.5 186.5,45" fill="#fff"/>
<rect x="213" y="39" width="1707" height="6" fill="url(#gRain)"/>
<path d="M0 64 H219 a6 6 0 0 1 6 6 V1146 H0 Z" fill="#555555"/>
<rect x="0" y="66" width="1.6" height="1080" fill="#4a4a4a"/>
<circle cx="21" cy="80.5" r="11" fill="url(#gKnob)"/>
<circle cx="20.5" cy="80" r="4.2" fill="url(#gBall)"/>
<circle cx="203.5" cy="80.5" r="11" fill="url(#gKnob)"/>
<polygon points="201,80.5 206.5,75.5 206.5,86" fill="#f4f4f4"/>
<text x="10.5" y="113.1" font-size="13.66" fill="#e6e6e6" textLength="71.0" lengthAdjust="spacingAndGlyphs">SDR Toolkit</text>
<rect x="10.5" y="118" width="204.3" height="298.7" fill="#202020"/>
<rect x="10.5" y="118" width="205" height="8" fill="url(#gTreeTop)"/>
<rect x="10.5" y="118" width="6" height="298" fill="url(#gTreeL)"/>
<polygon points="25.5,131.8 25.5,136.8 20.5,136.8" fill="#4a4a4a"/>
<text x="34.0" y="138.8" font-size="12.06" fill="#ffffff" font-weight="bold" textLength="48.5" lengthAdjust="spacingAndGlyphs">Welcome</text>
<text x="48.5" y="156.7" font-size="12.06" fill="#f2f2f2" textLength="45.5" lengthAdjust="spacingAndGlyphs">Welcome</text>
<text x="48.5" y="173.1" font-size="12.06" fill="#f2f2f2" textLength="43.0" lengthAdjust="spacingAndGlyphs">Options</text>
<polygon points="25.5,182.5 25.5,187.5 20.5,187.5" fill="#4a4a4a"/>
<text x="34.0" y="189.5" font-size="12.06" fill="#ffffff" font-weight="bold" textLength="49.5" lengthAdjust="spacingAndGlyphs">Analysis</text>
<text x="48.5" y="207.8" font-size="12.06" fill="#f2f2f2" textLength="84.5" lengthAdjust="spacingAndGlyphs">Dynamic Range</text>
<text x="48.5" y="224.2" font-size="12.06" fill="#f2f2f2" textLength="80.5" lengthAdjust="spacingAndGlyphs">Grayscale - 2pt</text>
<text x="48.5" y="240.6" font-size="12.06" fill="#f2f2f2" textLength="92.0" lengthAdjust="spacingAndGlyphs">Grayscale - Multi</text>
<text x="48.5" y="256.9" font-size="12.06" fill="#f2f2f2" textLength="70.0" lengthAdjust="spacingAndGlyphs">Color Gamut</text>
<text x="48.5" y="273.4" font-size="12.06" fill="#f2f2f2" textLength="39.5" lengthAdjust="spacingAndGlyphs">3D LUT</text>
<text x="48.5" y="289.8" font-size="12.06" fill="#f2f2f2" textLength="73.0" lengthAdjust="spacingAndGlyphs">ColorChecker</text>
<rect x="46" y="295.54999999999995" width="105.5" height="16" fill="#e6e6e6"/>
<text x="48.5" y="306.1" font-size="12.06" fill="#3a3a3a" textLength="101.0" lengthAdjust="spacingAndGlyphs">Saturation Sweeps</text>
<text x="48.5" y="322.5" font-size="12.06" fill="#f2f2f2" textLength="104.0" lengthAdjust="spacingAndGlyphs">Luminance Sweeps</text>
<text x="48.5" y="338.9" font-size="12.06" fill="#f2f2f2" textLength="52.5" lengthAdjust="spacingAndGlyphs">Additivity</text>
<text x="48.5" y="355.4" font-size="12.06" fill="#f2f2f2" textLength="99.0" lengthAdjust="spacingAndGlyphs">Screen Uniformity</text>
<text x="48.5" y="371.8" font-size="12.06" fill="#f2f2f2" textLength="96.5" lengthAdjust="spacingAndGlyphs">Screen Angularity</text>
<text x="48.5" y="388.1" font-size="12.06" fill="#f2f2f2" textLength="84.5" lengthAdjust="spacingAndGlyphs">Screen Stability</text>
<text x="48.5" y="404.5" font-size="12.06" fill="#f2f2f2" textLength="109.0" lengthAdjust="spacingAndGlyphs">Spectral Power Dist.</text>
<rect x="225" y="99" width="1695" height="1047" fill="#333333"/>
<rect x="225" y="99" width="1.6" height="1047" fill="#2a2a2a"/>
<path d="M225.5 99 V70 a5.5 5.5 0 0 1 5.5 -5.5 H323 a5.5 5.5 0 0 1 5.5 5.5 V99 Z" fill="url(#gTab)" stroke="#8a8a8a" stroke-width="1"/>
<rect x="225.5" y="97.5" width="103" height="3" fill="#333333"/>
<rect x="289.5" y="65" width="1.2" height="33" fill="#6a6a6a"/>
<text x="232.0" y="87.9" font-size="13.52" fill="#e8e8e8" textLength="52.5" lengthAdjust="spacingAndGlyphs">History 1</text>
<circle cx="308.5" cy="85" r="11" fill="#3a3a3a"/>
<path d="M305 85.5 h7 M308.5 82 v7" stroke="#707070" stroke-width="1"/>
<path d="M1366.5 99 V70 a5 5 0 0 1 5 -5 H1522 a5 5 0 0 1 5 5 V99 Z" fill="url(#gTool)"/>
<path d="M1366.5 99 V71 a6 6 0 0 1 6 -6 V99 Z" fill="#00e000"/>
<text x="1376.3" y="78.0" font-size="11.19" fill="#eeeeee" textLength="73.8" lengthAdjust="spacingAndGlyphs">X-Rite i1Pro 2</text>
<text x="1376.3" y="94.4" font-size="11.19" fill="#eeeeee" textLength="62.5" lengthAdjust="spacingAndGlyphs">Direct View</text>
<circle cx="1465" cy="82.5" r="10.5" fill="url(#gDrop)"/>
<polygon points="1459.5,81.0 1470.5,81.0 1465,86.5" fill="#ffffff"/>
<rect x="1486" y="66" width="1.2" height="33" fill="#3e3e3e"/>
<circle cx="1510" cy="82" r="14.3" fill="#0000ff" stroke="#e0e0ff" stroke-width="1.3"/>
<text x="1502.2" y="85.6" font-size="10.32" fill="#ffffff" textLength="16.2" lengthAdjust="spacingAndGlyphs">235</text>
<path d="M1534.5 99 V70 a5 5 0 0 1 5 -5 H1675 a5 5 0 0 1 5 5 V99 Z" fill="url(#gTool)"/>
<path d="M1534.5 99 V71 a6 6 0 0 1 6 -6 V99 Z" fill="#f0f000"/>
<text x="1543.5" y="78.0" font-size="11.19" fill="#eeeeee" textLength="37.5" lengthAdjust="spacingAndGlyphs">Source</text>
<circle cx="1661" cy="82.5" r="10.5" fill="url(#gDrop)"/>
<polygon points="1655.5,81.0 1666.5,81.0 1661,86.5" fill="#ffffff"/>
<path d="M1687.5 99 V70 a5 5 0 0 1 5 -5 H1843 a5 5 0 0 1 5 5 V99 Z" fill="url(#gTool)"/>
<path d="M1687.5 99 V71 a6 6 0 0 1 6 -6 V99 Z" fill="#f0f000"/>
<text x="1696.9" y="78.0" font-size="11.19" fill="#eeeeee" textLength="118.4" lengthAdjust="spacingAndGlyphs">Direct Display Control</text>
<circle cx="1830" cy="82.5" r="10.5" fill="url(#gDrop)"/>
<polygon points="1824.5,81.0 1835.5,81.0 1830,86.5" fill="#ffffff"/>
<rect x="1851.5" y="65.5" width="37" height="31" rx="5" fill="url(#gGear)" stroke="#b0b0b0" stroke-width="1"/>
<circle cx="1870" cy="81" r="11" fill="#5e5e5e"/>
<g transform="translate(1870,81)"><rect x="-1.6" y="-7.5" width="3.2" height="3.5" fill="#d8d8d8" transform="rotate(0)"/><rect x="-1.6" y="-7.5" width="3.2" height="3.5" fill="#d8d8d8" transform="rotate(45)"/><rect x="-1.6" y="-7.5" width="3.2" height="3.5" fill="#d8d8d8" transform="rotate(90)"/><rect x="-1.6" y="-7.5" width="3.2" height="3.5" fill="#d8d8d8" transform="rotate(135)"/><rect x="-1.6" y="-7.5" width="3.2" height="3.5" fill="#d8d8d8" transform="rotate(180)"/><rect x="-1.6" y="-7.5" width="3.2" height="3.5" fill="#d8d8d8" transform="rotate(225)"/><rect x="-1.6" y="-7.5" width="3.2" height="3.5" fill="#d8d8d8" transform="rotate(270)"/><rect x="-1.6" y="-7.5" width="3.2" height="3.5" fill="#d8d8d8" transform="rotate(315)"/><circle r="5" fill="none" stroke="#d8d8d8" stroke-width="2.4"/></g>
<rect x="1890.5" y="65.5" width="40" height="31" rx="5" fill="url(#gGear)" stroke="#b0b0b0" stroke-width="1"/>
<circle cx="1906" cy="81" r="11" fill="#5e5e5e"/>
<polygon points="1902,81 1908,75.5 1908,86.5" fill="#f0f0f0"/>
<rect x="1912" y="99" width="8" height="977" fill="url(#gRShadow)"/>
<text x="234.0" y="224.0" font-size="43.60" fill="#f2f2f2" textLength="337.0" lengthAdjust="spacingAndGlyphs">Saturation Sweeps</text>
<text x="351.7" y="277.7" font-size="21.22" fill="#f0f0f0" textLength="108.6" lengthAdjust="spacingAndGlyphs">dE Formula:</text>
<rect x="469" y="258" width="136" height="25" fill="url(#gCombo)" stroke="#2a2a2a" stroke-width="1"/>
<text x="473.9" y="277.7" font-size="16.57" fill="#f0f0f0" textLength="35.0" lengthAdjust="spacingAndGlyphs">2000</text>
<polygon points="590.5,267.5 599.5,267.5 595,273.5" fill="#000"/>
<text x="793.8" y="215.8" font-size="21.22" fill="#f0f0f0" textLength="60.5" lengthAdjust="spacingAndGlyphs">Levels:</text>
<rect x="862.5" y="195.5" width="344" height="25.5" fill="url(#gCombo)" stroke="#2a2a2a" stroke-width="1"/>
<text x="867.7" y="215.8" font-size="17.15" fill="#f0f0f0" textLength="89.9" lengthAdjust="spacingAndGlyphs">20% Sweeps</text>
<polygon points="1190.5,205.5 1199.5,205.5 1195,211.5" fill="#000"/>
<text x="369.6" y="310.1" font-size="14.24" fill="#d8d8d8" textLength="79.8" lengthAdjust="spacingAndGlyphs">DeltaE 2000</text>
<rect x="269.5" y="316" width="315.59999999999997" height="391.3" fill="#222222"/>
<line x1="310.6" y1="316" x2="310.6" y2="707.3" stroke="#8c8c8c" stroke-width="1.6"/>
<line x1="354.1" y1="316" x2="354.1" y2="707.3" stroke="#8c8c8c" stroke-width="1.6"/>
<line x1="395.2" y1="316" x2="395.2" y2="707.3" stroke="#8c8c8c" stroke-width="1.6"/>
<line x1="438.0" y1="316" x2="438.0" y2="707.3" stroke="#8c8c8c" stroke-width="1.6"/>
<line x1="479.3" y1="316" x2="479.3" y2="707.3" stroke="#8c8c8c" stroke-width="1.6"/>
<line x1="522.1" y1="316" x2="522.1" y2="707.3" stroke="#8c8c8c" stroke-width="1.6"/>
<line x1="563.9" y1="316" x2="563.9" y2="707.3" stroke="#8c8c8c" stroke-width="1.6"/>
<path d="M269.5 316 H585.1 V707.3" fill="none" stroke="#8c8c8c" stroke-width="1.6"/>
<line x1="269.5" y1="315.2" x2="269.5" y2="714.3" stroke="#8c8c8c" stroke-width="1.8"/>
<line x1="262.5" y1="707.3" x2="585.9" y2="707.3" stroke="#8c8c8c" stroke-width="1.8"/>
<line x1="262.5" y1="316.0" x2="269.5" y2="316.0" stroke="#8c8c8c" stroke-width="1.6"/>
<line x1="262.5" y1="371.9" x2="269.5" y2="371.9" stroke="#8c8c8c" stroke-width="1.6"/>
<line x1="262.5" y1="427.8" x2="269.5" y2="427.8" stroke="#8c8c8c" stroke-width="1.6"/>
<line x1="262.5" y1="483.7" x2="269.5" y2="483.7" stroke="#8c8c8c" stroke-width="1.6"/>
<line x1="262.5" y1="539.6" x2="269.5" y2="539.6" stroke="#8c8c8c" stroke-width="1.6"/>
<line x1="262.5" y1="595.5" x2="269.5" y2="595.5" stroke="#8c8c8c" stroke-width="1.6"/>
<line x1="262.5" y1="651.4" x2="269.5" y2="651.4" stroke="#8c8c8c" stroke-width="1.6"/>
<line x1="262.5" y1="707.3" x2="269.5" y2="707.3" stroke="#8c8c8c" stroke-width="1.6"/>
<line x1="269.5" y1="707.3" x2="269.5" y2="714.3" stroke="#8c8c8c" stroke-width="1.6"/>
<text x="265.0" y="729.5" font-size="14.53" fill="#d8d8d8">0</text>
<line x1="310.6" y1="707.3" x2="310.6" y2="714.3" stroke="#8c8c8c" stroke-width="1.6"/>
<text x="306.1" y="729.5" font-size="14.53" fill="#d8d8d8">2</text>
<line x1="354.1" y1="707.3" x2="354.1" y2="714.3" stroke="#8c8c8c" stroke-width="1.6"/>
<text x="349.6" y="729.5" font-size="14.53" fill="#d8d8d8">4</text>
<line x1="395.2" y1="707.3" x2="395.2" y2="714.3" stroke="#8c8c8c" stroke-width="1.6"/>
<text x="390.7" y="729.5" font-size="14.53" fill="#d8d8d8">6</text>
<line x1="438.0" y1="707.3" x2="438.0" y2="714.3" stroke="#8c8c8c" stroke-width="1.6"/>
<text x="433.5" y="729.5" font-size="14.53" fill="#d8d8d8">8</text>
<line x1="479.3" y1="707.3" x2="479.3" y2="714.3" stroke="#8c8c8c" stroke-width="1.6"/>
<text x="470.7" y="729.5" font-size="14.53" fill="#d8d8d8">10</text>
<line x1="522.1" y1="707.3" x2="522.1" y2="714.3" stroke="#8c8c8c" stroke-width="1.6"/>
<text x="513.5" y="729.5" font-size="14.53" fill="#d8d8d8">12</text>
<line x1="563.9" y1="707.3" x2="563.9" y2="714.3" stroke="#8c8c8c" stroke-width="1.6"/>
<text x="555.3" y="729.5" font-size="14.53" fill="#d8d8d8">14</text>
<text x="230.3" y="350.0" font-size="14.53" fill="#d8d8d8">100%</text>
<text x="238.4" y="405.9" font-size="14.53" fill="#d8d8d8">80%</text>
<text x="238.4" y="461.8" font-size="14.53" fill="#d8d8d8">60%</text>
<text x="238.4" y="517.7" font-size="14.53" fill="#d8d8d8">40%</text>
<text x="238.4" y="573.6" font-size="14.53" fill="#d8d8d8">20%</text>
<text x="243.2" y="629.5" font-size="14.53" fill="#d8d8d8">100</text>
<text x="259.4" y="685.4" font-size="14.53" fill="#d8d8d8">0</text>
<rect x="269.5" y="321.4" width="49.4" height="6" fill="#000"/>
<rect x="269.5" y="322.2" width="48.2" height="4.2" fill="url(#gBar00)"/>
<rect x="269.5" y="328.2" width="48.4" height="6" fill="#000"/>
<rect x="269.5" y="329.1" width="47.2" height="4.2" fill="url(#gBar01)"/>
<rect x="269.5" y="335.1" width="123.9" height="6" fill="#000"/>
<rect x="269.5" y="335.9" width="122.7" height="4.2" fill="url(#gBar02)"/>
<rect x="269.5" y="341.9" width="28.6" height="6" fill="#000"/>
<rect x="269.5" y="342.8" width="27.4" height="4.2" fill="url(#gBar03)"/>
<rect x="269.5" y="348.8" width="35.8" height="6" fill="#000"/>
<rect x="269.5" y="349.6" width="34.6" height="4.2" fill="url(#gBar04)"/>
<rect x="269.5" y="355.6" width="49.0" height="6" fill="#000"/>
<rect x="269.5" y="356.4" width="47.8" height="4.2" fill="url(#gBar05)"/>
<rect x="269.5" y="377.3" width="40.0" height="6" fill="#000"/>
<rect x="269.5" y="378.1" width="38.8" height="4.2" fill="url(#gBar10)"/>
<rect x="269.5" y="384.1" width="23.1" height="6" fill="#000"/>
<rect x="269.5" y="384.9" width="21.9" height="4.2" fill="url(#gBar11)"/>
<rect x="269.5" y="391.0" width="94.0" height="6" fill="#000"/>
<rect x="269.5" y="391.8" width="92.8" height="4.2" fill="url(#gBar12)"/>
<rect x="269.5" y="397.8" width="24.6" height="6" fill="#000"/>
<rect x="269.5" y="398.6" width="23.4" height="4.2" fill="url(#gBar13)"/>
<rect x="269.5" y="404.7" width="41.2" height="6" fill="#000"/>
<rect x="269.5" y="405.5" width="40.0" height="4.2" fill="url(#gBar14)"/>
<rect x="269.5" y="411.5" width="20.6" height="6" fill="#000"/>
<rect x="269.5" y="412.3" width="19.4" height="4.2" fill="url(#gBar15)"/>
<rect x="269.5" y="433.2" width="33.5" height="6" fill="#000"/>
<rect x="269.5" y="434.0" width="32.3" height="4.2" fill="url(#gBar20)"/>
<rect x="269.5" y="440.1" width="17.9" height="6" fill="#000"/>
<rect x="269.5" y="440.9" width="16.7" height="4.2" fill="url(#gBar21)"/>
<rect x="269.5" y="446.9" width="76.4" height="6" fill="#000"/>
<rect x="269.5" y="447.7" width="75.2" height="4.2" fill="url(#gBar22)"/>
<rect x="269.5" y="453.8" width="22.1" height="6" fill="#000"/>
<rect x="269.5" y="454.6" width="20.9" height="4.2" fill="url(#gBar23)"/>
<rect x="269.5" y="460.6" width="44.4" height="6" fill="#000"/>
<rect x="269.5" y="461.4" width="43.2" height="4.2" fill="url(#gBar24)"/>
<rect x="269.5" y="467.4" width="25.2" height="6" fill="#000"/>
<rect x="269.5" y="468.2" width="24.0" height="4.2" fill="url(#gBar25)"/>
<rect x="269.5" y="489.1" width="51.1" height="6" fill="#000"/>
<rect x="269.5" y="489.9" width="49.9" height="4.2" fill="url(#gBar30)"/>
<rect x="269.5" y="495.9" width="17.9" height="6" fill="#000"/>
<rect x="269.5" y="496.8" width="16.7" height="4.2" fill="url(#gBar31)"/>
<rect x="269.5" y="502.8" width="62.5" height="6" fill="#000"/>
<rect x="269.5" y="503.6" width="61.3" height="4.2" fill="url(#gBar32)"/>
<rect x="269.5" y="509.6" width="9.7" height="6" fill="#000"/>
<rect x="269.5" y="510.4" width="8.5" height="4.2" fill="url(#gBar33)"/>
<rect x="269.5" y="516.5" width="65.2" height="6" fill="#000"/>
<rect x="269.5" y="517.3" width="64.0" height="4.2" fill="url(#gBar34)"/>
<rect x="269.5" y="523.3" width="23.6" height="6" fill="#000"/>
<rect x="269.5" y="524.1" width="22.4" height="4.2" fill="url(#gBar35)"/>
<rect x="269.5" y="545.0" width="42.9" height="6" fill="#000"/>
<rect x="269.5" y="545.8" width="41.7" height="4.2" fill="url(#gBar40)"/>
<rect x="269.5" y="551.9" width="22.1" height="6" fill="#000"/>
<rect x="269.5" y="552.6" width="20.9" height="4.2" fill="url(#gBar41)"/>
<rect x="269.5" y="558.7" width="55.3" height="6" fill="#000"/>
<rect x="269.5" y="559.5" width="54.1" height="4.2" fill="url(#gBar42)"/>
<rect x="269.5" y="565.5" width="8.2" height="6" fill="#000"/>
<rect x="269.5" y="566.3" width="7.0" height="4.2" fill="url(#gBar43)"/>
<rect x="269.5" y="572.4" width="63.8" height="6" fill="#000"/>
<rect x="269.5" y="573.2" width="62.6" height="4.2" fill="url(#gBar44)"/>
<rect x="269.5" y="579.2" width="17.9" height="6" fill="#000"/>
<rect x="269.5" y="580.0" width="16.7" height="4.2" fill="url(#gBar45)"/>
<rect x="269.5" y="643.1" width="37.5" height="6" fill="#000"/>
<rect x="269.5" y="643.9" width="36.3" height="4.2" fill="url(#gBarW)"/>
<rect x="639.9" y="261.5" width="146.89999999999998" height="285.0" fill="#222222"/>
<line x1="634.9" y1="546.5" x2="786.8" y2="546.5" stroke="#8c8c8c" stroke-width="1.8"/>
<text x="612.6" y="551.7" font-size="15.12" fill="#d8d8d8">-15</text>
<line x1="634.9" y1="499.0" x2="786.8" y2="499.0" stroke="#8c8c8c" stroke-width="1.8"/>
<text x="612.6" y="504.2" font-size="15.12" fill="#d8d8d8">-10</text>
<line x1="634.9" y1="451.5" x2="786.8" y2="451.5" stroke="#8c8c8c" stroke-width="1.8"/>
<text x="621.0" y="456.7" font-size="15.12" fill="#d8d8d8">-5</text>
<line x1="634.9" y1="404.0" x2="786.8" y2="404.0" stroke="#8c8c8c" stroke-width="1.8"/>
<text x="626.0" y="409.2" font-size="15.12" fill="#d8d8d8">0</text>
<line x1="634.9" y1="356.5" x2="786.8" y2="356.5" stroke="#8c8c8c" stroke-width="1.8"/>
<text x="626.0" y="361.7" font-size="15.12" fill="#d8d8d8">5</text>
<line x1="634.9" y1="309.0" x2="786.8" y2="309.0" stroke="#8c8c8c" stroke-width="1.8"/>
<text x="617.6" y="314.2" font-size="15.12" fill="#d8d8d8">10</text>
<line x1="634.9" y1="261.5" x2="786.8" y2="261.5" stroke="#8c8c8c" stroke-width="1.8"/>
<text x="617.6" y="266.7" font-size="15.12" fill="#d8d8d8">15</text>
<path d="M639.9 552.5 V261.5 H786.8 V552.5" fill="none" stroke="#8c8c8c" stroke-width="1.8"/>
<text x="675.2" y="255.8" font-size="15.55" fill="#d8d8d8">Delta L</text>
<text x="693.5" y="563.0" font-size="15.12" fill="#d8d8d8">100%</text>
<rect x="655.4" y="383.1" width="115.4" height="20.9" fill="#000"/>
<rect x="656.6" y="384.3" width="113.0" height="18.5" fill="url(#gDeltaBar)"/>
<rect x="839.9" y="261.5" width="146.89999999999998" height="285.0" fill="#222222"/>
<line x1="834.9" y1="546.5" x2="986.8" y2="546.5" stroke="#8c8c8c" stroke-width="1.8"/>
<text x="812.6" y="551.7" font-size="15.12" fill="#d8d8d8">-15</text>
<line x1="834.9" y1="499.0" x2="986.8" y2="499.0" stroke="#8c8c8c" stroke-width="1.8"/>
<text x="812.6" y="504.2" font-size="15.12" fill="#d8d8d8">-10</text>
<line x1="834.9" y1="451.5" x2="986.8" y2="451.5" stroke="#8c8c8c" stroke-width="1.8"/>
<text x="821.0" y="456.7" font-size="15.12" fill="#d8d8d8">-5</text>
<line x1="834.9" y1="404.0" x2="986.8" y2="404.0" stroke="#8c8c8c" stroke-width="1.8"/>
<text x="826.0" y="409.2" font-size="15.12" fill="#d8d8d8">0</text>
<line x1="834.9" y1="356.5" x2="986.8" y2="356.5" stroke="#8c8c8c" stroke-width="1.8"/>
<text x="826.0" y="361.7" font-size="15.12" fill="#d8d8d8">5</text>
<line x1="834.9" y1="309.0" x2="986.8" y2="309.0" stroke="#8c8c8c" stroke-width="1.8"/>
<text x="817.6" y="314.2" font-size="15.12" fill="#d8d8d8">10</text>
<line x1="834.9" y1="261.5" x2="986.8" y2="261.5" stroke="#8c8c8c" stroke-width="1.8"/>
<text x="817.6" y="266.7" font-size="15.12" fill="#d8d8d8">15</text>
<path d="M839.9 552.5 V261.5 H986.8 V552.5" fill="none" stroke="#8c8c8c" stroke-width="1.8"/>
<text x="873.9" y="255.8" font-size="15.55" fill="#d8d8d8">Delta C</text>
<text x="893.5" y="563.0" font-size="15.12" fill="#d8d8d8">100%</text>
<rect x="855.4" y="329.9" width="115.4" height="74.1" fill="#000"/>
<rect x="856.6" y="331.1" width="113.0" height="71.7" fill="url(#gDeltaBar)"/>
<rect x="1040.5" y="261.5" width="146.9000000000001" height="285.0" fill="#222222"/>
<line x1="1035.5" y1="546.5" x2="1187.4" y2="546.5" stroke="#8c8c8c" stroke-width="1.8"/>
<text x="1013.2" y="551.7" font-size="15.12" fill="#d8d8d8">-15</text>
<line x1="1035.5" y1="499.0" x2="1187.4" y2="499.0" stroke="#8c8c8c" stroke-width="1.8"/>
<text x="1013.2" y="504.2" font-size="15.12" fill="#d8d8d8">-10</text>
<line x1="1035.5" y1="451.5" x2="1187.4" y2="451.5" stroke="#8c8c8c" stroke-width="1.8"/>
<text x="1021.6" y="456.7" font-size="15.12" fill="#d8d8d8">-5</text>
<line x1="1035.5" y1="404.0" x2="1187.4" y2="404.0" stroke="#8c8c8c" stroke-width="1.8"/>
<text x="1026.6" y="409.2" font-size="15.12" fill="#d8d8d8">0</text>
<line x1="1035.5" y1="356.5" x2="1187.4" y2="356.5" stroke="#8c8c8c" stroke-width="1.8"/>
<text x="1026.6" y="361.7" font-size="15.12" fill="#d8d8d8">5</text>
<line x1="1035.5" y1="309.0" x2="1187.4" y2="309.0" stroke="#8c8c8c" stroke-width="1.8"/>
<text x="1018.2" y="314.2" font-size="15.12" fill="#d8d8d8">10</text>
<line x1="1035.5" y1="261.5" x2="1187.4" y2="261.5" stroke="#8c8c8c" stroke-width="1.8"/>
<text x="1018.2" y="266.7" font-size="15.12" fill="#d8d8d8">15</text>
<path d="M1040.5 552.5 V261.5 H1187.4 V552.5" fill="none" stroke="#8c8c8c" stroke-width="1.8"/>
<text x="1073.9" y="255.8" font-size="15.55" fill="#d8d8d8">Delta H</text>
<text x="1094.1" y="563.0" font-size="15.12" fill="#d8d8d8">100%</text>
<rect x="1056.0" y="392.6" width="115.4" height="11.4" fill="#000"/>
<rect x="1057.2" y="393.8" width="113.0" height="9.0" fill="url(#gDeltaBar)"/>
<rect x="606.4" y="574.4" width="600.6" height="165" fill="#000000"/>
<rect x="627.2" y="581.5" width="101" height="67" fill="#c6c3a1"/>
<rect x="627.2" y="648" width="101" height="68" fill="#bfc09e"/>
<rect x="627.7" y="582" width="100" height="133.5" fill="none" stroke="#f0f0f0" stroke-width="1"/>
<text x="665.6" y="731.0" font-size="12.06" fill="#f0f0f0">20%</text>
<rect x="745" y="581.5" width="101" height="67" fill="#c5c47d"/>
<rect x="745" y="648" width="101" height="68" fill="#c0bf80"/>
<rect x="745.5" y="582" width="100" height="133.5" fill="none" stroke="#f0f0f0" stroke-width="1"/>
<text x="783.4" y="731.0" font-size="12.06" fill="#f0f0f0">40%</text>
<rect x="862" y="581.5" width="101" height="67" fill="#c8c55f"/>
<rect x="862" y="648" width="101" height="68" fill="#c4c060"/>
<rect x="862.5" y="582" width="100" height="133.5" fill="none" stroke="#f0f0f0" stroke-width="1"/>
<text x="900.4" y="731.0" font-size="12.06" fill="#f0f0f0">60%</text>
<rect x="979.6" y="581.5" width="101" height="67" fill="#c7c026"/>
<rect x="979.6" y="648" width="101" height="68" fill="#c4be2c"/>
<rect x="980.1" y="582" width="100" height="133.5" fill="none" stroke="#f0f0f0" stroke-width="1"/>
<text x="1018.0" y="731.0" font-size="12.06" fill="#f0f0f0">80%</text>
<rect x="1097" y="581.5" width="101" height="67" fill="#cccc00"/>
<rect x="1097" y="648" width="101" height="68" fill="#cac532"/>
<rect x="1097.5" y="582" width="100" height="133.5" fill="none" stroke="#f0f0f0" stroke-width="1"/>
<text x="1132.1" y="731.0" font-size="12.06" fill="#f0f0f0">100%</text>
<g transform="translate(620,611) rotate(-90)"><text x="-16.8" y="0.0" font-size="12.06" fill="#f0f0f0">Actual</text></g>
<g transform="translate(620,686.5) rotate(-90)"><text x="-16.8" y="0.0" font-size="12.06" fill="#f0f0f0">Target</text></g>
<rect x="1214.4" y="187.4" width="705.6" height="566" fill="#1c1c1c"/>
<rect x="1221" y="193.8" width="691.3" height="553" fill="#333333"/>
<text x="1524.9" y="213.0" font-size="14.24" fill="#d8d8d8">CIE 1976 u'v'</text>
<rect x="1259" y="218" width="650" height="500" fill="#222222"/>
<g clip-path="url(#cpPlot)"><g clip-path="url(#cpLocus)"><g filter="url(#fBlurV)"><rect x="1260" y="219" width="648" height="4.6" fill="url(#gd0)"/><rect x="1260" y="223" width="648" height="4.6" fill="url(#gd4)"/><rect x="1260" y="227" width="648" height="4.6" fill="url(#gd8)"/><rect x="1260" y="231" width="648" height="4.6" fill="url(#gd12)"/><rect x="1260" y="235" width="648" height="4.6" fill="url(#gd16)"/><rect x="1260" y="239" width="648" height="4.6" fill="url(#gd20)"/><rect x="1260" y="243" width="648" height="4.6" fill="url(#gd24)"/><rect x="1260" y="247" width="648" height="4.6" fill="url(#gd28)"/><rect x="1260" y="251" width="648" height="4.6" fill="url(#gd32)"/><rect x="1260" y="255" width="648" height="4.6" fill="url(#gd36)"/><rect x="1260" y="259" width="648" height="4.6" fill="url(#gd40)"/><rect x="1260" y="263" width="648" height="4.6" fill="url(#gd44)"/><rect x="1260" y="267" width="648" height="4.6" fill="url(#gd48)"/><rect x="1260" y="271" width="648" height="4.6" fill="url(#gd52)"/><rect x="1260" y="275" width="648" height="4.6" fill="url(#gd56)"/><rect x="1260" y="279" width="648" height="4.6" fill="url(#gd60)"/><rect x="1260" y="283" width="648" height="4.6" fill="url(#gd64)"/><rect x="1260" y="287" width="648" height="4.6" fill="url(#gd68)"/><rect x="1260" y="291" width="648" height="4.6" fill="url(#gd72)"/><rect x="1260" y="295" width="648" height="4.6" fill="url(#gd76)"/><rect x="1260" y="299" width="648" height="4.6" fill="url(#gd80)"/><rect x="1260" y="303" width="648" height="4.6" fill="url(#gd84)"/><rect x="1260" y="307" width="648" height="4.6" fill="url(#gd88)"/><rect x="1260" y="311" width="648" height="4.6" fill="url(#gd92)"/><rect x="1260" y="315" width="648" height="4.6" fill="url(#gd96)"/><rect x="1260" y="319" width="648" height="4.6" fill="url(#gd100)"/><rect x="1260" y="323" width="648" height="4.6" fill="url(#gd104)"/><rect x="1260" y="327" width="648" height="4.6" fill="url(#gd108)"/><rect x="1260" y="331" width="648" height="4.6" fill="url(#gd112)"/><rect x="1260" y="335" width="648" height="4.6" fill="url(#gd116)"/><rect x="1260" y="339" width="648" height="4.6" fill="url(#gd120)"/><rect x="1260" y="343" width="648" height="4.6" fill="url(#gd124)"/><rect x="1260" y="347" width="648" height="4.6" fill="url(#gd128)"/><rect x="1260" y="351" width="648" height="4.6" fill="url(#gd132)"/><rect x="1260" y="355" width="648" height="4.6" fill="url(#gd136)"/><rect x="1260" y="359" width="648" height="4.6" fill="url(#gd140)"/><rect x="1260" y="363" width="648" height="4.6" fill="url(#gd144)"/><rect x="1260" y="367" width="648" height="4.6" fill="url(#gd148)"/><rect x="1260" y="371" width="648" height="4.6" fill="url(#gd152)"/><rect x="1260" y="375" width="648" height="4.6" fill="url(#gd156)"/><rect x="1260" y="379" width="648" height="4.6" fill="url(#gd160)"/><rect x="1260" y="383" width="648" height="4.6" fill="url(#gd164)"/><rect x="1260" y="387" width="648" height="4.6" fill="url(#gd168)"/><rect x="1260" y="391" width="648" height="4.6" fill="url(#gd172)"/><rect x="1260" y="395" width="648" height="4.6" fill="url(#gd176)"/><rect x="1260" y="399" width="648" height="4.6" fill="url(#gd180)"/><rect x="1260" y="403" width="648" height="4.6" fill="url(#gd184)"/><rect x="1260" y="407" width="648" height="4.6" fill="url(#gd188)"/><rect x="1260" y="411" width="648" height="4.6" fill="url(#gd192)"/><rect x="1260" y="415" width="648" height="4.6" fill="url(#gd196)"/><rect x="1260" y="419" width="648" height="4.6" fill="url(#gd200)"/><rect x="1260" y="423" width="648" height="4.6" fill="url(#gd204)"/><rect x="1260" y="427" width="648" height="4.6" fill="url(#gd208)"/><rect x="1260" y="431" width="648" height="4.6" fill="url(#gd212)"/><rect x="1260" y="435" width="648" height="4.6" fill="url(#gd216)"/><rect x="1260" y="439" width="648" height="4.6" fill="url(#gd220)"/><rect x="1260" y="443" width="648" height="4.6" fill="url(#gd224)"/><rect x="1260" y="447" width="648" height="4.6" fill="url(#gd228)"/><rect x="1260" y="451" width="648" height="4.6" fill="url(#gd232)"/><rect x="1260" y="455" width="648" height="4.6" fill="url(#gd236)"/><rect x="1260" y="459" width="648" height="4.6" fill="url(#gd240)"/><rect x="1260" y="463" width="648" height="4.6" fill="url(#gd244)"/><rect x="1260" y="467" width="648" height="4.6" fill="url(#gd248)"/><rect x="1260" y="471" width="648" height="4.6" fill="url(#gd252)"/><rect x="1260" y="475" width="648" height="4.6" fill="url(#gd256)"/><rect x="1260" y="479" width="648" height="4.6" fill="url(#gd260)"/><rect x="1260" y="483" width="648" height="4.6" fill="url(#gd264)"/><rect x="1260" y="487" width="648" height="4.6" fill="url(#gd268)"/><rect x="1260" y="491" width="648" height="4.6" fill="url(#gd272)"/><rect x="1260" y="495" width="648" height="4.6" fill="url(#gd276)"/><rect x="1260" y="499" width="648" height="4.6" fill="url(#gd280)"/><rect x="1260" y="503" width="648" height="4.6" fill="url(#gd284)"/><rect x="1260" y="507" width="648" height="4.6" fill="url(#gd288)"/><rect x="1260" y="511" width="648" height="4.6" fill="url(#gd292)"/><rect x="1260" y="515" width="648" height="4.6" fill="url(#gd296)"/><rect x="1260" y="519" width="648" height="4.6" fill="url(#gd300)"/><rect x="1260" y="523" width="648" height="4.6" fill="url(#gd304)"/><rect x="1260" y="527" width="648" height="4.6" fill="url(#gd308)"/><rect x="1260" y="531" width="648" height="4.6" fill="url(#gd312)"/><rect x="1260" y="535" width="648" height="4.6" fill="url(#gd316)"/><rect x="1260" y="539" width="648" height="4.6" fill="url(#gd320)"/><rect x="1260" y="543" width="648" height="4.6" fill="url(#gd324)"/><rect x="1260" y="547" width="648" height="4.6" fill="url(#gd328)"/><rect x="1260" y="551" width="648" height="4.6" fill="url(#gd332)"/><rect x="1260" y="555" width="648" height="4.6" fill="url(#gd336)"/><rect x="1260" y="559" width="648" height="4.6" fill="url(#gd340)"/><rect x="1260" y="563" width="648" height="4.6" fill="url(#gd344)"/><rect x="1260" y="567" width="648" height="4.6" fill="url(#gd348)"/><rect x="1260" y="571" width="648" height="4.6" fill="url(#gd352)"/><rect x="1260" y="575" width="648" height="4.6" fill="url(#gd356)"/><rect x="1260" y="579" width="648" height="4.6" fill="url(#gd360)"/><rect x="1260" y="583" width="648" height="4.6" fill="url(#gd364)"/><rect x="1260" y="587" width="648" height="4.6" fill="url(#gd368)"/><rect x="1260" y="591" width="648" height="4.6" fill="url(#gd372)"/><rect x="1260" y="595" width="648" height="4.6" fill="url(#gd376)"/><rect x="1260" y="599" width="648" height="4.6" fill="url(#gd380)"/><rect x="1260" y="603" width="648" height="4.6" fill="url(#gd384)"/><rect x="1260" y="607" width="648" height="4.6" fill="url(#gd388)"/><rect x="1260" y="611" width="648" height="4.6" fill="url(#gd392)"/><rect x="1260" y="615" width="648" height="4.6" fill="url(#gd396)"/><rect x="1260" y="619" width="648" height="4.6" fill="url(#gd400)"/><rect x="1260" y="623" width="648" height="4.6" fill="url(#gd404)"/><rect x="1260" y="627" width="648" height="4.6" fill="url(#gd408)"/><rect x="1260" y="631" width="648" height="4.6" fill="url(#gd412)"/><rect x="1260" y="635" width="648" height="4.6" fill="url(#gd416)"/><rect x="1260" y="639" width="648" height="4.6" fill="url(#gd420)"/><rect x="1260" y="643" width="648" height="4.6" fill="url(#gd424)"/><rect x="1260" y="647" width="648" height="4.6" fill="url(#gd428)"/><rect x="1260" y="651" width="648" height="4.6" fill="url(#gd432)"/><rect x="1260" y="655" width="648" height="4.6" fill="url(#gd436)"/><rect x="1260" y="659" width="648" height="4.6" fill="url(#gd440)"/><rect x="1260" y="663" width="648" height="4.6" fill="url(#gd444)"/><rect x="1260" y="667" width="648" height="4.6" fill="url(#gd448)"/><rect x="1260" y="671" width="648" height="4.6" fill="url(#gd452)"/><rect x="1260" y="675" width="648" height="4.6" fill="url(#gd456)"/><rect x="1260" y="679" width="648" height="4.6" fill="url(#gd460)"/><rect x="1260" y="683" width="648" height="4.6" fill="url(#gd464)"/><rect x="1260" y="687" width="648" height="4.6" fill="url(#gd468)"/><rect x="1260" y="691" width="648" height="4.6" fill="url(#gd472)"/><rect x="1260" y="695" width="648" height="4.6" fill="url(#gd476)"/><rect x="1260" y="699" width="648" height="4.6" fill="url(#gd480)"/><rect x="1260" y="703" width="648" height="4.6" fill="url(#gd484)"/><rect x="1260" y="707" width="648" height="4.6" fill="url(#gd488)"/><rect x="1260" y="711" width="648" height="4.6" fill="url(#gd492)"/><rect x="1260" y="715" width="648" height="2.6" fill="url(#gd496)"/></g><g clip-path="url(#cpTri)"><g filter="url(#fBlurV)"><rect x="1260" y="219" width="648" height="4.6" fill="url(#gb0)"/><rect x="1260" y="223" width="648" height="4.6" fill="url(#gb4)"/><rect x="1260" y="227" width="648" height="4.6" fill="url(#gb8)"/><rect x="1260" y="231" width="648" height="4.6" fill="url(#gb12)"/><rect x="1260" y="235" width="648" height="4.6" fill="url(#gb16)"/><rect x="1260" y="239" width="648" height="4.6" fill="url(#gb20)"/><rect x="1260" y="243" width="648" height="4.6" fill="url(#gb24)"/><rect x="1260" y="247" width="648" height="4.6" fill="url(#gb28)"/><rect x="1260" y="251" width="648" height="4.6" fill="url(#gb32)"/><rect x="1260" y="255" width="648" height="4.6" fill="url(#gb36)"/><rect x="1260" y="259" width="648" height="4.6" fill="url(#gb40)"/><rect x="1260" y="263" width="648" height="4.6" fill="url(#gb44)"/><rect x="1260" y="267" width="648" height="4.6" fill="url(#gb48)"/><rect x="1260" y="271" width="648" height="4.6" fill="url(#gb52)"/><rect x="1260" y="275" width="648" height="4.6" fill="url(#gb56)"/><rect x="1260" y="279" width="648" height="4.6" fill="url(#gb60)"/><rect x="1260" y="283" width="648" height="4.6" fill="url(#gb64)"/><rect x="1260" y="287" width="648" height="4.6" fill="url(#gb68)"/><rect x="1260" y="291" width="648" height="4.6" fill="url(#gb72)"/><rect x="1260" y="295" width="648" height="4.6" fill="url(#gb76)"/><rect x="1260" y="299" width="648" height="4.6" fill="url(#gb80)"/><rect x="1260" y="303" width="648" height="4.6" fill="url(#gb84)"/><rect x="1260" y="307" width="648" height="4.6" fill="url(#gb88)"/><rect x="1260" y="311" width="648" height="4.6" fill="url(#gb92)"/><rect x="1260" y="315" width="648" height="4.6" fill="url(#gb96)"/><rect x="1260" y="319" width="648" height="4.6" fill="url(#gb100)"/><rect x="1260" y="323" width="648" height="4.6" fill="url(#gb104)"/><rect x="1260" y="327" width="648" height="4.6" fill="url(#gb108)"/><rect x="1260" y="331" width="648" height="4.6" fill="url(#gb112)"/><rect x="1260" y="335" width="648" height="4.6" fill="url(#gb116)"/><rect x="1260" y="339" width="648" height="4.6" fill="url(#gb120)"/><rect x="1260" y="343" width="648" height="4.6" fill="url(#gb124)"/><rect x="1260" y="347" width="648" height="4.6" fill="url(#gb128)"/><rect x="1260" y="351" width="648" height="4.6" fill="url(#gb132)"/><rect x="1260" y="355" width="648" height="4.6" fill="url(#gb136)"/><rect x="1260" y="359" width="648" height="4.6" fill="url(#gb140)"/><rect x="1260" y="363" width="648" height="4.6" fill="url(#gb144)"/><rect x="1260" y="367" width="648" height="4.6" fill="url(#gb148)"/><rect x="1260" y="371" width="648" height="4.6" fill="url(#gb152)"/><rect x="1260" y="375" width="648" height="4.6" fill="url(#gb156)"/><rect x="1260" y="379" width="648" height="4.6" fill="url(#gb160)"/><rect x="1260" y="383" width="648" height="4.6" fill="url(#gb164)"/><rect x="1260" y="387" width="648" height="4.6" fill="url(#gb168)"/><rect x="1260" y="391" width="648" height="4.6" fill="url(#gb172)"/><rect x="1260" y="395" width="648" height="4.6" fill="url(#gb176)"/><rect x="1260" y="399" width="648" height="4.6" fill="url(#gb180)"/><rect x="1260" y="403" width="648" height="4.6" fill="url(#gb184)"/><rect x="1260" y="407" width="648" height="4.6" fill="url(#gb188)"/><rect x="1260" y="411" width="648" height="4.6" fill="url(#gb192)"/><rect x="1260" y="415" width="648" height="4.6" fill="url(#gb196)"/><rect x="1260" y="419" width="648" height="4.6" fill="url(#gb200)"/><rect x="1260" y="423" width="648" height="4.6" fill="url(#gb204)"/><rect x="1260" y="427" width="648" height="4.6" fill="url(#gb208)"/><rect x="1260" y="431" width="648" height="4.6" fill="url(#gb212)"/><rect x="1260" y="435" width="648" height="4.6" fill="url(#gb216)"/><rect x="1260" y="439" width="648" height="4.6" fill="url(#gb220)"/><rect x="1260" y="443" width="648" height="4.6" fill="url(#gb224)"/><rect x="1260" y="447" width="648" height="4.6" fill="url(#gb228)"/><rect x="1260" y="451" width="648" height="4.6" fill="url(#gb232)"/><rect x="1260" y="455" width="648" height="4.6" fill="url(#gb236)"/><rect x="1260" y="459" width="648" height="4.6" fill="url(#gb240)"/><rect x="1260" y="463" width="648" height="4.6" fill="url(#gb244)"/><rect x="1260" y="467" width="648" height="4.6" fill="url(#gb248)"/><rect x="1260" y="471" width="648" height="4.6" fill="url(#gb252)"/><rect x="1260" y="475" width="648" height="4.6" fill="url(#gb256)"/><rect x="1260" y="479" width="648" height="4.6" fill="url(#gb260)"/><rect x="1260" y="483" width="648" height="4.6" fill="url(#gb264)"/><rect x="1260" y="487" width="648" height="4.6" fill="url(#gb268)"/><rect x="1260" y="491" width="648" height="4.6" fill="url(#gb272)"/><rect x="1260" y="495" width="648" height="4.6" fill="url(#gb276)"/><rect x="1260" y="499" width="648" height="4.6" fill="url(#gb280)"/><rect x="1260" y="503" width="648" height="4.6" fill="url(#gb284)"/><rect x="1260" y="507" width="648" height="4.6" fill="url(#gb288)"/><rect x="1260" y="511" width="648" height="4.6" fill="url(#gb292)"/><rect x="1260" y="515" width="648" height="4.6" fill="url(#gb296)"/><rect x="1260" y="519" width="648" height="4.6" fill="url(#gb300)"/><rect x="1260" y="523" width="648" height="4.6" fill="url(#gb304)"/><rect x="1260" y="527" width="648" height="4.6" fill="url(#gb308)"/><rect x="1260" y="531" width="648" height="4.6" fill="url(#gb312)"/><rect x="1260" y="535" width="648" height="4.6" fill="url(#gb316)"/><rect x="1260" y="539" width="648" height="4.6" fill="url(#gb320)"/><rect x="1260" y="543" width="648" height="4.6" fill="url(#gb324)"/><rect x="1260" y="547" width="648" height="4.6" fill="url(#gb328)"/><rect x="1260" y="551" width="648" height="4.6" fill="url(#gb332)"/><rect x="1260" y="555" width="648" height="4.6" fill="url(#gb336)"/><rect x="1260" y="559" width="648" height="4.6" fill="url(#gb340)"/><rect x="1260" y="563" width="648" height="4.6" fill="url(#gb344)"/><rect x="1260" y="567" width="648" height="4.6" fill="url(#gb348)"/><rect x="1260" y="571" width="648" height="4.6" fill="url(#gb352)"/><rect x="1260" y="575" width="648" height="4.6" fill="url(#gb356)"/><rect x="1260" y="579" width="648" height="4.6" fill="url(#gb360)"/><rect x="1260" y="583" width="648" height="4.6" fill="url(#gb364)"/><rect x="1260" y="587" width="648" height="4.6" fill="url(#gb368)"/><rect x="1260" y="591" width="648" height="4.6" fill="url(#gb372)"/><rect x="1260" y="595" width="648" height="4.6" fill="url(#gb376)"/><rect x="1260" y="599" width="648" height="4.6" fill="url(#gb380)"/><rect x="1260" y="603" width="648" height="4.6" fill="url(#gb384)"/><rect x="1260" y="607" width="648" height="4.6" fill="url(#gb388)"/><rect x="1260" y="611" width="648" height="4.6" fill="url(#gb392)"/><rect x="1260" y="615" width="648" height="4.6" fill="url(#gb396)"/><rect x="1260" y="619" width="648" height="4.6" fill="url(#gb400)"/><rect x="1260" y="623" width="648" height="4.6" fill="url(#gb404)"/><rect x="1260" y="627" width="648" height="4.6" fill="url(#gb408)"/><rect x="1260" y="631" width="648" height="4.6" fill="url(#gb412)"/><rect x="1260" y="635" width="648" height="4.6" fill="url(#gb416)"/><rect x="1260" y="639" width="648" height="4.6" fill="url(#gb420)"/><rect x="1260" y="643" width="648" height="4.6" fill="url(#gb424)"/><rect x="1260" y="647" width="648" height="4.6" fill="url(#gb428)"/><rect x="1260" y="651" width="648" height="4.6" fill="url(#gb432)"/><rect x="1260" y="655" width="648" height="4.6" fill="url(#gb436)"/><rect x="1260" y="659" width="648" height="4.6" fill="url(#gb440)"/><rect x="1260" y="663" width="648" height="4.6" fill="url(#gb444)"/><rect x="1260" y="667" width="648" height="4.6" fill="url(#gb448)"/><rect x="1260" y="671" width="648" height="4.6" fill="url(#gb452)"/><rect x="1260" y="675" width="648" height="4.6" fill="url(#gb456)"/><rect x="1260" y="679" width="648" height="4.6" fill="url(#gb460)"/><rect x="1260" y="683" width="648" height="4.6" fill="url(#gb464)"/><rect x="1260" y="687" width="648" height="4.6" fill="url(#gb468)"/><rect x="1260" y="691" width="648" height="4.6" fill="url(#gb472)"/><rect x="1260" y="695" width="648" height="4.6" fill="url(#gb476)"/><rect x="1260" y="699" width="648" height="4.6" fill="url(#gb480)"/><rect x="1260" y="703" width="648" height="4.6" fill="url(#gb484)"/><rect x="1260" y="707" width="648" height="4.6" fill="url(#gb488)"/><rect x="1260" y="711" width="648" height="4.6" fill="url(#gb492)"/><rect x="1260" y="715" width="648" height="2.6" fill="url(#gb496)"/></g></g></g></g>
<path d="M1258.9 717.9 V218.2 H1909.1 V717.9 Z" fill="none" stroke="#8c8c8c" stroke-width="1.8"/>
<line x1="1258.9" y1="717.9" x2="1258.9" y2="724" stroke="#8c8c8c" stroke-width="1.6"/>
<text x="1254.9" y="739.5" font-size="14.24" fill="#d8d8d8">0</text>
<line x1="1313.0" y1="717.9" x2="1313.0" y2="724" stroke="#8c8c8c" stroke-width="1.6"/>
<text x="1299.1" y="739.5" font-size="14.24" fill="#d8d8d8">0.05</text>
<line x1="1367.1" y1="717.9" x2="1367.1" y2="724" stroke="#8c8c8c" stroke-width="1.6"/>
<text x="1357.1" y="739.5" font-size="14.24" fill="#d8d8d8">0.1</text>
<line x1="1421.1" y1="717.9" x2="1421.1" y2="724" stroke="#8c8c8c" stroke-width="1.6"/>
<text x="1407.3" y="739.5" font-size="14.24" fill="#d8d8d8">0.15</text>
<line x1="1475.2" y1="717.9" x2="1475.2" y2="724" stroke="#8c8c8c" stroke-width="1.6"/>
<text x="1465.3" y="739.5" font-size="14.24" fill="#d8d8d8">0.2</text>
<line x1="1529.3" y1="717.9" x2="1529.3" y2="724" stroke="#8c8c8c" stroke-width="1.6"/>
<text x="1515.4" y="739.5" font-size="14.24" fill="#d8d8d8">0.25</text>
<line x1="1583.4" y1="717.9" x2="1583.4" y2="724" stroke="#8c8c8c" stroke-width="1.6"/>
<text x="1573.4" y="739.5" font-size="14.24" fill="#d8d8d8">0.3</text>
<line x1="1637.4" y1="717.9" x2="1637.4" y2="724" stroke="#8c8c8c" stroke-width="1.6"/>
<text x="1623.6" y="739.5" font-size="14.24" fill="#d8d8d8">0.35</text>
<line x1="1691.5" y1="717.9" x2="1691.5" y2="724" stroke="#8c8c8c" stroke-width="1.6"/>
<text x="1681.6" y="739.5" font-size="14.24" fill="#d8d8d8">0.4</text>
<line x1="1745.6" y1="717.9" x2="1745.6" y2="724" stroke="#8c8c8c" stroke-width="1.6"/>
<text x="1731.7" y="739.5" font-size="14.24" fill="#d8d8d8">0.45</text>
<line x1="1799.7" y1="717.9" x2="1799.7" y2="724" stroke="#8c8c8c" stroke-width="1.6"/>
<text x="1789.7" y="739.5" font-size="14.24" fill="#d8d8d8">0.5</text>
<line x1="1853.7" y1="717.9" x2="1853.7" y2="724" stroke="#8c8c8c" stroke-width="1.6"/>
<text x="1839.9" y="739.5" font-size="14.24" fill="#d8d8d8">0.55</text>
<line x1="1253" y1="717.9" x2="1258.9" y2="717.9" stroke="#8c8c8c" stroke-width="1.6"/>
<text x="1245.1" y="722.8" font-size="14.24" fill="#d8d8d8">0</text>
<line x1="1253" y1="676.3" x2="1258.9" y2="676.3" stroke="#8c8c8c" stroke-width="1.6"/>
<text x="1225.3" y="681.2" font-size="14.24" fill="#d8d8d8">0.05</text>
<line x1="1253" y1="634.7" x2="1258.9" y2="634.7" stroke="#8c8c8c" stroke-width="1.6"/>
<text x="1233.2" y="639.6" font-size="14.24" fill="#d8d8d8">0.1</text>
<line x1="1253" y1="593.1" x2="1258.9" y2="593.1" stroke="#8c8c8c" stroke-width="1.6"/>
<text x="1225.3" y="598.0" font-size="14.24" fill="#d8d8d8">0.15</text>
<line x1="1253" y1="551.5" x2="1258.9" y2="551.5" stroke="#8c8c8c" stroke-width="1.6"/>
<text x="1233.2" y="556.4" font-size="14.24" fill="#d8d8d8">0.2</text>
<line x1="1253" y1="509.9" x2="1258.9" y2="509.9" stroke="#8c8c8c" stroke-width="1.6"/>
<text x="1225.3" y="514.8" font-size="14.24" fill="#d8d8d8">0.25</text>
<line x1="1253" y1="468.3" x2="1258.9" y2="468.3" stroke="#8c8c8c" stroke-width="1.6"/>
<text x="1233.2" y="473.2" font-size="14.24" fill="#d8d8d8">0.3</text>
<line x1="1253" y1="426.7" x2="1258.9" y2="426.7" stroke="#8c8c8c" stroke-width="1.6"/>
<text x="1225.3" y="431.6" font-size="14.24" fill="#d8d8d8">0.35</text>
<line x1="1253" y1="385.1" x2="1258.9" y2="385.1" stroke="#8c8c8c" stroke-width="1.6"/>
<text x="1233.2" y="390.0" font-size="14.24" fill="#d8d8d8">0.4</text>
<line x1="1253" y1="343.5" x2="1258.9" y2="343.5" stroke="#8c8c8c" stroke-width="1.6"/>
<text x="1225.3" y="348.4" font-size="14.24" fill="#d8d8d8">0.45</text>
<line x1="1253" y1="301.9" x2="1258.9" y2="301.9" stroke="#8c8c8c" stroke-width="1.6"/>
<text x="1233.2" y="306.8" font-size="14.24" fill="#d8d8d8">0.5</text>
<line x1="1253" y1="260.3" x2="1258.9" y2="260.3" stroke="#8c8c8c" stroke-width="1.6"/>
<text x="1225.3" y="265.2" font-size="14.24" fill="#d8d8d8">0.55</text>
<rect x="1461.1" y="350.1" width="14" height="14" fill="none" stroke="#f4f4f4" stroke-width="1.7"/>
<rect x="1459.6" y="389.1" width="14" height="14" fill="none" stroke="#f4f4f4" stroke-width="1.7"/>
<rect x="1455.5" y="436.2" width="14" height="14" fill="none" stroke="#f4f4f4" stroke-width="1.7"/>
<rect x="1448.4" y="498.4" width="14" height="14" fill="none" stroke="#f4f4f4" stroke-width="1.7"/>
<rect x="1442.4" y="577.9" width="14" height="14" fill="none" stroke="#f4f4f4" stroke-width="1.7"/>
<rect x="1484.9" y="334.9" width="14" height="14" fill="none" stroke="#f4f4f4" stroke-width="1.7"/>
<rect x="1506.1" y="354.2" width="14" height="14" fill="none" stroke="#f4f4f4" stroke-width="1.7"/>
<rect x="1534.3" y="377.8" width="14" height="14" fill="none" stroke="#f4f4f4" stroke-width="1.7"/>
<rect x="1565.0" y="403.9" width="14" height="14" fill="none" stroke="#f4f4f4" stroke-width="1.7"/>
<rect x="1602.8" y="436.2" width="14" height="14" fill="none" stroke="#f4f4f4" stroke-width="1.7"/>
<rect x="1521.8" y="311.2" width="14" height="14" fill="none" stroke="#f4f4f4" stroke-width="1.7"/>
<rect x="1581.5" y="303.1" width="14" height="14" fill="none" stroke="#f4f4f4" stroke-width="1.7"/>
<rect x="1650.4" y="291.9" width="14" height="14" fill="none" stroke="#f4f4f4" stroke-width="1.7"/>
<rect x="1716.7" y="281.8" width="14" height="14" fill="none" stroke="#f4f4f4" stroke-width="1.7"/>
<rect x="1788.5" y="271.7" width="14" height="14" fill="none" stroke="#f4f4f4" stroke-width="1.7"/>
<rect x="1448.6" y="322.6" width="14" height="14" fill="none" stroke="#f4f4f4" stroke-width="1.7"/>
<rect x="1432.1" y="325.0" width="14" height="14" fill="none" stroke="#f4f4f4" stroke-width="1.7"/>
<rect x="1415.6" y="326.2" width="14" height="14" fill="none" stroke="#f4f4f4" stroke-width="1.7"/>
<rect x="1398.4" y="329.7" width="14" height="14" fill="none" stroke="#f4f4f4" stroke-width="1.7"/>
<rect x="1382.0" y="332.5" width="14" height="14" fill="none" stroke="#f4f4f4" stroke-width="1.7"/>
<rect x="1433.3" y="292.0" width="14" height="14" fill="none" stroke="#f4f4f4" stroke-width="1.7"/>
<rect x="1408.6" y="271.8" width="14" height="14" fill="none" stroke="#f4f4f4" stroke-width="1.7"/>
<rect x="1387.8" y="253.6" width="14" height="14" fill="none" stroke="#f4f4f4" stroke-width="1.7"/>
<rect x="1372.1" y="239.5" width="14" height="14" fill="none" stroke="#f4f4f4" stroke-width="1.7"/>
<rect x="1358.4" y="228.4" width="14" height="14" fill="none" stroke="#f4f4f4" stroke-width="1.7"/>
<rect x="1467.7" y="298.5" width="14" height="14" fill="none" stroke="#f4f4f4" stroke-width="1.7"/>
<rect x="1469.2" y="281.8" width="14" height="14" fill="none" stroke="#f4f4f4" stroke-width="1.7"/>
<rect x="1470.2" y="266.6" width="14" height="14" fill="none" stroke="#f4f4f4" stroke-width="1.7"/>
<rect x="1471.7" y="252.5" width="14" height="14" fill="none" stroke="#f4f4f4" stroke-width="1.7"/>
<rect x="1472.7" y="238.8" width="14" height="14" fill="none" stroke="#f4f4f4" stroke-width="1.7"/>
<circle cx="1472.1" cy="361.2" r="4.8" fill="#9a9ac0" stroke="#141414" stroke-width="1.3"/>
<circle cx="1469.1" cy="406.2" r="4.8" fill="#8484c0" stroke="#141414" stroke-width="1.3"/>
<circle cx="1465.1" cy="459.4" r="4.8" fill="#7070c0" stroke="#141414" stroke-width="1.3"/>
<circle cx="1459.5" cy="532.7" r="4.8" fill="#5a5ab8" stroke="#141414" stroke-width="1.3"/>
<circle cx="1451.4" cy="625.3" r="4.8" fill="#1010a8" stroke="#141414" stroke-width="1.3"/>
<circle cx="1498.5" cy="345.0" r="4.8" fill="#a89ca8" stroke="#141414" stroke-width="1.3"/>
<circle cx="1527.4" cy="367.1" r="4.8" fill="#b090b0" stroke="#141414" stroke-width="1.3"/>
<circle cx="1553.8" cy="387.8" r="4.8" fill="#b080c0" stroke="#141414" stroke-width="1.3"/>
<circle cx="1589.6" cy="415.4" r="4.8" fill="#c070c0" stroke="#141414" stroke-width="1.3"/>
<circle cx="1630.5" cy="445.7" r="4.8" fill="#c020c0" stroke="#141414" stroke-width="1.3"/>
<circle cx="1540.0" cy="315.6" r="4.8" fill="#a88a8a" stroke="#141414" stroke-width="1.3"/>
<circle cx="1610.8" cy="306.0" r="4.8" fill="#a87272" stroke="#141414" stroke-width="1.3"/>
<circle cx="1673.0" cy="297.9" r="4.8" fill="#a86060" stroke="#141414" stroke-width="1.3"/>
<circle cx="1740.4" cy="287.8" r="4.8" fill="#b04c4c" stroke="#141414" stroke-width="1.3"/>
<circle cx="1797.0" cy="279.7" r="4.8" fill="#d01818" stroke="#141414" stroke-width="1.3"/>
<circle cx="1455.4" cy="327.8" r="4.8" fill="#a0b0b0" stroke="#141414" stroke-width="1.3"/>
<circle cx="1438.9" cy="330.8" r="4.8" fill="#90b0b0" stroke="#141414" stroke-width="1.3"/>
<circle cx="1419.6" cy="333.6" r="4.8" fill="#78b0b0" stroke="#141414" stroke-width="1.3"/>
<circle cx="1401.9" cy="336.5" r="4.8" fill="#50a8b0" stroke="#141414" stroke-width="1.3"/>
<circle cx="1384.2" cy="337.6" r="4.8" fill="#18b8c0" stroke="#141414" stroke-width="1.3"/>
<circle cx="1443.1" cy="300.7" r="4.8" fill="#98a898" stroke="#141414" stroke-width="1.3"/>
<circle cx="1416.7" cy="280.0" r="4.8" fill="#80aa80" stroke="#141414" stroke-width="1.3"/>
<circle cx="1394.6" cy="261.8" r="4.8" fill="#68a468" stroke="#141414" stroke-width="1.3"/>
<circle cx="1375.5" cy="247.0" r="4.8" fill="#50a050" stroke="#141414" stroke-width="1.3"/>
<circle cx="1358.8" cy="233.1" r="4.8" fill="#10b010" stroke="#141414" stroke-width="1.3"/>
<circle cx="1476.2" cy="306.0" r="4.8" fill="#b8b8a0" stroke="#141414" stroke-width="1.3"/>
<circle cx="1476.7" cy="288.3" r="4.8" fill="#b8b488" stroke="#141414" stroke-width="1.3"/>
<circle cx="1478.2" cy="272.1" r="4.8" fill="#b8b070" stroke="#141414" stroke-width="1.3"/>
<circle cx="1479.2" cy="259.5" r="4.8" fill="#c0b850" stroke="#141414" stroke-width="1.3"/>
<circle cx="1476.7" cy="245.8" r="4.8" fill="#c8c010" stroke="#141414" stroke-width="1.3"/>
<rect x="1465.3" y="319.8" width="14" height="14" fill="none" stroke="#000" stroke-width="2"/>
<circle cx="1474.9" cy="325.4" r="4.8" fill="#f4f4f4" stroke="#141414" stroke-width="1.3"/>
<circle cx="1486" cy="323" r="4.8" fill="#000"/>
<rect x="1687" y="563.3" width="215.5" height="146" fill="#222" stroke="#9a9a9a" stroke-width="2"/>
<g clip-path="url(#ciBox)"><g clip-path="url(#ciLocus)"><g filter="url(#fBlurV)"><rect x="1688" y="564" width="214" height="4.6" fill="url(#id0)"/><rect x="1688" y="568" width="214" height="4.6" fill="url(#id4)"/><rect x="1688" y="572" width="214" height="4.6" fill="url(#id8)"/><rect x="1688" y="576" width="214" height="4.6" fill="url(#id12)"/><rect x="1688" y="580" width="214" height="4.6" fill="url(#id16)"/><rect x="1688" y="584" width="214" height="4.6" fill="url(#id20)"/><rect x="1688" y="588" width="214" height="4.6" fill="url(#id24)"/><rect x="1688" y="592" width="214" height="4.6" fill="url(#id28)"/><rect x="1688" y="596" width="214" height="4.6" fill="url(#id32)"/><rect x="1688" y="600" width="214" height="4.6" fill="url(#id36)"/><rect x="1688" y="604" width="214" height="4.6" fill="url(#id40)"/><rect x="1688" y="608" width="214" height="4.6" fill="url(#id44)"/><rect x="1688" y="612" width="214" height="4.6" fill="url(#id48)"/><rect x="1688" y="616" width="214" height="4.6" fill="url(#id52)"/><rect x="1688" y="620" width="214" height="4.6" fill="url(#id56)"/><rect x="1688" y="624" width="214" height="4.6" fill="url(#id60)"/><rect x="1688" y="628" width="214" height="4.6" fill="url(#id64)"/><rect x="1688" y="632" width="214" height="4.6" fill="url(#id68)"/><rect x="1688" y="636" width="214" height="4.6" fill="url(#id72)"/><rect x="1688" y="640" width="214" height="4.6" fill="url(#id76)"/><rect x="1688" y="644" width="214" height="4.6" fill="url(#id80)"/><rect x="1688" y="648" width="214" height="4.6" fill="url(#id84)"/><rect x="1688" y="652" width="214" height="4.6" fill="url(#id88)"/><rect x="1688" y="656" width="214" height="4.6" fill="url(#id92)"/><rect x="1688" y="660" width="214" height="4.6" fill="url(#id96)"/><rect x="1688" y="664" width="214" height="4.6" fill="url(#id100)"/><rect x="1688" y="668" width="214" height="4.6" fill="url(#id104)"/><rect x="1688" y="672" width="214" height="4.6" fill="url(#id108)"/><rect x="1688" y="676" width="214" height="4.6" fill="url(#id112)"/><rect x="1688" y="680" width="214" height="4.6" fill="url(#id116)"/><rect x="1688" y="684" width="214" height="4.6" fill="url(#id120)"/><rect x="1688" y="688" width="214" height="4.6" fill="url(#id124)"/><rect x="1688" y="692" width="214" height="4.6" fill="url(#id128)"/><rect x="1688" y="696" width="214" height="4.6" fill="url(#id132)"/><rect x="1688" y="700" width="214" height="4.6" fill="url(#id136)"/><rect x="1688" y="704" width="214" height="4.6" fill="url(#id140)"/><rect x="1688" y="708" width="214" height="1.6" fill="url(#id144)"/></g><g clip-path="url(#ciTri)"><g filter="url(#fBlurV)"><rect x="1688" y="564" width="214" height="4.6" fill="url(#ib0)"/><rect x="1688" y="568" width="214" height="4.6" fill="url(#ib4)"/><rect x="1688" y="572" width="214" height="4.6" fill="url(#ib8)"/><rect x="1688" y="576" width="214" height="4.6" fill="url(#ib12)"/><rect x="1688" y="580" width="214" height="4.6" fill="url(#ib16)"/><rect x="1688" y="584" width="214" height="4.6" fill="url(#ib20)"/><rect x="1688" y="588" width="214" height="4.6" fill="url(#ib24)"/><rect x="1688" y="592" width="214" height="4.6" fill="url(#ib28)"/><rect x="1688" y="596" width="214" height="4.6" fill="url(#ib32)"/><rect x="1688" y="600" width="214" height="4.6" fill="url(#ib36)"/><rect x="1688" y="604" width="214" height="4.6" fill="url(#ib40)"/><rect x="1688" y="608" width="214" height="4.6" fill="url(#ib44)"/><rect x="1688" y="612" width="214" height="4.6" fill="url(#ib48)"/><rect x="1688" y="616" width="214" height="4.6" fill="url(#ib52)"/><rect x="1688" y="620" width="214" height="4.6" fill="url(#ib56)"/><rect x="1688" y="624" width="214" height="4.6" fill="url(#ib60)"/><rect x="1688" y="628" width="214" height="4.6" fill="url(#ib64)"/><rect x="1688" y="632" width="214" height="4.6" fill="url(#ib68)"/><rect x="1688" y="636" width="214" height="4.6" fill="url(#ib72)"/><rect x="1688" y="640" width="214" height="4.6" fill="url(#ib76)"/><rect x="1688" y="644" width="214" height="4.6" fill="url(#ib80)"/><rect x="1688" y="648" width="214" height="4.6" fill="url(#ib84)"/><rect x="1688" y="652" width="214" height="4.6" fill="url(#ib88)"/><rect x="1688" y="656" width="214" height="4.6" fill="url(#ib92)"/><rect x="1688" y="660" width="214" height="4.6" fill="url(#ib96)"/><rect x="1688" y="664" width="214" height="4.6" fill="url(#ib100)"/><rect x="1688" y="668" width="214" height="4.6" fill="url(#ib104)"/><rect x="1688" y="672" width="214" height="4.6" fill="url(#ib108)"/><rect x="1688" y="676" width="214" height="4.6" fill="url(#ib112)"/><rect x="1688" y="680" width="214" height="4.6" fill="url(#ib116)"/><rect x="1688" y="684" width="214" height="4.6" fill="url(#ib120)"/><rect x="1688" y="688" width="214" height="4.6" fill="url(#ib124)"/><rect x="1688" y="692" width="214" height="4.6" fill="url(#ib128)"/><rect x="1688" y="696" width="214" height="4.6" fill="url(#ib132)"/><rect x="1688" y="700" width="214" height="4.6" fill="url(#ib136)"/><rect x="1688" y="704" width="214" height="4.6" fill="url(#ib140)"/><rect x="1688" y="708" width="214" height="1.6" fill="url(#ib144)"/></g></g></g></g>
<rect x="1687" y="563.3" width="215.5" height="146" fill="none" stroke="#9a9a9a" stroke-width="2"/>
<circle cx="1790" cy="607.9" r="4.8" fill="#c8c010" stroke="#141414" stroke-width="1.3"/>
<rect x="1787" y="628.5" width="14" height="14" fill="none" stroke="#f4f4f4" stroke-width="1.7"/>
<text x="277.3" y="785.0" font-size="28.34" fill="#f0f0f0" textLength="236.0" lengthAdjust="spacingAndGlyphs">Avg dE2000: 1.98</text>
<text x="272.7" y="827.3" font-size="29.80" fill="#f0f0f0" textLength="245.0" lengthAdjust="spacingAndGlyphs">Max dE2000: 5.91</text>
<text x="240.7" y="876.0" font-size="30.52" fill="#f0f0f0" textLength="221.6" lengthAdjust="spacingAndGlyphs">Current Reading</text>
<text x="240.7" y="911.0" font-size="25.44" fill="#f0f0f0" textLength="103.3" lengthAdjust="spacingAndGlyphs">x: 0.4369</text>
<text x="400.0" y="911.0" font-size="25.44" fill="#f0f0f0" textLength="103.3" lengthAdjust="spacingAndGlyphs">y: 0.5454</text>
<text x="240.7" y="952.7" font-size="25.73" fill="#f0f0f0" textLength="97.0" lengthAdjust="spacingAndGlyphs">fL: 44.17</text>
<text x="240.7" y="987.3" font-size="25.73" fill="#f0f0f0" textLength="161.0" lengthAdjust="spacingAndGlyphs">cd/m²: 151.34</text>
<text x="655.8" y="787.3" font-size="14.24" fill="#d8d8d8">RGB Balance</text>
<rect x="586.7" y="793.3" width="255.0" height="182.70000000000005" fill="#222222"/>
<line x1="580.7" y1="793.3" x2="841.7" y2="793.3" stroke="#8c8c8c" stroke-width="1.8"/>
<text x="558.0" y="798.3" font-size="14.53" fill="#d8d8d8">110</text>
<line x1="580.7" y1="839.0" x2="841.7" y2="839.0" stroke="#8c8c8c" stroke-width="1.8"/>
<text x="556.9" y="844.0" font-size="14.53" fill="#d8d8d8">105</text>
<line x1="580.7" y1="884.6" x2="841.7" y2="884.6" stroke="#8c8c8c" stroke-width="1.8"/>
<text x="556.9" y="889.6" font-size="14.53" fill="#d8d8d8">100</text>
<line x1="580.7" y1="930.3" x2="841.7" y2="930.3" stroke="#8c8c8c" stroke-width="1.8"/>
<text x="565.0" y="935.3" font-size="14.53" fill="#d8d8d8">95</text>
<line x1="580.7" y1="976.0" x2="841.7" y2="976.0" stroke="#8c8c8c" stroke-width="1.8"/>
<text x="565.0" y="981.0" font-size="14.53" fill="#d8d8d8">90</text>
<rect x="612.8" y="874.1" width="66.0" height="101.9" fill="#000"/>
<rect x="614.0999999999999" y="875.4" width="63.4" height="100.6" fill="url(#gRb)"/>
<rect x="678.8" y="861.4" width="68.4" height="114.6" fill="#000"/>
<rect x="680.0999999999999" y="862.7" width="65.8" height="113.3" fill="url(#gGb)"/>
<rect x="747.2" y="955.9" width="67.8" height="20.1" fill="#000"/>
<rect x="748.5" y="957.2" width="65.2" height="18.8" fill="url(#gBb)"/>
<path d="M586.7 793.3 V982 M580.7 976 H841.7 M841.7 982 V793.3 H586.7" fill="none" stroke="#8c8c8c" stroke-width="1.8"/>
<text x="696.4" y="992.0" font-size="14.53" fill="#d8d8d8">100%</text>
<rect x="862.5" y="761" width="1049" height="241" fill="none" stroke="#d8d8d8" stroke-width="1.2" stroke-dasharray="1.6 2"/>
<rect x="864.2" y="762.3" width="737" height="14" fill="#2e2e2e"/>
<rect x="864.2" y="776" width="737" height="14.1" fill="#141414"/>
<rect x="864.2" y="790.1" width="737" height="26.35" fill="#404040"/>
<rect x="864.2" y="816.4" width="737" height="26.35" fill="#808080"/>
<rect x="864.2" y="842.6" width="737" height="26.35" fill="#404040"/>
<rect x="864.2" y="868.9" width="737" height="26.35" fill="#808080"/>
<rect x="864.2" y="895.1" width="737" height="26.35" fill="#404040"/>
<rect x="864.2" y="921.4" width="737" height="26.35" fill="#808080"/>
<rect x="864.2" y="947.6" width="737" height="26.35" fill="#404040"/>
<rect x="864.2" y="973.9" width="737" height="26.35" fill="#808080"/>
<text x="881.7" y="809.7" font-size="17.30" fill="#f4f4f4" font-weight="bold" textLength="88.0" lengthAdjust="spacingAndGlyphs" stroke="#f4f4f4" stroke-width="0.3">x: CIE31</text>
<text x="1067.6" y="809.7" font-size="16.86" fill="#f4f4f4" textLength="68.0" lengthAdjust="spacingAndGlyphs">0.3405</text>
<text x="1175.6" y="809.7" font-size="16.86" fill="#f4f4f4" textLength="68.0" lengthAdjust="spacingAndGlyphs">0.3658</text>
<text x="1283.6" y="809.7" font-size="16.86" fill="#f4f4f4" textLength="68.0" lengthAdjust="spacingAndGlyphs">0.3904</text>
<text x="1391.6" y="809.7" font-size="16.86" fill="#f4f4f4" textLength="68.0" lengthAdjust="spacingAndGlyphs">0.4133</text>
<text x="1499.6" y="809.7" font-size="16.86" fill="#f4f4f4" textLength="68.0" lengthAdjust="spacingAndGlyphs">0.4369</text>
<text x="881.7" y="836.0" font-size="17.30" fill="#f4f4f4" font-weight="bold" textLength="88.0" lengthAdjust="spacingAndGlyphs" stroke="#f4f4f4" stroke-width="0.3">y: CIE31</text>
<text x="1067.6" y="836.0" font-size="16.86" fill="#f4f4f4" textLength="68.0" lengthAdjust="spacingAndGlyphs">0.3719</text>
<text x="1175.6" y="836.0" font-size="16.86" fill="#f4f4f4" textLength="68.0" lengthAdjust="spacingAndGlyphs">0.4152</text>
<text x="1283.6" y="836.0" font-size="16.86" fill="#f4f4f4" textLength="68.0" lengthAdjust="spacingAndGlyphs">0.4573</text>
<text x="1391.6" y="836.0" font-size="16.86" fill="#f4f4f4" textLength="68.0" lengthAdjust="spacingAndGlyphs">0.4966</text>
<text x="1499.6" y="836.0" font-size="16.86" fill="#f4f4f4" textLength="68.0" lengthAdjust="spacingAndGlyphs">0.5454</text>
<text x="881.7" y="862.2" font-size="17.30" fill="#f4f4f4" font-weight="bold" textLength="15.6" lengthAdjust="spacingAndGlyphs" stroke="#f4f4f4" stroke-width="0.3">Y</text>
<text x="1067.6" y="862.2" font-size="16.86" fill="#f4f4f4" textLength="95.5" lengthAdjust="spacingAndGlyphs">152.6788</text>
<text x="1175.6" y="862.2" font-size="16.86" fill="#f4f4f4" textLength="95.5" lengthAdjust="spacingAndGlyphs">151.0732</text>
<text x="1283.6" y="862.2" font-size="16.86" fill="#f4f4f4" textLength="95.5" lengthAdjust="spacingAndGlyphs">149.8037</text>
<text x="1391.6" y="862.2" font-size="16.86" fill="#f4f4f4" textLength="95.5" lengthAdjust="spacingAndGlyphs">148.8561</text>
<text x="1499.6" y="862.2" font-size="16.86" fill="#f4f4f4" textLength="95.5" lengthAdjust="spacingAndGlyphs">151.3405</text>
<text x="881.7" y="888.5" font-size="17.30" fill="#f4f4f4" font-weight="bold" textLength="159.5" lengthAdjust="spacingAndGlyphs" stroke="#f4f4f4" stroke-width="0.3">Target x:CIE31</text>
<text x="1067.6" y="888.5" font-size="16.86" fill="#f4f4f4" textLength="68.0" lengthAdjust="spacingAndGlyphs">0.3384</text>
<text x="1175.6" y="888.5" font-size="16.86" fill="#f4f4f4" textLength="68.0" lengthAdjust="spacingAndGlyphs">0.3619</text>
<text x="1283.6" y="888.5" font-size="16.86" fill="#f4f4f4" textLength="68.0" lengthAdjust="spacingAndGlyphs">0.3869</text>
<text x="1391.6" y="888.5" font-size="16.86" fill="#f4f4f4" textLength="68.0" lengthAdjust="spacingAndGlyphs">0.4128</text>
<text x="1499.6" y="888.5" font-size="16.86" fill="#f4f4f4" textLength="68.0" lengthAdjust="spacingAndGlyphs">0.4378</text>
<text x="881.7" y="914.7" font-size="17.30" fill="#f4f4f4" font-weight="bold" textLength="159.5" lengthAdjust="spacingAndGlyphs" stroke="#f4f4f4" stroke-width="0.3">Target y:CIE31</text>
<text x="1067.6" y="914.7" font-size="16.86" fill="#f4f4f4" textLength="68.0" lengthAdjust="spacingAndGlyphs">0.3714</text>
<text x="1175.6" y="914.7" font-size="16.86" fill="#f4f4f4" textLength="68.0" lengthAdjust="spacingAndGlyphs">0.4103</text>
<text x="1283.6" y="914.7" font-size="16.86" fill="#f4f4f4" textLength="68.0" lengthAdjust="spacingAndGlyphs">0.4517</text>
<text x="1391.6" y="914.7" font-size="16.86" fill="#f4f4f4" textLength="68.0" lengthAdjust="spacingAndGlyphs">0.4944</text>
<text x="1499.6" y="914.7" font-size="16.86" fill="#f4f4f4" textLength="68.0" lengthAdjust="spacingAndGlyphs">0.5359</text>
<text x="881.7" y="941.0" font-size="17.30" fill="#f4f4f4" font-weight="bold" textLength="93.7" lengthAdjust="spacingAndGlyphs" stroke="#f4f4f4" stroke-width="0.3">Target Y</text>
<text x="1067.6" y="941.0" font-size="16.86" fill="#f4f4f4" textLength="95.5" lengthAdjust="spacingAndGlyphs">149.9825</text>
<text x="1175.6" y="941.0" font-size="16.86" fill="#f4f4f4" textLength="95.5" lengthAdjust="spacingAndGlyphs">147.2928</text>
<text x="1283.6" y="941.0" font-size="16.86" fill="#f4f4f4" textLength="95.5" lengthAdjust="spacingAndGlyphs">145.0177</text>
<text x="1391.6" y="941.0" font-size="16.86" fill="#f4f4f4" textLength="95.5" lengthAdjust="spacingAndGlyphs">143.1238</text>
<text x="1499.6" y="941.0" font-size="16.86" fill="#f4f4f4" textLength="95.5" lengthAdjust="spacingAndGlyphs">141.6096</text>
<text x="881.7" y="967.2" font-size="17.30" fill="#f4f4f4" font-weight="bold" textLength="92.0" lengthAdjust="spacingAndGlyphs" stroke="#f4f4f4" stroke-width="0.3">ΔE 2000</text>
<text x="1067.6" y="967.2" font-size="16.86" fill="#f4f4f4" textLength="68.0" lengthAdjust="spacingAndGlyphs">0.9028</text>
<text x="1175.6" y="967.2" font-size="16.86" fill="#f4f4f4" textLength="68.0" lengthAdjust="spacingAndGlyphs">1.1380</text>
<text x="1283.6" y="967.2" font-size="16.86" fill="#f4f4f4" textLength="68.0" lengthAdjust="spacingAndGlyphs">1.1895</text>
<text x="1391.6" y="967.2" font-size="16.86" fill="#f4f4f4" textLength="68.0" lengthAdjust="spacingAndGlyphs">0.9917</text>
<text x="1499.6" y="967.2" font-size="16.86" fill="#f4f4f4" textLength="68.0" lengthAdjust="spacingAndGlyphs">2.3005</text>
<text x="881.7" y="993.5" font-size="17.30" fill="#f4f4f4" font-weight="bold" textLength="73.0" lengthAdjust="spacingAndGlyphs" stroke="#f4f4f4" stroke-width="0.3">ΔE ITP</text>
<text x="1067.6" y="993.5" font-size="16.86" fill="#f4f4f4" textLength="68.0" lengthAdjust="spacingAndGlyphs">1.8095</text>
<text x="1175.6" y="993.5" font-size="16.86" fill="#f4f4f4" textLength="68.0" lengthAdjust="spacingAndGlyphs">3.2628</text>
<text x="1283.6" y="993.5" font-size="16.86" fill="#f4f4f4" textLength="68.0" lengthAdjust="spacingAndGlyphs">4.0967</text>
<text x="1391.6" y="993.5" font-size="16.86" fill="#f4f4f4" textLength="68.0" lengthAdjust="spacingAndGlyphs">3.2745</text>
<text x="1499.6" y="993.5" font-size="16.86" fill="#f4f4f4" textLength="68.0" lengthAdjust="spacingAndGlyphs">9.0907</text>
<text x="1095.2" y="782.5" font-size="15.70" fill="#f4f4f4" font-weight="bold" textLength="40.5" lengthAdjust="spacingAndGlyphs">20%</text>
<text x="1203.2" y="782.5" font-size="15.70" fill="#f4f4f4" font-weight="bold" textLength="40.5" lengthAdjust="spacingAndGlyphs">40%</text>
<text x="1311.2" y="782.5" font-size="15.70" fill="#f4f4f4" font-weight="bold" textLength="40.5" lengthAdjust="spacingAndGlyphs">60%</text>
<text x="1419.2" y="782.5" font-size="15.70" fill="#f4f4f4" font-weight="bold" textLength="40.5" lengthAdjust="spacingAndGlyphs">80%</text>
<text x="1521.5" y="782.5" font-size="15.70" fill="#f4f4f4" font-weight="bold" textLength="52.0" lengthAdjust="spacingAndGlyphs">100%</text>
<rect x="1601" y="762.3" width="2" height="238" fill="#0a0a0a"/>
<rect x="225" y="1076" width="1695" height="70" fill="url(#gBotBar)"/>
<rect x="226" y="1076.5" width="50.6" height="69.5" rx="5" fill="url(#gBtn)"/>
<circle cx="251.4" cy="1086.7" r="8.5" fill="#6a6a6a"/>
<polygon points="246.5,1089.5 256.5,1089.5 251.5,1084" fill="#222"/>
<rect x="232.2" y="1105.6" width="39" height="33.6" rx="4" fill="#ffff00"/>
<rect x="283.6" y="1076.5" width="168.2" height="69.5" rx="5" fill="url(#gBtn)"/>
<rect x="289.1" y="1082" width="157.2" height="40.5" rx="4" fill="#c2c3a0" stroke="#8a8a70" stroke-width="0.8"/>
<text x="356.1" y="1139.5" font-size="11.63" fill="#333333" font-weight="bold">20%</text>
<rect x="454.8" y="1076.5" width="167.7" height="69.5" rx="5" fill="url(#gBtn)"/>
<rect x="460.3" y="1082" width="156.7" height="40.5" rx="4" fill="#c2c181" stroke="#8a8a70" stroke-width="0.8"/>
<text x="527.0" y="1139.5" font-size="11.63" fill="#333333" font-weight="bold">40%</text>
<rect x="625.8" y="1076.5" width="167.8" height="69.5" rx="5" fill="url(#gBtn)"/>
<rect x="631.3" y="1082" width="156.8" height="40.5" rx="4" fill="#c4c262" stroke="#8a8a70" stroke-width="0.8"/>
<text x="698.1" y="1139.5" font-size="11.63" fill="#333333" font-weight="bold">60%</text>
<rect x="796.4" y="1076.5" width="168.6" height="69.5" rx="5" fill="url(#gBtn)"/>
<rect x="801.9" y="1082" width="157.6" height="40.5" rx="4" fill="#c4c040" stroke="#8a8a70" stroke-width="0.8"/>
<text x="869.1" y="1139.5" font-size="11.63" fill="#333333" font-weight="bold">80%</text>
<rect x="967.8" y="1076" width="168.2" height="70" rx="5" fill="url(#gBtnSel)"/>
<rect x="973.2" y="1081.7" width="157.8" height="40.9" rx="4" fill="#c2be00"/>
<text x="1037.1" y="1139.9" font-size="11.63" fill="#ffffff" font-weight="bold">100%</text>
<rect x="1556.7" y="1075.8" width="54" height="70.2" rx="5" fill="url(#gBtn2)"/>
<line x1="1557" y1="1097" x2="1610.5" y2="1097" stroke="#555" stroke-width="1"/>
<circle cx="1583.5" cy="1086" r="8" fill="#8a8a8a"/>
<polygon points="1579,1089 1588,1089 1583.5,1084" fill="#222"/>
<rect x="1567.5" y="1104.5" width="32" height="32" rx="4" fill="#9a9a9a" stroke="#222" stroke-width="2.5"/>
<rect x="1576" y="1113" width="15" height="15" fill="#000"/>
<rect x="1612.5" y="1076" width="50.7" height="34" rx="3" fill="url(#gBtn2)"/>
<circle cx="1637.8" cy="1091" r="10" fill="url(#gIcoC)"/>
<rect x="1664.2" y="1076" width="50.0" height="34" rx="3" fill="url(#gBtn2)"/>
<circle cx="1689.2" cy="1091" r="10" fill="url(#gIcoC)"/>
<rect x="1715.2" y="1076" width="50.1" height="34" rx="3" fill="url(#gBtn2)"/>
<circle cx="1740.2" cy="1091" r="10" fill="url(#gIcoC)"/>
<rect x="1766.3" y="1076" width="49.1" height="34" rx="3" fill="url(#gBtn2)"/>
<circle cx="1790.8" cy="1091" r="10" fill="url(#gIcoC)"/>
<rect x="1816.4" y="1076" width="49.1" height="34" rx="3" fill="url(#gBtn2)"/>
<circle cx="1841.0" cy="1091" r="10" fill="url(#gIcoC)"/>
<rect x="1866.5" y="1076" width="53.0" height="34" rx="3" fill="url(#gBtn2)"/>
<circle cx="1893.0" cy="1091" r="10" fill="url(#gIcoC)"/>
<rect x="1632" y="1085" width="9" height="9" fill="#111"/>
<polygon points="1686,1086 1694,1091 1686,1096" fill="#222"/>
<path d="M1737 1086 h-3 v10 h3 M1745 1086 h3 v10 h-3" fill="none" stroke="#222" stroke-width="1.5"/>
<path d="M1790.8 1091 c-3 -4 -7 -4 -7 0 c0 4 4 4 7 0 c3 -4 7 -4 7 0 c0 4 -4 4 -7 0" fill="none" stroke="#222" stroke-width="1.5"/>
<path d="M1846 1095 a5 5 0 1 1 2 -6" fill="none" stroke="#222" stroke-width="1.8"/><polygon points="1845,1086 1850,1090 1851,1084" fill="#222"/>
<rect x="1612.5" y="1111" width="152.3" height="35" rx="3" fill="url(#gBtn2)"/>
<rect x="1766.3" y="1111" width="153.7" height="35" rx="3" fill="url(#gBtn2)"/>
<text x="1677.0" y="1136.5" font-size="25.44" fill="#303030" textLength="56.0" lengthAdjust="spacingAndGlyphs">Back</text>
<text x="1797.6" y="1136.5" font-size="25.44" fill="#303030" textLength="56.8" lengthAdjust="spacingAndGlyphs">Next</text>
<circle cx="1889" cy="1128" r="9" fill="#8c8c8c"/>
<path d="M1884 1123 l4 5 l-4 5 M1889 1123 l4 5 l-4 5" fill="none" stroke="#333" stroke-width="1.6"/>
<g opacity="0.78">
<path d="M1631.5 1084.5 L1671 1092 L1669.5 1114 M1641 1117.5 L1697 1119.5 L1657 1133 L1636.5 1124 L1631.5 1084.5" fill="none" stroke="#f0f0f0" stroke-width="4.6" stroke-linejoin="round" stroke-linecap="round" opacity="0.8"/>
<path d="M1631.5 1084.5 L1671 1092 L1669.5 1114 M1641 1117.5 L1697 1119.5 L1657 1133 L1636.5 1124 L1631.5 1084.5" fill="none" stroke="#b03040" stroke-width="2.4" stroke-linejoin="round" stroke-linecap="round"/>
<path d="M1640.5 1095.5 L1653.6 1110 L1674 1084" fill="none" stroke="#f0f0f0" stroke-width="5.4" stroke-linejoin="round" stroke-linecap="round"/>
<path d="M1640.5 1095.5 L1653.6 1110 L1674 1084" fill="none" stroke="#444" stroke-width="3"/>
<text x="1674.0" y="1111.7" font-size="24.71" fill="#b03848" font-weight="bold" textLength="149.0" lengthAdjust="spacingAndGlyphs" stroke="#f2f2f2" stroke-width="2.2" stroke-linejoin="round" paint-order="stroke">NOTEBOOK</text>
<text x="1823.5" y="1111.7" font-size="24.71" fill="#3a3a3a" textLength="87.9" lengthAdjust="spacingAndGlyphs" stroke="#f2f2f2" stroke-width="2.2" stroke-linejoin="round" paint-order="stroke">CHECK</text>
</g></svg></body></html>
